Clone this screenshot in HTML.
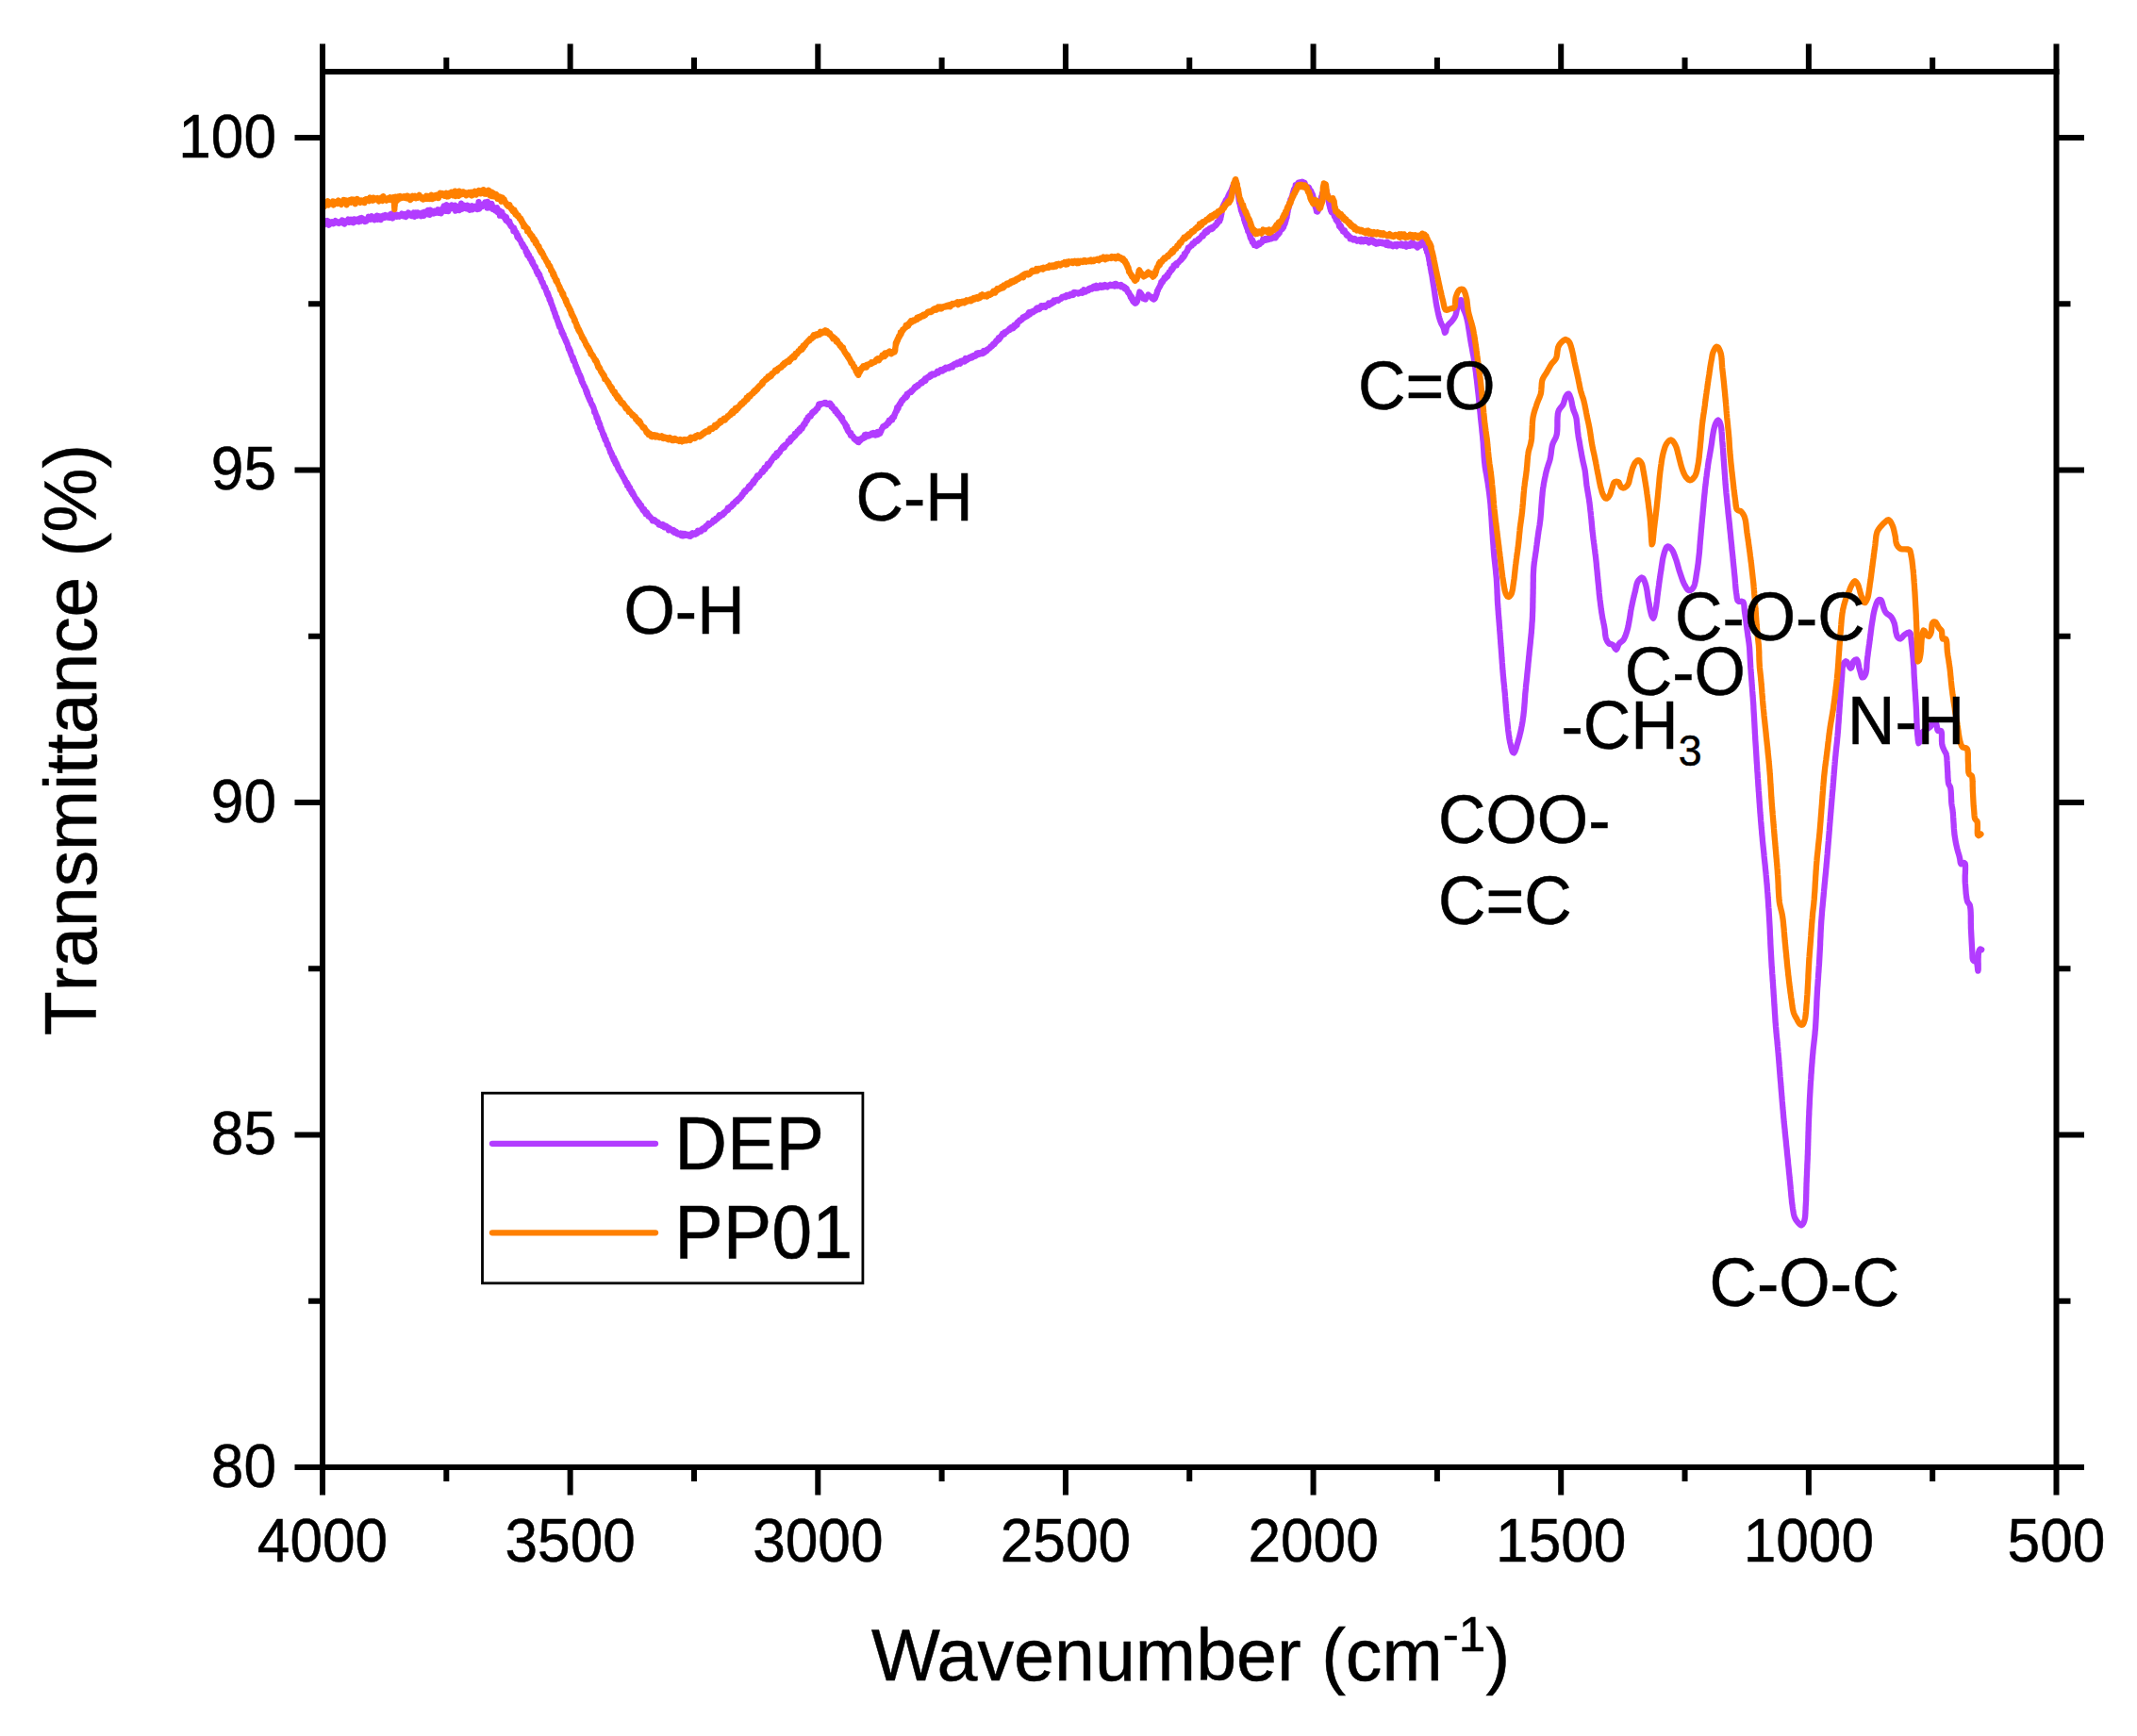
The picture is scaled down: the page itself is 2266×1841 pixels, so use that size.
<!DOCTYPE html>
<html lang="en"><head><meta charset="utf-8"><title>FTIR spectra</title>
<style>html,body{margin:0;padding:0;background:#fff}svg{display:block}text{font-kerning:none;stroke:#000;stroke-width:0.5px;font-family:"Liberation Sans",Arial,Helvetica,sans-serif;fill:#000}</style></head><body>
<svg width="2266" height="1841" viewBox="0 0 2266 1841">
<rect x="0" y="0" width="2266" height="1841" fill="#fff"/>
<g fill="none" stroke-linejoin="round" stroke-linecap="round" stroke-width="6.3">
<path stroke="#B23CFF" d="M343.8,238.0 L343.8,238.2 L343.8,236.3 L343.9,235.2 L344.1,234.8 L344.2,236.3 L344.4,234.8 L344.7,234.3 L344.9,236.5 L345.3,236.3 L345.6,236.9 L346.0,234.9 L346.4,236.1 L346.8,236.0 L347.2,234.0 L347.7,236.8 L348.2,236.4 L348.7,238.7 L349.3,236.2 L349.9,235.7 L350.4,237.5 L351.1,236.1 L351.7,237.0 L352.3,235.3 L353.0,236.0 L353.7,237.1 L354.4,236.6 L355.1,235.8 L355.8,234.1 L356.6,236.1 L357.3,235.6 L358.1,236.4 L358.8,235.7 L359.6,236.8 L360.4,235.2 L361.2,235.5 L362.0,236.1 L362.8,233.6 L363.6,234.5 L364.4,234.3 L365.2,237.6 L366.0,234.8 L366.8,235.7 L367.6,235.6 L368.4,234.3 L369.2,232.6 L370.0,235.9 L370.8,234.0 L371.6,235.5 L372.3,232.7 L373.1,233.8 L373.8,236.0 L374.6,236.2 L375.3,232.4 L376.0,232.3 L376.7,234.0 L377.4,235.0 L378.1,234.2 L378.7,234.3 L379.4,232.5 L380.0,234.5 L380.6,235.2 L381.2,233.0 L381.8,231.6 L382.4,232.5 L383.0,234.5 L383.6,231.0 L384.1,233.2 L384.7,231.9 L385.3,233.0 L385.9,232.7 L386.5,233.0 L387.1,235.0 L387.7,233.4 L388.3,234.6 L388.9,232.5 L389.5,232.0 L390.1,233.0 L390.7,229.8 L391.3,232.3 L391.9,232.5 L392.5,230.5 L393.1,232.7 L393.6,231.3 L394.2,229.2 L394.8,231.6 L395.4,230.5 L396.0,231.0 L396.6,231.4 L397.2,233.2 L397.8,231.6 L398.4,231.3 L399.0,231.8 L399.6,228.7 L400.2,232.8 L400.8,229.5 L401.4,231.5 L402.0,229.3 L402.6,229.4 L403.2,230.1 L403.8,233.1 L404.4,231.4 L405.0,229.6 L405.6,229.9 L406.2,228.7 L406.8,230.1 L407.4,229.3 L408.0,230.9 L408.6,228.0 L409.2,229.3 L409.7,228.6 L410.3,228.7 L410.9,230.5 L411.5,229.6 L412.1,230.2 L412.7,230.9 L413.3,230.8 L413.9,227.3 L414.5,229.8 L415.1,226.6 L415.7,228.9 L416.3,231.5 L416.9,228.6 L417.5,228.3 L418.1,228.9 L418.7,228.6 L419.3,228.6 L419.9,227.5 L420.5,229.9 L421.2,229.6 L421.8,228.0 L422.4,228.7 L423.0,229.1 L423.6,229.6 L424.2,228.6 L424.9,229.0 L425.5,227.7 L426.1,226.5 L426.7,227.3 L427.4,229.3 L428.0,229.2 L428.6,228.0 L429.2,227.0 L429.9,228.1 L430.5,229.9 L431.1,229.4 L431.7,226.7 L432.4,227.5 L433.0,225.5 L433.6,225.9 L434.2,227.7 L434.9,227.4 L435.5,228.6 L436.1,229.0 L436.7,228.4 L437.4,229.0 L438.0,226.4 L438.6,225.6 L439.2,227.8 L439.8,229.7 L440.4,227.5 L441.1,225.4 L441.7,227.2 L442.3,228.8 L442.9,225.4 L443.5,227.8 L444.1,225.9 L444.7,228.4 L445.3,227.7 L445.9,227.0 L446.5,229.2 L447.1,225.9 L447.7,225.5 L448.2,228.8 L448.8,225.1 L449.4,228.9 L450.0,226.1 L450.5,224.7 L451.1,226.0 L451.7,226.1 L452.2,226.2 L452.8,225.6 L453.4,227.2 L453.9,223.0 L454.5,224.8 L455.0,225.1 L455.7,227.9 L456.3,222.6 L456.9,224.7 L457.6,223.5 L458.2,224.0 L458.8,225.7 L459.5,225.2 L460.1,226.5 L460.7,223.6 L461.3,224.6 L461.9,225.7 L462.5,225.2 L463.1,223.4 L463.7,225.2 L464.3,222.3 L464.9,225.8 L465.5,223.6 L466.1,222.9 L466.7,223.5 L467.2,224.5 L467.8,226.2 L468.4,222.2 L469.0,221.6 L469.5,223.4 L470.1,220.3 L470.7,218.5 L471.3,223.4 L471.8,220.8 L472.4,223.8 L473.0,219.3 L473.6,217.2 L474.1,221.6 L474.7,221.3 L475.3,224.1 L475.9,221.8 L476.5,221.2 L477.0,221.7 L477.6,219.6 L478.2,220.4 L478.8,217.4 L479.4,221.1 L480.0,218.4 L480.6,219.0 L481.2,221.3 L481.8,221.6 L482.5,217.7 L483.1,223.7 L483.7,218.4 L484.4,221.3 L485.0,221.5 L485.7,220.0 L486.3,219.8 L487.0,223.1 L487.6,221.2 L488.3,220.3 L489.0,215.7 L489.6,217.9 L490.3,221.7 L490.9,219.7 L491.6,217.4 L492.2,218.0 L492.9,218.7 L493.5,220.7 L494.2,220.1 L494.8,221.3 L495.4,217.6 L496.1,221.3 L496.7,218.3 L497.3,218.7 L497.9,222.8 L498.5,219.4 L499.1,218.9 L499.7,218.8 L500.3,218.4 L500.8,222.3 L501.4,221.9 L502.0,220.5 L502.5,219.4 L503.0,221.1 L503.5,218.8 L504.0,219.8 L504.5,219.6 L505.0,218.9 L505.7,222.0 L506.4,222.0 L507.0,221.0 L507.6,214.2 L508.2,221.6 L508.8,219.1 L509.4,216.5 L509.9,217.1 L510.5,219.3 L511.0,219.2 L511.6,218.3 L512.1,216.7 L512.7,216.4 L513.2,217.9 L513.8,216.0 L514.4,214.4 L515.0,215.0 L515.5,216.1 L516.0,217.1 L516.5,220.6 L517.1,214.0 L517.6,217.9 L518.1,216.9 L518.7,218.0 L519.2,220.4 L519.8,220.4 L520.3,217.8 L520.9,217.3 L521.4,216.0 L522.0,219.0 L522.6,222.0 L523.1,219.3 L523.7,221.6 L524.2,222.0 L524.8,221.7 L525.3,223.5 L525.9,221.5 L526.4,220.4 L527.0,220.2 L527.5,224.8 L528.0,222.6 L528.5,223.1 L529.0,225.9 L529.5,223.0 L530.0,228.6 L530.4,226.7 L530.9,224.7 L531.3,224.9 L531.7,228.8 L532.2,224.6 L532.6,226.1 L533.0,227.8 L533.4,228.7 L533.8,228.7 L534.2,229.9 L534.6,228.8 L535.0,229.9 L535.4,231.9 L535.8,231.7 L536.2,230.9 L536.6,233.8 L536.9,230.2 L537.3,233.0 L537.7,234.1 L538.1,234.9 L538.4,234.5 L538.8,234.4 L539.2,236.0 L539.5,235.6 L539.9,236.9 L540.3,234.7 L540.7,237.8 L541.0,237.0 L541.4,239.5 L541.8,239.8 L542.1,240.3 L542.5,239.6 L542.8,240.9 L543.1,240.6 L543.5,241.6 L543.8,241.7 L544.1,241.4 L544.4,245.0 L544.7,244.1 L545.0,241.6 L545.4,245.3 L545.7,243.3 L546.0,245.1 L546.3,245.2 L546.6,245.8 L546.9,247.1 L547.2,247.0 L547.5,246.3 L547.8,248.4 L548.1,249.4 L548.4,251.4 L548.7,249.6 L549.0,249.2 L549.3,250.7 L549.6,252.3 L549.9,251.2 L550.2,251.9 L550.5,253.8 L550.8,253.7 L551.1,254.5 L551.4,254.1 L551.7,254.5 L552.0,255.6 L552.3,256.3 L552.6,256.6 L552.9,258.0 L553.2,258.7 L553.5,259.2 L553.8,259.7 L554.1,258.7 L554.4,259.0 L554.7,261.6 L555.0,261.3 L555.3,261.9 L555.6,261.0 L555.9,262.6 L556.2,262.7 L556.5,262.9 L556.8,263.7 L557.1,263.3 L557.4,265.5 L557.7,267.3 L558.0,265.7 L558.3,267.1 L558.6,266.4 L558.9,268.8 L559.2,270.7 L559.5,267.8 L559.8,269.4 L560.1,271.3 L560.4,271.0 L560.7,271.3 L561.0,270.2 L561.3,272.2 L561.6,273.6 L561.9,274.5 L562.2,274.4 L562.5,274.0 L562.8,274.4 L563.1,274.1 L563.4,275.2 L563.7,277.5 L564.0,277.1 L564.3,276.6 L564.6,279.3 L564.9,277.4 L565.2,280.3 L565.5,279.6 L565.8,280.7 L566.0,281.5 L566.3,281.7 L566.6,283.1 L566.9,282.6 L567.2,282.9 L567.5,283.2 L567.8,283.1 L568.0,284.2 L568.3,286.1 L568.6,286.5 L568.8,287.5 L569.1,288.5 L569.4,288.0 L569.6,288.3 L569.9,287.4 L570.2,288.8 L570.4,291.1 L570.7,290.5 L571.0,290.5 L571.2,291.4 L571.5,290.1 L571.8,291.5 L572.0,291.7 L572.3,291.6 L572.6,294.4 L572.8,295.1 L573.1,294.7 L573.4,295.7 L573.6,295.1 L573.9,296.8 L574.1,297.6 L574.4,298.8 L574.7,299.4 L574.9,299.1 L575.2,299.1 L575.4,299.1 L575.7,299.8 L576.0,301.4 L576.2,301.9 L576.5,302.0 L576.7,303.9 L577.0,303.6 L577.2,303.7 L577.5,304.1 L577.7,304.9 L578.0,304.6 L578.2,305.2 L578.5,306.8 L578.8,306.6 L579.0,307.5 L579.3,309.2 L579.5,308.7 L579.8,310.5 L580.0,310.0 L580.2,311.7 L580.4,311.4 L580.7,310.2 L580.9,313.1 L581.1,312.5 L581.3,311.7 L581.5,313.9 L581.8,314.5 L582.0,313.9 L582.2,315.0 L582.4,316.5 L582.6,317.7 L582.8,318.1 L583.1,318.7 L583.3,319.2 L583.5,317.3 L583.7,318.9 L583.9,320.2 L584.1,319.0 L584.3,321.8 L584.5,322.5 L584.7,321.7 L584.9,322.6 L585.2,322.7 L585.4,324.1 L585.6,324.6 L585.8,325.2 L586.0,325.0 L586.2,326.7 L586.4,326.7 L586.6,328.4 L586.8,328.4 L587.0,327.6 L587.2,328.2 L587.4,330.0 L587.6,330.1 L587.9,331.5 L588.1,332.4 L588.3,332.3 L588.5,331.5 L588.7,332.5 L588.9,334.5 L589.1,333.8 L589.3,336.1 L589.5,335.7 L589.7,336.8 L589.9,336.2 L590.1,337.4 L590.4,336.5 L590.6,338.5 L590.8,339.7 L591.0,339.1 L591.2,339.7 L591.4,340.9 L591.6,341.6 L591.9,341.4 L592.1,343.2 L592.3,341.9 L592.5,344.6 L592.7,343.2 L593.0,344.2 L593.2,346.5 L593.4,345.2 L593.6,345.3 L593.9,347.2 L594.1,347.0 L594.3,347.4 L594.6,348.3 L594.8,348.8 L595.0,349.2 L595.2,349.7 L595.5,352.4 L595.7,351.1 L595.9,353.0 L596.2,351.6 L596.4,353.8 L596.6,352.9 L596.9,354.1 L597.1,355.5 L597.3,355.1 L597.6,354.5 L597.8,356.2 L598.0,357.1 L598.3,358.2 L598.5,357.5 L598.7,358.6 L599.0,359.4 L599.2,358.6 L599.4,360.4 L599.7,360.4 L599.9,361.9 L600.1,362.0 L600.4,362.5 L600.6,361.6 L600.8,363.7 L601.1,364.0 L601.3,364.1 L601.5,365.0 L601.8,365.0 L602.0,366.7 L602.2,367.6 L602.5,368.1 L602.7,367.8 L602.9,370.1 L603.2,370.0 L603.4,369.1 L603.6,370.3 L603.8,369.6 L604.1,371.4 L604.3,372.6 L604.5,373.6 L604.8,372.9 L605.0,372.3 L605.2,374.2 L605.4,375.9 L605.7,375.5 L605.9,377.0 L606.1,377.2 L606.3,378.3 L606.6,378.1 L606.8,377.7 L607.0,379.1 L607.2,380.9 L607.5,379.4 L607.7,378.9 L607.9,382.6 L608.1,381.9 L608.4,381.6 L608.6,382.2 L608.8,382.0 L609.0,384.3 L609.2,384.4 L609.5,384.4 L609.7,385.1 L609.9,385.7 L610.1,387.4 L610.4,387.0 L610.6,388.8 L610.8,387.6 L611.0,388.3 L611.2,389.0 L611.5,389.5 L611.7,390.4 L611.9,391.9 L612.1,392.6 L612.4,391.3 L612.6,393.8 L612.8,393.4 L613.0,395.1 L613.3,394.3 L613.5,394.3 L613.7,396.2 L613.9,396.6 L614.1,396.3 L614.4,397.2 L614.6,397.9 L614.8,398.6 L615.0,397.5 L615.3,398.5 L615.5,400.1 L615.7,400.8 L615.9,400.7 L616.2,400.3 L616.4,403.3 L616.6,402.5 L616.8,402.5 L617.1,405.2 L617.3,405.4 L617.5,405.8 L617.7,406.2 L618.0,406.6 L618.2,405.9 L618.4,407.3 L618.7,408.1 L618.9,408.9 L619.1,409.3 L619.3,408.7 L619.6,409.5 L619.8,410.3 L620.0,411.0 L620.3,411.0 L620.5,410.8 L620.7,411.8 L621.0,413.6 L621.2,413.9 L621.4,414.9 L621.7,413.5 L621.9,415.2 L622.1,416.8 L622.4,415.1 L622.6,416.3 L622.8,416.4 L623.1,419.3 L623.3,418.9 L623.5,418.9 L623.8,420.1 L624.0,420.4 L624.2,421.8 L624.5,422.5 L624.7,422.9 L624.9,423.0 L625.2,423.9 L625.4,424.5 L625.6,425.3 L625.9,423.5 L626.1,425.8 L626.3,426.1 L626.6,426.7 L626.8,426.9 L627.0,427.6 L627.2,428.6 L627.5,429.0 L627.7,429.5 L627.9,429.1 L628.2,429.5 L628.4,430.5 L628.6,430.2 L628.9,431.8 L629.1,432.1 L629.3,431.9 L629.5,432.3 L629.8,434.1 L630.0,434.5 L630.2,437.1 L630.4,436.8 L630.7,436.0 L630.9,436.8 L631.1,437.0 L631.3,437.7 L631.5,438.6 L631.7,439.4 L632.0,439.5 L632.2,441.2 L632.4,441.6 L632.6,443.2 L632.8,441.2 L633.0,443.4 L633.2,443.1 L633.5,442.7 L633.7,444.3 L633.9,443.8 L634.1,445.6 L634.3,447.8 L634.5,447.8 L634.7,448.8 L634.9,448.9 L635.2,447.3 L635.4,449.4 L635.6,449.8 L635.8,450.6 L636.0,449.9 L636.2,449.8 L636.4,453.5 L636.6,453.4 L636.9,453.3 L637.1,453.2 L637.3,454.3 L637.5,453.8 L637.7,456.1 L637.9,456.0 L638.1,456.3 L638.4,456.7 L638.6,457.5 L638.8,458.3 L639.0,458.4 L639.2,460.0 L639.4,460.0 L639.6,460.3 L639.9,460.3 L640.1,462.5 L640.3,463.1 L640.5,463.2 L640.7,461.7 L640.9,463.4 L641.2,465.1 L641.4,464.8 L641.6,466.4 L641.8,465.5 L642.1,467.1 L642.3,467.4 L642.5,465.9 L642.7,467.8 L643.0,468.5 L643.2,468.7 L643.5,469.1 L643.7,471.6 L644.0,470.8 L644.2,472.1 L644.4,471.0 L644.7,471.1 L644.9,472.8 L645.2,474.1 L645.4,473.8 L645.7,475.3 L645.9,476.1 L646.2,475.7 L646.4,476.6 L646.6,476.6 L646.9,478.6 L647.1,479.7 L647.4,479.2 L647.6,479.0 L647.9,479.4 L648.1,480.3 L648.4,481.8 L648.6,481.0 L648.9,483.4 L649.1,481.7 L649.4,483.3 L649.6,484.9 L649.9,485.8 L650.1,484.6 L650.4,486.1 L650.6,487.6 L650.9,487.5 L651.1,485.5 L651.4,487.8 L651.7,489.7 L651.9,487.8 L652.2,489.9 L652.4,488.2 L652.7,491.6 L652.9,490.1 L653.2,492.0 L653.4,492.6 L653.7,490.8 L654.0,491.8 L654.2,493.7 L654.5,492.7 L654.7,494.5 L655.0,494.2 L655.3,496.6 L655.6,495.7 L655.9,496.0 L656.2,497.8 L656.4,498.8 L656.7,498.2 L657.0,499.2 L657.3,499.9 L657.6,499.6 L657.9,499.6 L658.2,501.6 L658.5,501.4 L658.8,501.1 L659.1,503.4 L659.4,503.7 L659.7,504.0 L660.0,503.8 L660.3,504.7 L660.6,505.9 L660.9,506.4 L661.2,505.9 L661.5,506.3 L661.8,507.9 L662.1,508.3 L662.4,509.3 L662.7,508.2 L663.0,510.4 L663.3,511.6 L663.6,511.5 L663.9,511.4 L664.2,512.5 L664.5,511.3 L664.8,512.5 L665.1,515.0 L665.4,512.6 L665.7,513.5 L666.0,515.6 L666.3,514.9 L666.6,515.5 L666.9,515.6 L667.2,518.3 L667.5,517.0 L667.8,517.8 L668.1,517.1 L668.4,519.7 L668.8,519.6 L669.1,520.6 L669.4,522.0 L669.7,521.4 L670.0,520.8 L670.3,521.5 L670.6,522.9 L670.9,524.4 L671.3,523.0 L671.6,524.3 L671.9,524.9 L672.2,526.0 L672.5,525.3 L672.8,526.8 L673.1,527.7 L673.5,527.6 L673.8,528.1 L674.1,529.2 L674.4,529.7 L674.7,530.7 L675.0,529.4 L675.4,531.7 L675.7,531.1 L676.0,530.8 L676.3,531.8 L676.7,531.8 L677.0,533.1 L677.3,534.6 L677.6,532.6 L678.0,533.8 L678.3,535.8 L678.6,535.4 L679.0,536.8 L679.3,535.5 L679.7,537.0 L680.0,535.9 L680.4,537.3 L680.8,539.1 L681.2,540.0 L681.6,540.9 L682.0,540.0 L682.3,539.9 L682.7,540.7 L683.1,540.0 L683.5,543.1 L683.9,543.5 L684.3,542.3 L684.7,544.9 L685.1,542.9 L685.5,544.9 L685.9,544.2 L686.3,543.9 L686.7,546.1 L687.1,545.3 L687.6,547.6 L688.0,546.4 L688.4,547.6 L688.8,547.6 L689.3,548.5 L689.7,548.3 L690.2,549.9 L690.6,550.1 L691.1,550.1 L691.5,550.4 L692.0,552.4 L692.5,550.7 L693.0,551.3 L693.4,552.6 L693.9,552.3 L694.4,551.4 L694.9,552.9 L695.4,553.1 L695.9,552.9 L696.4,554.2 L697.0,553.5 L697.5,554.5 L698.0,554.1 L698.6,556.6 L699.1,555.4 L699.6,556.3 L700.2,556.5 L700.7,557.1 L701.3,556.8 L701.8,557.8 L702.4,557.6 L703.0,556.1 L703.5,558.3 L704.1,557.3 L704.6,559.4 L705.2,559.0 L705.7,558.8 L706.3,557.8 L706.8,558.1 L707.3,559.0 L707.9,559.9 L708.4,559.4 L709.0,562.3 L709.5,561.4 L710.0,561.2 L710.6,560.7 L711.1,561.5 L711.7,561.9 L712.3,562.0 L712.8,562.6 L713.4,563.6 L714.0,561.9 L714.5,563.8 L715.1,564.7 L715.6,563.0 L716.2,564.3 L716.8,564.4 L717.3,564.1 L717.9,566.0 L718.4,565.2 L719.0,566.6 L719.5,566.3 L720.1,566.0 L720.6,566.6 L721.2,566.3 L721.7,565.5 L722.3,568.1 L722.8,567.4 L723.4,568.1 L723.9,565.9 L724.5,568.3 L725.0,568.2 L725.6,567.5 L726.2,566.0 L726.8,567.7 L727.4,567.1 L728.0,567.5 L728.6,567.7 L729.2,566.9 L729.8,567.4 L730.4,567.5 L730.9,568.5 L731.5,567.2 L732.1,568.8 L732.7,566.1 L733.3,566.8 L733.9,567.7 L734.5,565.3 L735.1,566.9 L735.7,566.5 L736.3,565.5 L736.9,565.5 L737.5,566.7 L738.0,564.9 L738.5,565.3 L738.9,565.2 L739.4,565.6 L739.9,562.8 L740.4,563.0 L740.9,562.8 L741.3,563.4 L741.8,563.8 L742.3,563.7 L742.8,562.5 L743.3,563.6 L743.8,562.0 L744.3,562.3 L744.8,560.8 L745.3,561.8 L745.8,560.2 L746.3,561.3 L746.8,560.7 L747.3,561.2 L747.8,558.9 L748.3,558.0 L748.8,559.2 L749.3,558.4 L749.8,557.3 L750.3,556.3 L750.8,557.6 L751.3,555.0 L751.8,555.8 L752.4,556.6 L752.9,555.2 L753.4,555.3 L753.9,554.9 L754.5,554.6 L755.0,554.6 L755.4,553.9 L755.9,552.8 L756.3,551.8 L756.7,552.2 L757.2,551.6 L757.6,552.1 L758.1,552.4 L758.5,551.7 L759.0,550.1 L759.4,550.5 L759.9,550.0 L760.4,549.2 L760.8,550.3 L761.3,549.4 L761.7,548.8 L762.2,547.2 L762.7,546.2 L763.1,546.8 L763.6,547.9 L764.1,546.5 L764.5,546.2 L765.0,545.7 L765.5,545.9 L766.0,545.1 L766.4,546.1 L766.9,544.2 L767.4,543.7 L767.9,544.6 L768.3,543.7 L768.8,543.3 L769.3,542.7 L769.8,541.9 L770.2,541.7 L770.7,541.5 L771.2,540.7 L771.7,538.7 L772.1,540.9 L772.6,539.0 L773.1,538.5 L773.6,538.3 L774.0,537.6 L774.5,537.0 L775.0,537.2 L775.4,537.6 L775.9,536.2 L776.4,536.4 L776.8,534.5 L777.3,535.7 L777.7,533.8 L778.2,534.8 L778.6,533.2 L779.1,532.9 L779.6,531.9 L780.0,531.5 L780.4,531.9 L780.8,530.9 L781.2,531.1 L781.6,531.8 L782.1,529.7 L782.5,529.7 L782.9,529.5 L783.3,528.6 L783.7,528.7 L784.1,528.5 L784.5,528.7 L784.9,526.8 L785.3,526.8 L785.7,526.4 L786.1,527.0 L786.5,524.8 L786.9,525.3 L787.3,525.3 L787.7,524.7 L788.1,523.3 L788.5,522.5 L788.9,521.4 L789.3,522.0 L789.7,521.8 L790.1,520.3 L790.5,521.7 L790.9,520.7 L791.2,519.9 L791.6,519.2 L792.0,519.6 L792.4,518.5 L792.8,518.7 L793.2,517.4 L793.6,518.2 L794.0,515.6 L794.4,515.5 L794.8,517.4 L795.2,516.3 L795.6,516.3 L796.0,513.9 L796.3,514.6 L796.7,514.4 L797.1,513.8 L797.5,512.5 L797.9,513.3 L798.3,512.0 L798.7,510.2 L799.1,512.3 L799.5,510.4 L799.9,510.8 L800.3,508.8 L800.7,508.1 L801.1,509.1 L801.4,508.6 L801.8,506.8 L802.2,507.2 L802.6,505.5 L803.0,504.4 L803.4,506.5 L803.8,504.2 L804.2,505.3 L804.6,505.1 L805.0,504.0 L805.4,504.5 L805.8,503.1 L806.2,502.6 L806.6,501.9 L807.0,501.8 L807.4,501.3 L807.8,499.8 L808.2,500.0 L808.6,499.3 L809.0,500.7 L809.4,499.7 L809.8,497.6 L810.2,498.2 L810.6,495.9 L811.0,496.8 L811.4,497.8 L811.8,495.9 L812.2,496.4 L812.6,494.6 L813.0,494.8 L813.4,494.3 L813.8,491.9 L814.2,492.4 L814.6,494.1 L815.0,491.4 L815.4,492.6 L815.8,492.6 L816.2,490.7 L816.6,491.0 L817.0,490.1 L817.4,488.8 L817.8,489.3 L818.2,488.7 L818.6,487.1 L819.0,487.1 L819.4,485.9 L819.8,486.3 L820.2,486.0 L820.6,484.8 L821.0,483.7 L821.4,485.2 L821.8,485.2 L822.2,483.0 L822.6,483.4 L823.0,482.3 L823.4,480.8 L823.8,483.6 L824.2,481.7 L824.6,479.9 L825.0,481.6 L825.4,480.8 L825.8,480.9 L826.2,479.9 L826.5,479.3 L826.9,479.6 L827.3,477.8 L827.7,477.7 L828.1,476.3 L828.5,475.8 L828.9,476.4 L829.2,476.0 L829.6,474.2 L830.0,475.3 L830.4,475.3 L830.9,473.0 L831.3,473.3 L831.8,474.5 L832.2,471.9 L832.7,472.6 L833.1,472.3 L833.6,471.3 L834.0,470.8 L834.5,470.7 L834.9,470.0 L835.4,469.4 L835.8,467.7 L836.3,468.6 L836.7,467.3 L837.2,468.6 L837.6,468.6 L838.1,467.4 L838.5,464.5 L839.0,466.4 L839.4,465.2 L839.9,463.8 L840.3,463.3 L840.8,464.6 L841.2,462.8 L841.7,462.8 L842.1,462.5 L842.5,462.8 L842.9,460.0 L843.4,462.1 L843.8,460.1 L844.2,460.0 L844.6,460.3 L845.0,459.7 L845.4,457.4 L845.8,459.1 L846.2,458.0 L846.6,456.9 L846.9,456.8 L847.3,455.6 L847.7,457.1 L848.0,457.3 L848.4,455.2 L848.7,454.9 L849.0,453.8 L849.4,454.0 L849.7,453.3 L850.0,453.8 L850.4,454.6 L850.9,453.5 L851.3,452.8 L851.7,450.7 L852.0,451.6 L852.4,449.8 L852.7,449.2 L853.0,449.9 L853.4,448.7 L853.7,449.9 L854.0,447.9 L854.3,447.0 L854.6,447.4 L854.9,445.3 L855.2,446.3 L855.5,446.5 L855.8,444.7 L856.1,443.9 L856.5,444.8 L856.8,442.5 L857.1,443.2 L857.5,442.1 L857.9,442.2 L858.4,440.9 L858.8,441.5 L859.2,441.0 L859.7,441.5 L860.2,439.4 L860.6,439.6 L861.1,437.4 L861.5,437.7 L862.0,438.2 L862.5,436.4 L862.9,437.0 L863.3,436.0 L863.8,436.7 L864.2,436.3 L864.6,435.1 L865.0,435.5 L865.4,434.0 L865.8,434.1 L866.2,433.8 L866.5,433.3 L866.9,432.8 L867.2,433.1 L867.5,430.7 L867.9,430.6 L868.2,428.8 L868.6,430.5 L869.1,428.5 L869.5,428.6 L870.0,428.3 L870.5,428.9 L871.1,428.1 L871.7,428.0 L872.3,428.1 L872.9,427.7 L873.6,427.9 L874.3,427.1 L874.9,427.5 L875.6,427.0 L876.3,428.7 L877.0,428.8 L877.6,428.7 L878.2,428.6 L878.8,428.1 L879.4,429.2 L879.9,427.7 L880.4,427.7 L880.9,428.6 L881.3,431.1 L881.8,430.5 L882.2,432.0 L882.6,430.6 L883.0,432.5 L883.5,433.4 L883.9,433.4 L884.3,433.4 L884.7,434.5 L885.1,433.8 L885.4,436.1 L885.8,434.2 L886.2,435.0 L886.6,436.1 L887.0,435.9 L887.4,438.4 L887.8,437.9 L888.2,437.3 L888.5,439.7 L888.9,439.9 L889.3,439.0 L889.6,441.0 L890.0,441.2 L890.4,440.3 L890.7,440.7 L891.1,441.9 L891.4,443.1 L891.8,444.0 L892.2,444.4 L892.5,443.4 L892.8,442.8 L893.1,443.4 L893.4,446.5 L893.7,446.6 L894.0,447.3 L894.4,446.9 L894.7,447.5 L895.0,448.4 L895.2,448.9 L895.5,449.2 L895.8,448.9 L896.1,449.1 L896.4,450.9 L896.7,451.2 L897.0,453.0 L897.3,451.6 L897.6,451.4 L897.9,451.9 L898.2,454.0 L898.5,455.9 L898.8,454.7 L899.1,455.0 L899.4,456.4 L899.7,457.9 L900.0,458.1 L900.4,458.4 L900.7,459.0 L901.0,458.5 L901.3,459.3 L901.6,460.1 L901.9,461.7 L902.3,459.1 L902.6,460.7 L903.0,461.9 L903.4,461.9 L903.8,462.4 L904.2,462.7 L904.6,462.7 L905.1,464.3 L905.6,465.4 L906.1,464.6 L906.6,465.7 L907.1,466.7 L907.6,465.7 L908.1,466.5 L908.6,465.8 L909.1,468.4 L909.6,468.7 L910.1,467.3 L910.6,469.1 L911.1,468.1 L911.6,465.7 L912.1,467.3 L912.6,466.6 L913.1,466.4 L913.6,466.0 L914.1,464.5 L914.6,465.3 L915.1,464.1 L915.7,465.0 L916.2,463.0 L916.8,461.3 L917.3,464.2 L917.8,462.9 L918.4,460.8 L919.0,461.6 L919.6,461.3 L920.2,462.5 L920.8,461.1 L921.4,462.4 L922.0,460.9 L922.6,461.9 L923.3,460.5 L923.8,459.9 L924.4,461.2 L925.0,460.4 L925.7,460.9 L926.3,459.0 L927.0,459.4 L927.6,459.8 L928.3,461.6 L929.0,460.3 L929.6,458.5 L930.2,458.1 L930.8,461.0 L931.4,459.6 L932.0,458.0 L932.5,459.5 L932.9,459.1 L933.3,459.6 L933.7,457.8 L934.1,456.8 L934.4,457.3 L934.7,455.1 L935.0,455.3 L935.4,454.3 L935.7,454.1 L936.0,453.0 L936.3,452.3 L936.7,452.0 L937.1,452.7 L937.5,451.9 L937.9,451.4 L938.3,451.4 L938.7,451.2 L939.2,450.6 L939.7,451.4 L940.2,449.6 L940.7,449.3 L941.2,448.2 L941.7,449.0 L942.2,448.9 L942.7,445.7 L943.2,447.6 L943.7,445.6 L944.1,446.3 L944.6,445.7 L945.0,444.2 L945.5,443.6 L945.9,444.0 L946.2,445.4 L946.6,442.3 L946.9,442.4 L947.3,442.0 L947.6,441.4 L947.9,442.0 L948.1,442.2 L948.4,440.0 L948.6,439.8 L948.9,438.6 L949.1,439.6 L949.4,437.7 L949.6,437.7 L949.9,436.4 L950.1,436.9 L950.4,435.4 L950.7,434.2 L951.0,435.8 L951.2,432.2 L951.6,433.4 L951.9,432.4 L952.2,431.4 L952.5,433.2 L952.8,431.3 L953.1,430.2 L953.4,429.3 L953.7,429.7 L954.0,428.9 L954.4,428.2 L954.7,427.3 L955.0,428.5 L955.4,427.0 L955.7,426.1 L956.1,424.7 L956.4,424.6 L956.8,425.3 L957.1,423.6 L957.5,424.3 L957.9,423.2 L958.3,423.1 L958.6,422.6 L959.0,421.5 L959.4,421.1 L959.8,420.8 L960.2,421.0 L960.6,421.6 L961.1,420.2 L961.5,418.0 L961.9,420.3 L962.3,418.1 L962.8,417.2 L963.2,417.4 L963.6,416.9 L964.1,416.7 L964.5,416.0 L965.0,415.6 L965.4,416.2 L965.9,416.2 L966.3,414.5 L966.8,415.3 L967.2,414.4 L967.7,414.2 L968.2,413.0 L968.7,412.6 L969.1,412.7 L969.6,410.9 L970.1,411.3 L970.6,410.0 L971.1,411.2 L971.6,410.3 L972.1,410.2 L972.6,409.1 L973.1,408.4 L973.5,409.4 L974.0,407.9 L974.5,407.7 L975.0,407.5 L975.5,407.5 L976.0,406.8 L976.5,405.5 L977.0,405.1 L977.5,406.4 L978.0,404.9 L978.5,404.6 L979.0,403.7 L979.5,404.7 L980.0,404.0 L980.5,402.8 L981.0,401.5 L981.5,403.9 L982.0,401.7 L982.5,400.8 L983.0,401.0 L983.5,400.1 L984.0,400.7 L984.5,399.9 L985.0,399.1 L985.5,400.2 L986.0,398.7 L986.5,397.5 L987.1,399.0 L987.6,398.0 L988.1,397.2 L988.6,396.5 L989.1,396.9 L989.7,396.7 L990.2,396.5 L990.7,396.2 L991.2,397.4 L991.8,396.9 L992.3,396.0 L992.8,396.0 L993.4,394.9 L993.9,393.8 L994.5,395.1 L995.0,395.5 L995.5,393.6 L996.1,393.3 L996.6,393.0 L997.2,392.3 L997.7,393.5 L998.3,392.0 L998.8,393.7 L999.4,393.7 L1000.0,392.2 L1000.5,391.8 L1001.1,390.9 L1001.7,392.1 L1002.2,391.2 L1002.8,389.7 L1003.4,389.9 L1003.9,390.8 L1004.5,389.8 L1005.1,390.3 L1005.7,389.9 L1006.2,390.5 L1006.8,389.1 L1007.4,389.7 L1007.9,389.5 L1008.5,389.5 L1009.0,387.9 L1009.6,388.1 L1010.2,389.2 L1010.7,387.2 L1011.3,386.6 L1011.9,387.0 L1012.5,385.7 L1013.0,385.7 L1013.6,385.7 L1014.2,385.6 L1014.8,386.4 L1015.3,384.4 L1015.9,384.9 L1016.5,385.0 L1017.0,384.3 L1017.6,384.9 L1018.2,385.6 L1018.8,382.9 L1019.3,382.8 L1019.9,382.8 L1020.4,382.5 L1021.0,382.3 L1021.6,382.8 L1022.1,383.6 L1022.7,383.6 L1023.3,381.6 L1023.8,379.9 L1024.4,382.4 L1025.0,381.0 L1025.5,380.4 L1026.1,381.3 L1026.7,380.1 L1027.2,379.7 L1027.8,379.0 L1028.4,380.1 L1028.9,379.8 L1029.5,378.2 L1030.1,378.2 L1030.7,379.4 L1031.2,377.5 L1031.8,377.5 L1032.3,377.0 L1032.9,377.2 L1033.4,377.8 L1034.0,377.0 L1034.6,377.5 L1035.1,376.9 L1035.7,374.6 L1036.3,376.0 L1036.8,375.8 L1037.4,374.2 L1038.0,375.9 L1038.6,375.0 L1039.1,374.4 L1039.7,375.0 L1040.2,375.1 L1040.8,374.7 L1041.4,373.4 L1041.9,373.6 L1042.4,374.9 L1043.0,372.0 L1043.5,372.8 L1044.0,372.5 L1044.5,373.4 L1045.0,372.4 L1045.5,371.7 L1046.1,371.0 L1046.6,371.9 L1047.1,370.6 L1047.6,370.1 L1048.1,369.9 L1048.5,370.0 L1049.0,369.1 L1049.5,368.9 L1050.0,368.9 L1050.4,367.3 L1050.9,367.3 L1051.4,367.1 L1051.8,367.2 L1052.3,366.7 L1052.7,365.5 L1053.2,364.6 L1053.6,364.7 L1054.1,364.2 L1054.5,364.9 L1055.0,364.3 L1055.4,363.4 L1055.9,362.1 L1056.3,361.4 L1056.7,362.2 L1057.1,362.1 L1057.5,361.5 L1057.9,360.5 L1058.3,360.7 L1058.8,358.2 L1059.2,360.2 L1059.6,360.0 L1060.0,358.5 L1060.4,358.1 L1060.8,357.2 L1061.2,357.7 L1061.6,355.8 L1062.0,355.6 L1062.4,355.9 L1062.9,354.0 L1063.3,355.1 L1063.7,354.7 L1064.1,353.9 L1064.6,353.1 L1065.0,354.5 L1065.5,352.3 L1066.0,352.4 L1066.5,352.6 L1067.0,351.6 L1067.5,352.1 L1068.0,350.9 L1068.5,350.8 L1069.0,350.2 L1069.5,350.5 L1070.0,349.1 L1070.5,350.0 L1071.0,349.8 L1071.5,347.8 L1072.0,347.2 L1072.5,347.0 L1073.0,347.1 L1073.5,347.9 L1074.0,347.1 L1074.5,348.1 L1075.0,347.5 L1075.5,344.6 L1075.9,345.2 L1076.4,344.8 L1076.8,346.0 L1077.3,344.9 L1077.7,344.6 L1078.1,342.7 L1078.6,344.6 L1079.0,341.6 L1079.4,342.1 L1079.9,340.9 L1080.3,340.5 L1080.7,341.0 L1081.2,339.6 L1081.6,340.4 L1082.1,339.8 L1082.5,339.0 L1083.0,339.1 L1083.5,339.0 L1084.0,338.6 L1084.5,336.4 L1085.0,337.4 L1085.5,337.3 L1085.9,335.9 L1086.4,335.5 L1086.9,336.5 L1087.4,335.7 L1087.9,334.9 L1088.4,335.6 L1088.9,334.8 L1089.4,335.1 L1089.9,333.1 L1090.4,333.9 L1091.0,331.1 L1091.5,331.9 L1092.0,333.4 L1092.6,330.9 L1093.1,331.3 L1093.6,330.8 L1094.2,331.1 L1094.7,331.3 L1095.3,331.4 L1095.8,329.7 L1096.3,329.7 L1096.9,329.9 L1097.4,329.8 L1097.9,328.4 L1098.5,329.4 L1099.0,326.9 L1099.5,328.0 L1100.0,326.4 L1100.6,326.8 L1101.2,326.3 L1101.7,328.1 L1102.3,327.8 L1102.9,326.8 L1103.5,326.1 L1104.0,324.2 L1104.6,324.2 L1105.2,325.4 L1105.7,325.7 L1106.3,325.3 L1106.9,324.1 L1107.4,323.9 L1108.0,324.7 L1108.6,325.7 L1109.1,324.4 L1109.7,323.6 L1110.2,323.3 L1110.8,323.6 L1111.4,323.2 L1111.9,321.6 L1112.5,323.7 L1113.0,322.6 L1113.6,322.4 L1114.1,321.4 L1114.7,322.3 L1115.2,322.0 L1115.8,320.3 L1116.3,321.4 L1116.9,319.8 L1117.4,318.6 L1117.9,320.4 L1118.5,318.7 L1119.0,318.7 L1119.6,318.2 L1120.1,318.6 L1120.6,318.0 L1121.2,318.2 L1121.7,318.2 L1122.3,318.8 L1122.8,317.6 L1123.4,317.4 L1123.9,317.1 L1124.4,317.1 L1125.0,317.0 L1125.6,316.2 L1126.1,314.9 L1126.7,314.8 L1127.3,315.6 L1127.8,314.9 L1128.4,314.6 L1128.9,314.3 L1129.5,313.9 L1130.1,315.2 L1130.7,314.7 L1131.2,312.9 L1131.8,313.9 L1132.4,313.5 L1132.9,313.0 L1133.5,314.0 L1134.1,313.2 L1134.6,312.8 L1135.2,311.9 L1135.8,313.2 L1136.4,312.4 L1136.9,312.3 L1137.5,311.3 L1138.1,312.9 L1138.7,310.0 L1139.3,310.3 L1139.9,309.9 L1140.5,310.1 L1141.1,310.1 L1141.7,310.4 L1142.3,310.4 L1142.9,310.7 L1143.5,311.5 L1144.0,310.7 L1144.6,310.2 L1145.2,309.9 L1145.8,310.1 L1146.4,310.3 L1147.0,309.0 L1147.6,310.8 L1148.2,309.2 L1148.8,309.8 L1149.4,307.3 L1150.0,308.9 L1150.6,308.3 L1151.1,309.5 L1151.7,309.0 L1152.3,308.2 L1152.8,308.3 L1153.4,307.3 L1154.0,306.6 L1154.5,308.0 L1155.1,305.9 L1155.7,306.3 L1156.2,305.5 L1156.8,305.5 L1157.4,305.7 L1157.9,306.5 L1158.5,304.8 L1159.1,306.0 L1159.6,303.7 L1160.2,304.4 L1160.8,304.2 L1161.4,305.2 L1161.9,305.6 L1162.5,302.8 L1163.1,304.3 L1163.7,305.4 L1164.3,304.1 L1165.0,305.2 L1165.6,304.8 L1166.2,304.0 L1166.8,302.6 L1167.4,303.1 L1168.0,304.8 L1168.7,302.8 L1169.3,302.6 L1169.9,303.0 L1170.5,304.4 L1171.2,303.4 L1171.8,302.1 L1172.4,302.7 L1173.1,303.7 L1173.7,304.1 L1174.3,304.4 L1175.0,303.5 L1175.6,303.4 L1176.2,302.3 L1176.8,302.5 L1177.4,301.8 L1178.1,302.8 L1178.7,303.1 L1179.4,302.8 L1180.0,302.0 L1180.7,303.1 L1181.3,303.3 L1182.0,303.6 L1182.6,300.9 L1183.3,300.9 L1183.9,301.6 L1184.6,302.9 L1185.2,303.3 L1185.8,303.0 L1186.4,302.5 L1187.0,302.7 L1187.6,302.4 L1188.1,302.1 L1188.6,301.9 L1189.1,304.4 L1189.6,302.8 L1190.0,303.5 L1190.6,303.8 L1191.2,304.4 L1191.7,303.9 L1192.1,305.1 L1192.6,306.3 L1193.0,304.6 L1193.4,305.1 L1193.8,305.2 L1194.2,306.2 L1194.6,306.0 L1195.0,307.8 L1195.3,308.5 L1195.7,309.4 L1196.0,310.0 L1196.3,309.2 L1196.7,310.2 L1197.0,310.0 L1197.3,311.3 L1197.6,311.9 L1197.9,312.8 L1198.2,313.0 L1198.5,312.7 L1198.8,315.0 L1199.1,314.6 L1199.4,314.2 L1199.7,314.4 L1200.0,316.8 L1200.4,315.4 L1200.8,318.1 L1201.2,319.4 L1201.5,319.3 L1201.9,320.1 L1202.3,320.5 L1202.7,320.1 L1203.0,321.1 L1203.4,319.7 L1203.8,321.7 L1204.1,321.6 L1204.5,320.9 L1204.9,321.2 L1205.3,319.6 L1205.6,317.7 L1206.0,319.5 L1206.3,317.7 L1206.6,316.4 L1206.9,315.8 L1207.1,315.3 L1207.3,315.0 L1207.5,313.1 L1207.6,313.4 L1207.8,312.2 L1207.9,312.2 L1208.1,310.8 L1208.3,311.0 L1208.5,309.5 L1208.8,310.3 L1209.0,309.8 L1209.3,311.2 L1209.6,311.1 L1209.9,312.2 L1210.3,311.7 L1210.6,312.4 L1211.0,313.6 L1211.4,313.6 L1211.8,314.8 L1212.2,316.6 L1212.7,315.2 L1213.1,315.8 L1213.6,316.3 L1214.1,317.4 L1214.7,317.5 L1215.3,315.1 L1215.9,314.7 L1216.5,314.9 L1217.1,313.8 L1217.6,312.4 L1218.2,314.3 L1218.8,314.0 L1219.3,314.1 L1219.8,314.7 L1220.4,314.9 L1220.9,314.8 L1221.4,316.3 L1221.9,316.4 L1222.4,317.0 L1222.9,316.4 L1223.3,317.6 L1223.8,317.5 L1224.1,316.7 L1224.4,316.5 L1224.7,316.4 L1224.9,316.2 L1225.2,315.2 L1225.4,314.2 L1225.6,314.5 L1225.9,312.8 L1226.1,313.2 L1226.3,311.6 L1226.5,311.3 L1226.7,311.6 L1227.0,308.5 L1227.2,308.3 L1227.5,308.3 L1227.8,308.1 L1228.0,307.0 L1228.3,306.3 L1228.5,306.0 L1228.8,305.2 L1229.0,305.5 L1229.3,304.3 L1229.6,304.1 L1229.8,303.7 L1230.1,303.6 L1230.4,302.0 L1230.7,301.6 L1231.0,301.7 L1231.3,299.2 L1231.6,300.3 L1231.9,299.1 L1232.2,299.9 L1232.5,298.5 L1232.8,297.5 L1233.2,298.6 L1233.6,296.8 L1234.0,296.1 L1234.4,296.7 L1234.7,294.3 L1235.1,295.3 L1235.5,295.5 L1236.0,293.5 L1236.4,294.8 L1236.8,293.4 L1237.2,292.7 L1237.6,291.4 L1238.0,293.3 L1238.4,292.8 L1238.8,291.0 L1239.1,291.0 L1239.5,288.8 L1239.8,289.8 L1240.2,289.5 L1240.6,288.1 L1240.9,287.7 L1241.3,287.5 L1241.6,286.5 L1242.0,285.3 L1242.3,286.7 L1242.7,286.3 L1243.0,285.5 L1243.4,285.1 L1243.8,284.8 L1244.2,283.3 L1244.6,281.4 L1245.0,282.5 L1245.4,281.6 L1245.8,280.7 L1246.2,281.6 L1246.6,279.9 L1247.1,279.4 L1247.5,281.5 L1248.0,279.1 L1248.4,279.2 L1248.9,279.1 L1249.3,278.7 L1249.8,277.7 L1250.3,277.8 L1250.7,276.9 L1251.2,276.1 L1251.6,275.8 L1252.1,276.1 L1252.5,275.7 L1252.9,275.0 L1253.3,273.0 L1253.8,273.6 L1254.1,273.7 L1254.5,272.5 L1254.8,272.7 L1255.2,271.9 L1255.5,272.2 L1255.9,269.1 L1256.2,270.3 L1256.5,270.5 L1256.8,269.7 L1257.2,268.2 L1257.5,267.9 L1257.8,267.2 L1258.1,267.3 L1258.4,267.0 L1258.8,265.5 L1259.1,266.2 L1259.4,265.2 L1259.8,262.8 L1260.1,263.6 L1260.5,263.3 L1260.9,262.4 L1261.2,262.6 L1261.7,262.0 L1262.1,261.5 L1262.5,260.9 L1263.0,261.0 L1263.4,259.9 L1263.9,260.4 L1264.4,258.2 L1264.8,259.2 L1265.3,258.4 L1265.8,258.1 L1266.2,258.3 L1266.7,257.2 L1267.2,255.7 L1267.7,255.8 L1268.1,256.4 L1268.6,256.0 L1269.1,255.4 L1269.5,254.9 L1270.0,255.5 L1270.4,254.6 L1270.9,253.3 L1271.3,253.0 L1271.8,254.0 L1272.2,252.9 L1272.6,252.7 L1273.1,251.9 L1273.5,251.6 L1273.9,250.6 L1274.4,249.8 L1274.8,249.3 L1275.2,249.0 L1275.7,250.6 L1276.1,249.2 L1276.5,248.4 L1277.0,247.8 L1277.4,246.2 L1277.8,247.6 L1278.3,245.3 L1278.8,247.1 L1279.3,245.4 L1279.8,244.3 L1280.3,246.2 L1280.8,243.9 L1281.4,244.1 L1281.9,243.8 L1282.4,242.5 L1283.0,243.6 L1283.5,241.9 L1284.0,242.4 L1284.6,241.4 L1285.1,243.1 L1285.6,241.6 L1286.1,242.3 L1286.6,240.4 L1287.0,240.6 L1287.5,240.4 L1288.0,239.6 L1288.4,238.9 L1288.8,239.6 L1289.3,238.6 L1289.7,237.9 L1290.2,238.1 L1290.6,235.4 L1291.0,235.7 L1291.4,236.5 L1291.8,235.3 L1292.1,234.9 L1292.5,233.5 L1292.8,233.8 L1293.2,234.7 L1293.5,232.7 L1293.8,231.7 L1294.0,231.8 L1294.2,232.3 L1294.4,230.4 L1294.5,229.1 L1294.7,230.0 L1294.8,228.9 L1294.9,228.7 L1295.0,226.6 L1295.1,226.5 L1295.2,226.5 L1295.3,226.4 L1295.3,226.9 L1295.4,225.9 L1295.5,225.1 L1295.6,224.4 L1295.7,223.8 L1295.8,222.9 L1296.0,222.3 L1296.1,220.9 L1296.3,220.2 L1296.5,221.0 L1296.7,218.5 L1296.9,218.4 L1297.2,218.1 L1297.5,217.9 L1297.7,216.7 L1298.0,216.3 L1298.3,215.5 L1298.6,215.0 L1298.9,214.7 L1299.2,216.1 L1299.5,213.1 L1299.8,215.1 L1300.2,211.8 L1300.5,212.6 L1300.8,211.8 L1301.1,211.9 L1301.4,210.6 L1301.7,209.4 L1302.0,209.3 L1302.2,209.0 L1302.5,207.4 L1302.8,208.1 L1303.1,207.6 L1303.4,205.6 L1303.6,205.2 L1303.9,206.4 L1304.2,204.3 L1304.4,203.9 L1304.7,203.4 L1305.0,202.7 L1305.2,203.2 L1305.5,202.3 L1305.7,203.4 L1306.0,200.7 L1306.2,200.8 L1306.5,199.3 L1306.7,200.3 L1307.0,197.7 L1307.3,197.6 L1307.7,197.5 L1308.0,198.8 L1308.4,198.1 L1308.7,197.5 L1309.1,195.2 L1309.4,193.4 L1309.7,195.0 L1310.0,195.5 L1310.2,194.0 L1310.4,196.6 L1310.6,196.9 L1310.7,194.1 L1310.9,195.8 L1311.0,196.5 L1311.2,197.1 L1311.3,197.9 L1311.5,198.9 L1311.6,199.4 L1311.7,202.2 L1311.8,200.8 L1312.0,201.0 L1312.1,203.9 L1312.2,204.5 L1312.4,203.3 L1312.5,204.2 L1312.6,204.8 L1312.7,204.3 L1312.9,205.6 L1313.0,207.7 L1313.1,206.7 L1313.2,208.3 L1313.3,208.8 L1313.4,209.2 L1313.5,210.7 L1313.6,211.0 L1313.7,212.6 L1313.9,212.4 L1314.0,212.2 L1314.1,214.8 L1314.2,214.2 L1314.3,214.9 L1314.5,215.4 L1314.6,215.4 L1314.7,215.5 L1314.9,218.0 L1315.0,216.8 L1315.2,217.8 L1315.3,219.5 L1315.5,220.2 L1315.6,219.9 L1315.8,222.2 L1316.0,220.9 L1316.1,223.4 L1316.3,223.4 L1316.5,223.0 L1316.7,223.2 L1316.8,225.0 L1317.0,223.1 L1317.2,225.8 L1317.4,226.4 L1317.6,227.8 L1317.8,228.2 L1318.0,227.8 L1318.2,228.6 L1318.4,227.9 L1318.6,229.9 L1318.8,229.3 L1318.9,229.3 L1319.1,232.7 L1319.3,233.3 L1319.5,232.2 L1319.7,233.1 L1319.9,235.2 L1320.0,232.8 L1320.2,236.0 L1320.4,234.9 L1320.6,236.4 L1320.8,236.3 L1321.0,238.4 L1321.2,238.7 L1321.4,238.1 L1321.6,239.9 L1321.8,240.3 L1322.0,241.2 L1322.2,239.6 L1322.4,241.9 L1322.6,241.7 L1322.8,242.5 L1323.0,241.5 L1323.2,245.2 L1323.4,243.9 L1323.6,244.9 L1323.8,243.7 L1324.0,245.5 L1324.2,246.5 L1324.4,247.1 L1324.6,246.6 L1324.8,248.5 L1325.0,248.5 L1325.3,250.3 L1325.5,249.1 L1325.7,251.7 L1325.9,250.3 L1326.1,250.8 L1326.3,252.8 L1326.5,253.5 L1326.8,253.9 L1327.0,253.5 L1327.2,254.3 L1327.5,254.2 L1327.8,256.6 L1328.2,254.7 L1328.5,255.9 L1328.9,256.5 L1329.2,258.6 L1329.6,257.4 L1330.0,259.9 L1330.4,258.0 L1330.8,258.3 L1331.2,260.3 L1331.7,260.4 L1332.1,259.6 L1332.6,260.9 L1333.1,259.0 L1333.6,258.6 L1334.2,258.5 L1334.7,259.4 L1335.3,257.6 L1335.8,259.0 L1336.4,258.1 L1336.9,257.5 L1337.5,257.1 L1338.0,257.2 L1338.6,256.2 L1339.2,253.8 L1339.7,255.5 L1340.3,255.1 L1340.9,254.0 L1341.5,253.1 L1342.1,254.8 L1342.7,253.5 L1343.2,254.3 L1343.8,253.4 L1344.4,254.2 L1345.0,252.9 L1345.6,253.8 L1346.2,253.4 L1346.8,252.8 L1347.4,252.9 L1348.0,253.2 L1348.6,251.0 L1349.2,250.9 L1349.8,252.6 L1350.4,252.3 L1350.9,252.3 L1351.5,252.1 L1352.0,250.7 L1352.5,252.4 L1353.0,251.6 L1353.4,250.8 L1353.8,249.9 L1354.2,249.0 L1354.6,248.7 L1355.0,249.0 L1355.4,248.3 L1355.7,248.4 L1356.1,247.4 L1356.4,246.2 L1356.8,247.1 L1357.1,244.3 L1357.5,243.8 L1357.8,244.9 L1358.2,243.6 L1358.5,242.2 L1358.8,241.7 L1359.2,242.5 L1359.5,243.2 L1359.8,242.8 L1360.1,240.9 L1360.4,240.2 L1360.8,239.2 L1361.1,241.0 L1361.4,238.7 L1361.7,237.8 L1361.9,238.2 L1362.2,237.9 L1362.5,236.3 L1362.7,236.9 L1362.9,234.2 L1363.0,235.2 L1363.2,234.8 L1363.4,234.1 L1363.5,233.8 L1363.7,232.8 L1363.8,232.6 L1363.9,229.7 L1364.1,230.3 L1364.2,231.1 L1364.4,228.7 L1364.5,228.3 L1364.6,230.3 L1364.7,228.0 L1364.9,227.6 L1365.0,227.0 L1365.1,227.6 L1365.2,225.2 L1365.4,224.1 L1365.5,224.4 L1365.6,224.8 L1365.8,221.3 L1365.9,222.2 L1366.1,221.3 L1366.2,221.2 L1366.3,221.0 L1366.5,220.1 L1366.7,217.8 L1366.8,218.4 L1367.0,217.9 L1367.2,217.4 L1367.3,217.8 L1367.5,216.0 L1367.7,215.1 L1367.9,214.9 L1368.0,214.4 L1368.2,214.4 L1368.4,211.6 L1368.6,211.3 L1368.8,211.8 L1369.0,212.1 L1369.1,210.5 L1369.3,210.2 L1369.5,210.9 L1369.7,208.8 L1369.9,208.3 L1370.1,207.4 L1370.3,207.6 L1370.5,206.6 L1370.7,205.3 L1370.9,205.6 L1371.1,204.7 L1371.3,203.3 L1371.5,203.8 L1371.7,204.4 L1371.9,201.1 L1372.1,200.6 L1372.3,200.9 L1372.5,200.3 L1372.7,200.3 L1372.9,199.6 L1373.1,199.3 L1373.3,199.8 L1373.5,199.5 L1373.8,196.2 L1374.2,197.8 L1374.6,196.7 L1375.0,196.6 L1375.4,195.6 L1375.8,195.4 L1376.2,194.4 L1376.6,193.7 L1377.0,193.8 L1377.5,194.4 L1378.2,193.5 L1378.9,193.2 L1379.6,194.4 L1380.3,194.1 L1381.0,192.7 L1381.5,193.0 L1382.0,193.9 L1382.5,194.9 L1383.0,195.8 L1383.5,193.8 L1384.0,197.1 L1384.5,196.5 L1385.0,197.2 L1385.4,198.1 L1385.8,198.0 L1386.1,198.4 L1386.5,199.5 L1387.0,200.1 L1387.4,198.5 L1387.8,198.6 L1388.2,199.5 L1388.6,201.2 L1389.0,201.3 L1389.4,201.9 L1389.8,202.1 L1390.2,202.4 L1390.6,204.2 L1390.9,204.3 L1391.2,205.3 L1391.5,206.0 L1391.7,207.3 L1391.9,208.4 L1392.1,206.7 L1392.3,209.0 L1392.5,208.7 L1392.7,209.6 L1392.9,211.0 L1393.1,210.2 L1393.3,211.3 L1393.4,213.1 L1393.6,213.6 L1393.8,215.4 L1393.9,215.2 L1394.1,215.5 L1394.3,216.1 L1394.4,217.5 L1394.6,216.0 L1394.7,219.5 L1394.9,219.4 L1395.1,219.2 L1395.2,220.4 L1395.4,221.4 L1395.5,220.4 L1395.7,222.8 L1395.9,220.6 L1396.0,224.1 L1396.2,222.9 L1396.4,223.6 L1396.5,223.4 L1396.7,223.2 L1396.9,224.6 L1397.1,222.8 L1397.3,223.5 L1397.5,223.8 L1397.6,222.0 L1397.8,223.3 L1398.0,221.5 L1398.2,222.6 L1398.4,220.9 L1398.5,221.8 L1398.7,220.0 L1398.9,218.4 L1399.1,219.5 L1399.3,218.9 L1399.5,217.9 L1399.7,215.0 L1399.8,214.5 L1400.0,215.5 L1400.2,214.3 L1400.4,212.8 L1400.6,212.1 L1400.8,211.6 L1401.0,208.9 L1401.2,208.8 L1401.4,208.1 L1401.6,209.4 L1401.8,207.5 L1402.0,205.4 L1402.2,206.5 L1402.4,205.8 L1402.6,205.1 L1402.8,204.0 L1403.0,204.2 L1403.5,204.7 L1404.0,203.4 L1404.5,204.1 L1405.0,204.3 L1405.5,202.6 L1406.0,201.6 L1406.2,202.2 L1406.4,203.4 L1406.6,204.3 L1406.8,203.8 L1406.9,204.3 L1407.1,205.0 L1407.2,206.4 L1407.4,206.5 L1407.5,206.1 L1407.7,206.6 L1407.8,207.7 L1407.9,207.9 L1408.0,208.3 L1408.2,210.9 L1408.3,210.9 L1408.4,210.5 L1408.6,212.6 L1408.7,212.0 L1408.8,212.8 L1408.9,213.0 L1409.1,214.1 L1409.2,215.4 L1409.4,216.7 L1409.5,217.0 L1409.7,218.0 L1409.8,218.3 L1410.0,218.3 L1410.3,220.5 L1410.5,219.0 L1410.8,219.7 L1411.0,223.0 L1411.3,221.9 L1411.6,222.4 L1411.8,224.6 L1412.1,222.3 L1412.4,225.3 L1412.7,224.3 L1413.0,224.8 L1413.4,224.7 L1413.8,226.2 L1414.0,227.3 L1414.2,227.1 L1414.5,227.2 L1414.7,228.4 L1415.0,229.7 L1415.2,229.1 L1415.5,229.2 L1415.7,229.8 L1416.0,231.0 L1416.3,230.7 L1416.6,233.0 L1416.9,231.8 L1417.2,233.9 L1417.5,233.3 L1417.8,234.7 L1418.1,233.6 L1418.4,235.0 L1418.7,234.9 L1419.0,235.7 L1419.3,236.9 L1419.7,236.5 L1420.0,239.9 L1420.3,240.2 L1420.7,240.0 L1421.0,239.8 L1421.3,239.8 L1421.7,239.3 L1422.0,242.1 L1422.4,240.8 L1422.7,242.3 L1423.0,242.3 L1423.4,243.3 L1423.8,245.2 L1424.2,244.2 L1424.6,244.6 L1425.0,246.0 L1425.4,245.2 L1425.8,244.4 L1426.2,246.0 L1426.7,246.9 L1427.1,246.9 L1427.5,248.9 L1428.0,249.6 L1428.4,248.0 L1428.8,249.4 L1429.3,250.0 L1429.7,249.8 L1430.2,250.0 L1430.7,251.4 L1431.1,251.0 L1431.6,253.4 L1432.1,252.0 L1432.5,252.4 L1433.0,252.9 L1433.5,253.2 L1434.0,252.9 L1434.5,254.0 L1435.0,254.5 L1435.6,254.2 L1436.2,254.5 L1436.8,253.1 L1437.4,254.1 L1438.0,254.6 L1438.6,254.4 L1439.2,255.7 L1439.8,255.1 L1440.5,254.8 L1441.1,254.2 L1441.8,254.5 L1442.4,254.6 L1443.0,256.3 L1443.7,253.7 L1444.3,255.6 L1445.0,254.5 L1445.6,256.3 L1446.2,255.7 L1446.9,254.2 L1447.5,255.3 L1448.1,253.8 L1448.7,255.8 L1449.3,255.1 L1449.9,254.4 L1450.5,255.4 L1451.1,256.0 L1451.7,257.4 L1452.3,256.4 L1452.9,256.1 L1453.5,255.8 L1454.0,254.2 L1454.6,254.7 L1455.2,254.4 L1455.8,255.1 L1456.4,257.2 L1457.0,257.6 L1457.6,256.8 L1458.2,256.3 L1458.8,257.3 L1459.4,258.6 L1460.0,257.0 L1460.6,258.2 L1461.2,258.3 L1461.9,256.4 L1462.5,257.3 L1463.2,256.5 L1463.9,257.6 L1464.5,257.0 L1465.2,256.7 L1465.9,258.2 L1466.5,257.6 L1467.2,257.5 L1467.8,258.6 L1468.5,258.3 L1469.1,259.1 L1469.7,259.7 L1470.2,257.0 L1470.7,258.7 L1471.2,256.8 L1471.7,259.3 L1472.1,260.3 L1472.5,257.9 L1473.1,260.2 L1473.6,260.1 L1474.0,260.3 L1474.4,258.6 L1475.0,259.6 L1475.4,260.3 L1475.9,260.7 L1476.5,260.7 L1477.0,261.2 L1477.7,260.5 L1478.3,260.0 L1479.0,259.1 L1479.7,259.1 L1480.3,259.4 L1481.0,261.2 L1481.7,258.9 L1482.4,259.0 L1483.1,259.8 L1483.8,259.5 L1484.4,259.3 L1485.0,258.8 L1485.7,260.3 L1486.3,258.4 L1487.0,260.4 L1487.6,260.7 L1488.3,259.8 L1488.9,259.3 L1489.5,259.4 L1490.2,260.4 L1490.8,258.6 L1491.4,261.7 L1491.9,259.8 L1492.5,259.5 L1493.2,260.9 L1493.8,260.3 L1494.5,259.2 L1495.1,260.8 L1495.7,258.2 L1496.3,258.5 L1496.9,257.4 L1497.5,260.3 L1498.1,259.4 L1498.6,257.8 L1499.2,259.9 L1499.7,259.3 L1500.3,259.5 L1500.8,260.5 L1501.4,259.2 L1501.9,261.4 L1502.5,261.2 L1503.0,262.5 L1503.5,260.1 L1504.1,259.3 L1504.6,259.3 L1505.2,259.1 L1505.7,259.9 L1506.3,260.5 L1506.8,258.8 L1507.3,258.3 L1507.8,256.6 L1508.3,256.2 L1508.8,256.4 L1509.2,258.2 L1509.5,258.9 L1509.9,258.1 L1510.2,257.5 L1510.5,259.9 L1510.8,259.7 L1511.1,259.7 L1511.4,259.6 L1511.7,260.0 L1512.0,263.7 L1512.2,262.6 L1512.5,264.0 L1512.7,264.6 L1512.9,265.5 L1513.0,267.0 L1513.2,265.5 L1513.3,267.3 L1513.5,266.0 L1513.6,266.0 L1513.8,267.9 L1513.9,266.7 L1514.1,267.7 L1514.2,268.9 L1514.4,270.8 L1514.5,270.7 L1514.6,269.9 L1514.7,272.1 L1514.9,272.3 L1515.0,273.0 L1515.1,273.5 L1515.2,274.6 L1515.4,276.1 L1515.5,276.5 L1515.6,276.7 L1515.7,276.6 L1515.9,276.6 L1516.0,280.4 L1516.1,280.7 L1516.2,278.5 L1516.4,280.9 L1516.5,281.4 L1516.6,281.7 L1516.7,282.4 L1516.8,282.4 L1516.9,284.6 L1517.0,284.2 L1517.1,285.4 L1517.2,285.3 L1517.3,285.8 L1517.4,285.8 L1517.5,287.9 L1517.6,285.7 L1517.7,289.2 L1517.8,288.4 L1517.9,289.4 L1518.0,289.3 L1518.2,291.0 L1518.5,292.8 L1518.8,294.6 L1519.0,296.4 L1519.3,298.3 L1519.6,300.1 L1519.9,301.9 L1520.2,303.7 L1520.5,305.5 L1520.7,307.3 L1521.0,309.1 L1521.3,311.0 L1521.5,312.8 L1521.8,314.7 L1522.1,316.5 L1522.4,318.3 L1522.6,320.1 L1522.9,321.8 L1523.2,323.5 L1523.5,325.2 L1523.9,326.9 L1524.2,328.3 L1524.4,329.6 L1524.7,330.9 L1525.0,332.2 L1525.3,333.5 L1525.7,335.3 L1526.2,337.1 L1526.7,338.7 L1527.2,340.3 L1527.8,341.9 L1528.3,343.2 L1529.2,344.8 L1530.1,346.4 L1530.8,348.2 L1531.3,349.8 L1531.6,351.4 L1532.0,352.8 L1533.1,351.6 L1533.4,350.0 L1533.7,348.4 L1534.1,346.9 L1535.1,345.2 L1535.9,344.2 L1536.9,343.2 L1537.8,342.3 L1538.8,341.4 L1540.0,340.0 L1540.8,338.9 L1541.9,337.4 L1542.8,335.7 L1543.5,334.0 L1544.0,332.3 L1544.4,330.4 L1544.7,329.1 L1544.9,327.8 L1545.2,326.5 L1545.6,324.6 L1546.1,323.0 L1546.8,321.0 L1547.4,319.5 L1547.9,318.3 L1549.3,318.2 L1549.8,319.8 L1550.1,321.2 L1550.4,322.7 L1550.7,324.2 L1551.1,325.6 L1551.6,327.4 L1552.3,329.0 L1553.0,330.6 L1553.7,332.3 L1554.4,334.2 L1554.8,335.5 L1555.2,337.2 L1555.6,338.7 L1555.9,340.3 L1556.3,342.0 L1556.6,343.7 L1556.9,345.5 L1557.2,347.4 L1557.5,349.3 L1557.8,351.2 L1558.1,353.1 L1558.4,355.0 L1558.7,356.9 L1559.0,358.8 L1559.3,360.7 L1559.6,362.4 L1559.9,364.2 L1560.2,366.0 L1560.6,367.7 L1560.9,369.5 L1561.2,371.2 L1561.5,373.0 L1561.8,374.7 L1562.2,376.5 L1562.5,378.3 L1562.8,380.1 L1563.1,381.9 L1563.4,383.8 L1563.7,385.6 L1563.9,387.4 L1564.2,389.1 L1564.4,390.9 L1564.6,392.7 L1564.9,394.5 L1565.1,396.3 L1565.3,398.2 L1565.5,400.0 L1565.8,401.9 L1566.0,403.7 L1566.2,405.6 L1566.4,407.4 L1566.6,409.2 L1566.8,411.1 L1567.0,412.8 L1567.2,414.6 L1567.4,416.4 L1567.6,418.1 L1567.8,420.0 L1568.0,421.9 L1568.2,423.8 L1568.4,425.6 L1568.5,427.5 L1568.7,429.3 L1568.9,431.1 L1569.1,432.9 L1569.2,434.7 L1569.4,436.5 L1569.6,438.3 L1569.8,440.1 L1569.9,441.9 L1570.1,443.7 L1570.3,445.5 L1570.5,447.4 L1570.7,449.2 L1570.9,451.0 L1571.1,452.9 L1571.3,454.7 L1571.4,456.5 L1571.6,458.4 L1571.8,460.2 L1572.0,462.0 L1572.2,463.8 L1572.3,465.7 L1572.5,467.5 L1572.7,469.3 L1572.8,471.2 L1572.9,473.1 L1573.0,474.9 L1573.2,476.8 L1573.3,478.7 L1573.4,480.5 L1573.5,482.4 L1573.6,484.2 L1573.8,486.1 L1573.9,487.9 L1574.1,489.6 L1574.3,491.4 L1574.5,493.1 L1574.7,495.1 L1575.0,496.9 L1575.3,498.8 L1575.6,500.6 L1576.0,502.3 L1576.3,504.1 L1576.6,505.9 L1576.9,507.7 L1577.2,509.4 L1577.5,511.2 L1577.8,513.1 L1578.0,514.9 L1578.3,516.8 L1578.6,518.6 L1578.8,520.4 L1579.1,522.3 L1579.3,524.1 L1579.5,525.9 L1579.7,527.7 L1579.9,529.4 L1580.1,531.2 L1580.3,533.1 L1580.5,534.8 L1580.6,536.6 L1580.7,538.3 L1580.9,540.1 L1581.0,541.9 L1581.1,543.7 L1581.2,545.6 L1581.4,547.3 L1581.5,549.0 L1581.6,550.8 L1581.7,552.6 L1581.8,554.4 L1581.9,556.2 L1582.0,558.1 L1582.2,559.9 L1582.3,561.8 L1582.4,563.7 L1582.5,565.6 L1582.7,567.3 L1582.8,569.1 L1582.9,570.9 L1583.0,572.7 L1583.2,574.6 L1583.3,576.4 L1583.5,578.3 L1583.6,580.1 L1583.7,582.0 L1583.9,583.8 L1584.0,585.7 L1584.2,587.6 L1584.3,589.4 L1584.5,591.2 L1584.7,593.0 L1584.9,594.9 L1585.1,596.7 L1585.3,598.5 L1585.5,600.4 L1585.7,602.2 L1585.9,604.0 L1586.1,605.9 L1586.2,607.7 L1586.4,609.5 L1586.6,611.3 L1586.8,613.2 L1586.9,615.0 L1587.0,616.8 L1587.1,618.7 L1587.2,620.5 L1587.3,622.3 L1587.4,624.1 L1587.5,626.0 L1587.5,627.8 L1587.6,629.6 L1587.7,631.5 L1587.8,633.3 L1587.8,635.1 L1587.9,637.0 L1588.0,638.8 L1588.1,640.6 L1588.3,642.4 L1588.4,644.3 L1588.5,646.1 L1588.7,647.9 L1588.8,649.8 L1588.9,651.6 L1589.1,653.4 L1589.2,655.2 L1589.4,657.1 L1589.5,658.9 L1589.7,660.7 L1589.8,662.6 L1590.0,664.4 L1590.1,666.2 L1590.2,668.0 L1590.4,669.9 L1590.5,671.7 L1590.7,673.5 L1590.8,675.4 L1590.9,677.2 L1591.1,679.0 L1591.2,680.9 L1591.3,682.7 L1591.5,684.5 L1591.6,686.3 L1591.8,688.2 L1591.9,690.0 L1592.0,691.8 L1592.2,693.7 L1592.3,695.6 L1592.4,697.4 L1592.6,699.3 L1592.7,701.2 L1592.8,703.0 L1593.0,704.9 L1593.1,706.7 L1593.2,708.6 L1593.4,710.4 L1593.5,712.1 L1593.7,713.9 L1593.8,715.6 L1594.0,717.5 L1594.2,719.4 L1594.3,721.2 L1594.5,723.0 L1594.7,724.7 L1594.9,726.5 L1595.1,728.2 L1595.2,730.0 L1595.4,731.9 L1595.6,733.8 L1595.8,735.5 L1595.9,737.2 L1596.0,739.0 L1596.2,740.8 L1596.3,742.6 L1596.4,744.4 L1596.6,746.2 L1596.7,748.1 L1596.9,750.0 L1597.0,751.9 L1597.2,753.8 L1597.4,755.7 L1597.5,757.0 L1597.7,758.7 L1597.8,760.5 L1598.0,762.3 L1598.2,764.2 L1598.4,766.1 L1598.6,768.1 L1598.7,769.4 L1598.9,770.7 L1599.0,772.0 L1599.1,773.3 L1599.3,775.2 L1599.6,777.1 L1599.8,778.9 L1600.1,780.7 L1600.3,782.4 L1600.6,784.1 L1600.9,785.6 L1601.1,787.0 L1601.6,789.0 L1602.0,790.6 L1602.3,792.3 L1602.7,793.8 L1603.1,795.2 L1603.5,796.5 L1604.2,797.9 L1605.4,798.5 L1606.3,797.0 L1607.0,795.2 L1607.5,793.7 L1608.0,792.2 L1608.4,790.6 L1608.9,789.1 L1609.3,787.7 L1609.8,785.9 L1610.3,784.1 L1610.8,782.4 L1611.3,780.6 L1611.7,778.7 L1612.2,776.9 L1612.6,775.0 L1613.0,773.2 L1613.3,771.4 L1613.7,769.6 L1614.0,767.9 L1614.3,766.2 L1614.6,764.4 L1614.8,762.7 L1615.1,760.8 L1615.4,759.0 L1615.5,757.7 L1615.7,755.9 L1615.9,754.2 L1616.1,752.4 L1616.2,750.6 L1616.4,748.7 L1616.5,746.8 L1616.7,744.9 L1616.8,743.0 L1616.9,741.1 L1617.1,739.2 L1617.2,737.3 L1617.3,735.5 L1617.5,733.8 L1617.7,731.9 L1617.9,730.0 L1618.0,728.2 L1618.2,726.3 L1618.4,724.5 L1618.6,722.8 L1618.8,721.0 L1619.0,719.2 L1619.2,717.4 L1619.3,715.6 L1619.5,713.8 L1619.7,711.9 L1619.9,710.1 L1620.1,708.2 L1620.3,706.3 L1620.4,704.5 L1620.6,702.6 L1620.8,700.8 L1621.0,699.1 L1621.1,697.4 L1621.3,695.6 L1621.5,694.2 L1621.6,692.3 L1621.8,690.5 L1622.0,688.6 L1622.2,686.8 L1622.4,685.0 L1622.6,683.1 L1622.8,681.3 L1622.9,679.5 L1623.1,677.7 L1623.3,675.8 L1623.5,673.9 L1623.6,672.6 L1623.8,671.2 L1623.9,669.6 L1624.0,667.9 L1624.2,666.2 L1624.3,664.4 L1624.4,662.6 L1624.5,660.7 L1624.7,658.9 L1624.8,657.0 L1624.9,655.1 L1625.0,653.1 L1625.0,651.4 L1625.1,649.6 L1625.2,647.9 L1625.2,646.1 L1625.3,644.2 L1625.3,642.4 L1625.3,640.5 L1625.4,638.7 L1625.4,636.8 L1625.4,634.9 L1625.5,633.1 L1625.5,631.2 L1625.6,629.3 L1625.6,627.5 L1625.6,625.7 L1625.7,623.8 L1625.7,621.9 L1625.7,620.1 L1625.7,618.2 L1625.8,616.3 L1625.8,614.5 L1625.8,612.6 L1625.8,610.8 L1625.9,608.9 L1626.0,607.1 L1626.1,605.4 L1626.2,603.6 L1626.3,601.9 L1626.5,599.9 L1626.7,598.1 L1626.9,596.2 L1627.2,594.4 L1627.4,592.7 L1627.7,590.9 L1628.0,589.1 L1628.2,587.3 L1628.5,585.6 L1628.8,583.8 L1629.0,581.9 L1629.2,580.1 L1629.5,578.2 L1629.7,576.3 L1630.0,574.5 L1630.2,572.6 L1630.5,570.8 L1630.7,569.0 L1630.9,567.3 L1631.2,565.6 L1631.4,563.7 L1631.7,561.9 L1632.0,560.2 L1632.3,558.5 L1632.6,556.7 L1632.8,554.8 L1633.0,553.5 L1633.2,552.0 L1633.4,550.6 L1633.5,549.0 L1633.7,547.4 L1633.8,545.6 L1634.0,543.8 L1634.1,542.0 L1634.2,540.1 L1634.3,538.8 L1634.4,537.4 L1634.5,536.1 L1634.6,534.8 L1634.7,533.5 L1634.8,532.1 L1634.9,530.8 L1635.0,529.5 L1635.1,528.2 L1635.3,526.2 L1635.5,524.4 L1635.6,522.5 L1635.8,520.8 L1636.0,519.1 L1636.2,517.5 L1636.5,516.1 L1636.7,514.8 L1636.9,513.4 L1637.1,512.1 L1637.5,510.3 L1637.8,508.4 L1638.2,506.6 L1638.6,504.9 L1638.9,503.2 L1639.3,501.5 L1639.7,499.8 L1640.2,498.1 L1640.5,496.8 L1641.1,495.0 L1641.6,493.3 L1642.2,491.6 L1642.8,489.8 L1643.3,488.1 L1643.8,486.2 L1644.1,484.5 L1644.4,482.7 L1644.7,480.8 L1644.9,478.9 L1645.1,477.1 L1645.4,475.2 L1645.7,473.5 L1646.1,471.8 L1646.7,470.1 L1647.4,468.4 L1648.2,466.9 L1649.0,465.4 L1649.8,463.8 L1650.4,461.9 L1650.8,460.3 L1651.0,458.7 L1651.2,456.9 L1651.3,455.0 L1651.3,453.7 L1651.4,452.3 L1651.4,450.9 L1651.4,449.6 L1651.4,448.2 L1651.4,446.8 L1651.4,445.4 L1651.5,444.1 L1651.5,442.8 L1651.7,440.9 L1651.8,439.2 L1652.1,437.6 L1652.5,436.2 L1653.0,435.0 L1654.0,433.4 L1655.1,432.0 L1656.2,430.7 L1657.2,429.3 L1658.0,427.6 L1658.4,426.3 L1658.8,425.1 L1659.2,423.8 L1659.7,421.9 L1660.4,420.4 L1661.1,419.3 L1662.1,418.0 L1663.4,417.6 L1664.3,419.0 L1664.8,420.3 L1665.4,421.8 L1665.9,423.5 L1666.3,425.2 L1666.7,427.0 L1667.0,428.9 L1667.4,430.8 L1667.8,432.6 L1668.3,434.4 L1668.9,436.1 L1669.6,437.7 L1670.3,439.4 L1670.9,441.2 L1671.2,442.5 L1671.6,444.1 L1671.8,445.8 L1672.0,447.6 L1672.2,449.4 L1672.4,451.3 L1672.5,453.2 L1672.7,455.1 L1672.9,456.9 L1673.1,458.8 L1673.4,460.6 L1673.6,462.4 L1673.9,464.2 L1674.2,466.0 L1674.6,467.8 L1674.9,469.6 L1675.2,471.4 L1675.5,473.2 L1675.8,475.0 L1676.1,476.8 L1676.5,478.6 L1676.8,480.5 L1677.1,482.3 L1677.4,484.0 L1677.8,485.8 L1678.1,487.5 L1678.5,489.3 L1678.9,491.1 L1679.3,492.8 L1679.7,494.5 L1680.1,496.3 L1680.5,498.1 L1680.8,499.9 L1681.0,501.6 L1681.2,503.4 L1681.4,505.2 L1681.6,507.0 L1681.8,508.9 L1682.0,510.8 L1682.2,512.6 L1682.4,514.4 L1682.7,516.2 L1683.0,518.1 L1683.3,519.9 L1683.6,521.7 L1683.9,523.5 L1684.2,525.3 L1684.5,527.1 L1684.8,528.8 L1685.1,530.6 L1685.3,532.5 L1685.6,534.3 L1685.8,536.0 L1686.0,537.8 L1686.2,539.7 L1686.4,541.6 L1686.6,543.0 L1686.8,544.6 L1686.9,546.3 L1687.1,548.1 L1687.3,549.9 L1687.5,551.7 L1687.6,553.6 L1687.8,555.4 L1688.0,557.4 L1688.2,559.3 L1688.3,561.2 L1688.5,563.1 L1688.8,565.0 L1689.0,566.8 L1689.2,568.6 L1689.4,570.4 L1689.6,572.2 L1689.9,574.0 L1690.1,575.9 L1690.4,577.7 L1690.6,579.6 L1690.8,581.4 L1691.1,583.2 L1691.3,585.1 L1691.5,586.9 L1691.8,588.8 L1692.0,590.6 L1692.2,592.5 L1692.4,594.3 L1692.6,596.2 L1692.8,598.0 L1692.9,599.9 L1693.1,601.8 L1693.3,603.7 L1693.5,605.5 L1693.7,607.3 L1693.8,609.2 L1694.0,610.9 L1694.2,612.7 L1694.3,614.4 L1694.5,616.3 L1694.7,618.2 L1694.9,620.0 L1695.1,621.9 L1695.2,623.7 L1695.4,625.4 L1695.6,627.2 L1695.7,629.0 L1695.9,630.8 L1696.1,632.5 L1696.3,634.4 L1696.5,636.2 L1696.8,638.1 L1697.0,639.9 L1697.2,641.8 L1697.5,643.7 L1697.7,645.5 L1698.0,647.3 L1698.2,649.1 L1698.5,650.8 L1698.8,652.5 L1699.0,653.8 L1699.3,655.7 L1699.7,657.4 L1700.1,659.2 L1700.4,660.9 L1700.8,662.7 L1701.1,664.4 L1701.4,666.2 L1701.7,668.1 L1701.9,670.0 L1702.0,671.9 L1702.3,673.8 L1702.6,675.5 L1702.9,677.0 L1703.7,678.9 L1704.3,680.1 L1705.0,681.2 L1706.2,682.5 L1707.4,683.0 L1708.8,683.2 L1710.0,683.8 L1711.2,685.3 L1712.0,686.7 L1712.7,687.9 L1713.8,688.8 L1714.9,687.3 L1715.4,685.9 L1715.9,684.4 L1716.6,683.0 L1717.8,681.6 L1719.3,680.5 L1720.8,679.3 L1721.9,677.8 L1722.7,676.2 L1723.5,674.4 L1723.9,673.2 L1724.4,671.9 L1724.8,670.6 L1725.3,668.9 L1725.8,667.2 L1726.2,665.5 L1726.6,663.7 L1726.9,661.9 L1727.3,660.0 L1727.6,658.2 L1727.9,656.5 L1728.2,654.7 L1728.5,652.9 L1728.8,651.1 L1729.0,649.3 L1729.3,647.4 L1729.7,645.6 L1730.0,643.8 L1730.4,642.0 L1730.8,640.1 L1731.2,638.3 L1731.6,636.4 L1732.0,634.5 L1732.5,632.7 L1732.9,630.9 L1733.3,629.2 L1733.8,627.5 L1734.1,626.2 L1734.3,624.9 L1734.6,623.6 L1734.9,622.3 L1735.3,620.4 L1735.8,618.7 L1736.4,617.1 L1737.3,615.6 L1738.3,614.4 L1739.3,613.4 L1740.8,612.5 L1742.3,613.3 L1743.2,614.9 L1743.7,616.2 L1744.3,617.7 L1744.8,619.3 L1745.3,621.0 L1745.7,622.6 L1746.0,624.3 L1746.4,626.1 L1746.7,628.0 L1746.8,629.3 L1747.0,630.6 L1747.2,631.9 L1747.4,633.2 L1747.7,635.1 L1748.0,636.9 L1748.3,638.8 L1748.6,640.1 L1748.8,641.4 L1749.1,642.8 L1749.3,644.1 L1749.5,645.5 L1749.8,646.8 L1750.2,648.6 L1750.6,650.3 L1751.0,651.7 L1751.5,653.3 L1752.2,654.6 L1753.1,655.6 L1753.9,654.1 L1754.4,652.3 L1754.7,650.8 L1755.0,649.2 L1755.3,647.7 L1755.6,646.2 L1755.9,644.7 L1756.2,643.1 L1756.4,641.3 L1756.6,639.6 L1756.9,637.7 L1757.1,635.8 L1757.3,633.9 L1757.5,632.0 L1757.8,630.1 L1758.0,628.1 L1758.3,626.3 L1758.5,624.5 L1758.7,622.7 L1759.0,620.9 L1759.2,619.0 L1759.5,617.1 L1759.7,615.3 L1760.0,613.4 L1760.3,611.5 L1760.5,609.7 L1760.8,607.9 L1761.1,606.1 L1761.4,604.4 L1761.6,603.1 L1761.7,601.8 L1761.9,600.5 L1762.1,599.2 L1762.3,597.9 L1762.6,596.0 L1762.9,594.1 L1763.2,592.3 L1763.6,590.6 L1764.0,589.0 L1764.4,587.5 L1764.8,586.0 L1765.3,584.5 L1765.8,583.1 L1766.3,581.7 L1767.1,580.2 L1768.6,579.4 L1770.3,580.2 L1771.4,581.3 L1772.5,582.5 L1773.4,583.8 L1774.2,585.3 L1774.9,587.0 L1775.6,588.8 L1776.0,590.0 L1776.5,591.3 L1776.9,592.5 L1777.5,594.1 L1778.0,595.8 L1778.5,597.5 L1779.0,599.3 L1779.5,601.1 L1780.0,602.9 L1780.5,604.7 L1781.1,606.4 L1781.7,608.2 L1782.3,610.0 L1782.9,611.8 L1783.5,613.6 L1784.1,615.3 L1784.8,617.0 L1785.5,618.6 L1786.2,620.0 L1786.9,621.2 L1787.6,622.5 L1788.3,623.7 L1789.5,625.2 L1790.6,626.1 L1792.0,626.1 L1793.7,625.2 L1794.7,624.2 L1795.6,623.0 L1796.2,621.8 L1796.8,620.3 L1797.2,618.7 L1797.6,616.8 L1797.9,615.5 L1798.1,614.2 L1798.3,612.9 L1798.5,611.5 L1798.7,610.2 L1798.9,608.9 L1799.2,607.0 L1799.5,605.2 L1799.8,603.4 L1800.1,601.6 L1800.3,599.8 L1800.6,598.0 L1800.8,596.2 L1801.0,594.3 L1801.2,592.5 L1801.4,590.6 L1801.6,588.8 L1801.8,587.1 L1802.0,585.3 L1802.1,583.5 L1802.3,581.7 L1802.4,579.9 L1802.5,578.1 L1802.7,576.3 L1802.8,574.4 L1803.0,572.5 L1803.2,570.7 L1803.3,569.0 L1803.5,567.2 L1803.6,565.5 L1803.8,563.7 L1803.9,561.9 L1804.1,560.1 L1804.3,558.2 L1804.4,556.4 L1804.6,554.5 L1804.8,552.7 L1804.9,550.8 L1805.1,548.9 L1805.3,547.0 L1805.5,545.3 L1805.6,543.5 L1805.8,541.7 L1805.9,539.9 L1806.1,538.1 L1806.3,536.3 L1806.4,534.4 L1806.6,532.6 L1806.8,530.7 L1806.9,528.9 L1807.1,527.1 L1807.3,525.2 L1807.5,523.4 L1807.7,521.6 L1807.8,519.8 L1808.0,518.1 L1808.2,516.2 L1808.5,514.3 L1808.7,512.4 L1808.9,510.5 L1809.1,508.7 L1809.3,506.8 L1809.6,504.9 L1809.8,503.1 L1810.0,501.3 L1810.3,499.5 L1810.5,497.7 L1810.8,495.9 L1811.0,494.2 L1811.2,492.5 L1811.4,491.2 L1811.7,489.3 L1812.0,487.4 L1812.4,485.6 L1812.7,483.8 L1813.0,482.0 L1813.3,480.2 L1813.6,478.4 L1813.9,476.7 L1814.2,474.9 L1814.5,473.1 L1814.8,471.2 L1815.1,469.3 L1815.3,467.4 L1815.6,465.5 L1815.8,463.7 L1816.1,461.9 L1816.4,460.2 L1816.7,458.5 L1817.0,456.8 L1817.3,455.5 L1817.6,454.2 L1818.1,452.3 L1818.6,450.7 L1819.2,449.2 L1819.8,448.0 L1820.6,446.6 L1821.9,445.6 L1822.9,446.5 L1823.6,447.7 L1824.1,449.2 L1824.6,450.8 L1824.9,452.3 L1825.2,453.9 L1825.4,455.6 L1825.5,457.5 L1825.7,459.4 L1825.8,460.8 L1825.9,462.1 L1825.9,463.5 L1826.0,464.8 L1826.1,466.2 L1826.2,467.5 L1826.4,469.2 L1826.5,470.9 L1826.7,472.7 L1826.8,474.5 L1827.0,476.3 L1827.1,478.2 L1827.2,480.0 L1827.3,481.9 L1827.5,483.8 L1827.6,485.7 L1827.7,487.6 L1827.9,489.4 L1828.0,491.3 L1828.1,493.1 L1828.3,494.9 L1828.4,496.8 L1828.6,498.6 L1828.7,500.5 L1828.8,502.3 L1829.0,504.2 L1829.1,506.0 L1829.2,507.8 L1829.4,509.7 L1829.5,511.5 L1829.6,513.3 L1829.8,515.1 L1829.9,516.9 L1830.1,518.7 L1830.3,520.6 L1830.4,522.5 L1830.6,524.3 L1830.8,526.1 L1831.0,528.0 L1831.2,529.8 L1831.3,531.6 L1831.5,533.4 L1831.7,535.2 L1831.9,537.0 L1832.1,538.8 L1832.3,540.6 L1832.4,542.4 L1832.6,544.3 L1832.8,546.1 L1833.0,547.9 L1833.2,549.7 L1833.4,551.5 L1833.6,553.3 L1833.8,555.1 L1834.0,556.9 L1834.1,558.7 L1834.3,560.6 L1834.5,562.4 L1834.7,564.2 L1834.9,566.0 L1835.1,567.8 L1835.2,569.6 L1835.4,571.5 L1835.6,573.3 L1835.8,575.2 L1836.0,577.0 L1836.2,578.9 L1836.3,580.7 L1836.5,582.6 L1836.7,584.4 L1836.9,586.2 L1837.1,588.1 L1837.3,589.9 L1837.5,591.8 L1837.6,593.7 L1837.8,595.5 L1838.0,597.4 L1838.2,599.3 L1838.4,601.1 L1838.6,603.0 L1838.8,604.8 L1838.9,606.6 L1839.1,608.4 L1839.3,610.1 L1839.5,611.9 L1839.6,613.2 L1839.7,614.5 L1839.8,615.8 L1839.9,617.1 L1840.0,618.5 L1840.2,620.4 L1840.3,622.3 L1840.5,624.1 L1840.7,625.8 L1840.9,627.5 L1841.1,629.0 L1841.4,630.8 L1841.6,632.3 L1841.7,633.8 L1842.0,635.1 L1842.5,636.7 L1843.6,637.8 L1845.6,637.8 L1847.0,637.7 L1848.4,638.4 L1849.0,639.6 L1849.3,641.3 L1849.5,643.2 L1849.6,644.5 L1849.7,646.0 L1849.8,647.4 L1850.0,648.8 L1850.2,650.4 L1850.5,652.0 L1850.7,653.8 L1851.0,655.6 L1851.2,657.5 L1851.5,659.4 L1851.7,661.3 L1851.9,663.2 L1852.2,665.0 L1852.4,666.9 L1852.7,668.7 L1852.9,670.5 L1853.2,672.3 L1853.4,674.2 L1853.7,676.0 L1854.0,677.8 L1854.2,679.6 L1854.5,681.4 L1854.7,683.2 L1854.9,685.0 L1855.1,686.9 L1855.2,688.6 L1855.3,690.4 L1855.4,692.2 L1855.5,694.0 L1855.6,695.8 L1855.7,697.5 L1855.8,699.4 L1855.9,701.2 L1856.0,703.1 L1856.1,705.0 L1856.2,706.7 L1856.3,708.5 L1856.5,710.3 L1856.6,712.2 L1856.7,714.1 L1856.9,716.0 L1857.0,717.9 L1857.2,719.8 L1857.3,721.7 L1857.5,723.5 L1857.6,725.4 L1857.7,727.2 L1857.9,728.9 L1858.0,730.7 L1858.1,732.5 L1858.3,734.3 L1858.4,736.0 L1858.5,737.7 L1858.7,739.4 L1858.8,741.1 L1858.9,742.9 L1859.1,744.9 L1859.2,746.3 L1859.3,748.0 L1859.4,749.4 L1859.4,750.9 L1859.5,752.5 L1859.6,754.1 L1859.7,755.7 L1859.8,757.3 L1859.9,759.0 L1860.0,760.7 L1860.1,762.5 L1860.2,764.3 L1860.3,766.1 L1860.4,768.0 L1860.5,769.9 L1860.6,771.8 L1860.7,773.7 L1860.8,775.1 L1860.8,776.4 L1860.9,777.7 L1861.0,779.1 L1861.1,780.5 L1861.2,781.8 L1861.2,783.2 L1861.3,784.6 L1861.4,786.1 L1861.5,787.5 L1861.6,789.0 L1861.7,790.5 L1861.8,792.0 L1861.9,793.6 L1862.0,795.2 L1862.1,796.8 L1862.2,798.4 L1862.3,800.1 L1862.4,801.8 L1862.5,803.5 L1862.6,805.3 L1862.7,807.0 L1862.8,808.8 L1863.0,810.6 L1863.1,812.4 L1863.2,814.3 L1863.3,816.1 L1863.4,818.0 L1863.6,819.9 L1863.7,821.7 L1863.8,823.6 L1863.9,825.5 L1864.1,827.4 L1864.2,829.3 L1864.3,831.3 L1864.4,833.2 L1864.6,835.1 L1864.7,837.0 L1864.8,839.0 L1865.0,840.9 L1865.1,842.8 L1865.2,844.7 L1865.4,846.6 L1865.5,848.5 L1865.6,850.4 L1865.8,852.3 L1865.9,854.2 L1866.0,856.1 L1866.2,857.9 L1866.3,859.8 L1866.4,861.6 L1866.6,863.4 L1866.7,865.2 L1866.9,867.0 L1867.0,868.7 L1867.1,870.5 L1867.3,872.2 L1867.4,873.9 L1867.6,875.6 L1867.7,877.6 L1867.9,879.5 L1868.1,881.5 L1868.2,883.4 L1868.4,885.3 L1868.6,887.2 L1868.8,889.2 L1868.9,891.1 L1869.1,893.0 L1869.3,894.9 L1869.5,896.8 L1869.7,898.7 L1869.9,900.6 L1870.1,902.4 L1870.3,904.3 L1870.5,906.1 L1870.6,908.0 L1870.8,909.8 L1871.0,911.6 L1871.2,913.5 L1871.4,915.3 L1871.6,917.1 L1871.8,918.8 L1871.9,920.6 L1872.1,922.3 L1872.3,924.1 L1872.5,925.8 L1872.6,927.5 L1872.8,929.2 L1872.9,930.9 L1873.1,932.5 L1873.2,934.2 L1873.4,935.8 L1873.5,937.4 L1873.7,939.0 L1873.8,940.7 L1873.9,942.0 L1874.0,943.4 L1874.1,944.7 L1874.2,946.0 L1874.4,947.9 L1874.5,949.8 L1874.6,951.6 L1874.8,953.5 L1874.9,955.3 L1875.0,957.0 L1875.1,958.8 L1875.2,960.6 L1875.3,962.3 L1875.5,964.0 L1875.6,965.8 L1875.7,967.5 L1875.8,969.2 L1875.9,971.0 L1876.0,972.7 L1876.1,974.5 L1876.2,976.3 L1876.3,978.1 L1876.4,979.9 L1876.5,981.7 L1876.6,983.5 L1876.7,985.4 L1876.8,987.2 L1876.8,989.0 L1876.9,990.8 L1877.0,992.6 L1877.1,994.4 L1877.2,996.2 L1877.3,998.1 L1877.3,999.9 L1877.4,1001.7 L1877.5,1003.5 L1877.6,1005.3 L1877.7,1007.1 L1877.8,1009.0 L1877.9,1010.8 L1878.0,1012.6 L1878.1,1014.4 L1878.2,1016.2 L1878.3,1018.0 L1878.4,1019.8 L1878.5,1021.7 L1878.6,1023.5 L1878.7,1025.3 L1878.9,1027.1 L1879.0,1028.9 L1879.1,1030.7 L1879.2,1032.5 L1879.4,1034.4 L1879.5,1036.2 L1879.6,1038.0 L1879.7,1039.8 L1879.9,1041.6 L1880.0,1043.4 L1880.1,1045.2 L1880.2,1047.1 L1880.4,1048.9 L1880.5,1050.7 L1880.6,1052.5 L1880.7,1054.3 L1880.8,1056.2 L1881.0,1058.0 L1881.1,1059.9 L1881.2,1061.8 L1881.3,1063.7 L1881.4,1065.6 L1881.6,1067.6 L1881.7,1069.5 L1881.8,1071.4 L1881.9,1073.2 L1882.0,1075.1 L1882.2,1076.9 L1882.3,1078.8 L1882.4,1080.6 L1882.5,1082.3 L1882.6,1084.1 L1882.8,1085.7 L1882.9,1087.4 L1883.0,1089.0 L1883.2,1090.7 L1883.3,1092.0 L1883.4,1093.9 L1883.6,1095.7 L1883.8,1097.5 L1883.9,1099.2 L1884.1,1100.8 L1884.3,1102.5 L1884.5,1104.3 L1884.6,1106.1 L1884.8,1108.0 L1884.9,1109.3 L1885.1,1111.0 L1885.2,1112.6 L1885.4,1114.3 L1885.5,1116.0 L1885.7,1117.7 L1885.8,1119.4 L1886.0,1121.2 L1886.1,1123.1 L1886.3,1124.9 L1886.4,1126.8 L1886.6,1128.6 L1886.7,1130.5 L1886.9,1132.4 L1887.0,1134.4 L1887.2,1136.3 L1887.3,1138.2 L1887.5,1140.1 L1887.6,1142.0 L1887.8,1143.8 L1887.9,1145.7 L1888.1,1147.5 L1888.3,1149.3 L1888.4,1151.1 L1888.5,1152.9 L1888.7,1154.8 L1888.8,1156.6 L1889.0,1158.4 L1889.1,1160.2 L1889.3,1162.0 L1889.4,1163.8 L1889.6,1165.6 L1889.7,1167.5 L1889.9,1169.3 L1890.0,1171.1 L1890.2,1172.9 L1890.3,1174.7 L1890.5,1176.5 L1890.7,1178.3 L1890.8,1180.2 L1891.0,1182.0 L1891.1,1183.8 L1891.3,1185.6 L1891.5,1187.4 L1891.6,1189.3 L1891.8,1191.1 L1892.0,1192.9 L1892.2,1194.8 L1892.4,1196.6 L1892.6,1198.4 L1892.7,1200.3 L1892.9,1202.1 L1893.1,1204.0 L1893.3,1205.8 L1893.5,1207.6 L1893.7,1209.4 L1893.9,1211.3 L1894.0,1213.1 L1894.2,1214.9 L1894.4,1216.6 L1894.6,1218.4 L1894.8,1220.2 L1894.9,1221.9 L1895.1,1223.8 L1895.3,1225.6 L1895.5,1227.5 L1895.7,1229.4 L1895.9,1231.2 L1896.0,1233.1 L1896.2,1234.9 L1896.4,1236.7 L1896.6,1238.5 L1896.8,1240.3 L1896.9,1242.1 L1897.1,1243.9 L1897.3,1245.7 L1897.5,1247.4 L1897.6,1249.2 L1897.8,1250.9 L1898.0,1252.6 L1898.2,1254.4 L1898.3,1256.3 L1898.5,1257.6 L1898.6,1258.9 L1898.7,1260.2 L1898.8,1261.5 L1899.0,1263.5 L1899.2,1265.4 L1899.3,1267.3 L1899.5,1269.1 L1899.7,1271.0 L1899.9,1272.7 L1900.0,1274.5 L1900.2,1276.1 L1900.5,1277.7 L1900.7,1279.4 L1900.9,1280.8 L1901.1,1282.2 L1901.3,1283.4 L1901.6,1285.3 L1901.9,1287.1 L1902.3,1288.8 L1902.7,1290.3 L1903.4,1291.9 L1904.0,1293.1 L1905.1,1294.7 L1906.2,1296.1 L1907.4,1297.5 L1908.5,1298.6 L1910.0,1299.4 L1911.3,1298.5 L1912.1,1297.3 L1912.8,1295.8 L1913.4,1294.2 L1913.7,1292.7 L1914.0,1291.1 L1914.2,1289.3 L1914.3,1287.5 L1914.4,1286.2 L1914.4,1284.8 L1914.5,1283.5 L1914.6,1282.1 L1914.6,1280.8 L1914.7,1279.4 L1914.8,1277.7 L1914.9,1276.0 L1915.0,1274.3 L1915.1,1272.5 L1915.1,1270.7 L1915.2,1268.9 L1915.2,1267.1 L1915.3,1265.2 L1915.3,1263.3 L1915.4,1261.4 L1915.4,1259.5 L1915.5,1257.6 L1915.5,1255.7 L1915.6,1253.8 L1915.7,1252.0 L1915.7,1250.3 L1915.8,1248.6 L1915.9,1246.8 L1916.0,1245.1 L1916.0,1243.3 L1916.1,1241.5 L1916.2,1239.7 L1916.3,1237.9 L1916.3,1236.1 L1916.4,1234.3 L1916.5,1232.4 L1916.6,1230.6 L1916.7,1228.7 L1916.7,1226.9 L1916.8,1225.0 L1916.9,1223.1 L1916.9,1221.3 L1917.0,1219.6 L1917.1,1217.8 L1917.1,1216.1 L1917.2,1214.3 L1917.2,1212.5 L1917.3,1210.7 L1917.3,1208.8 L1917.4,1207.0 L1917.4,1205.2 L1917.5,1203.4 L1917.5,1201.5 L1917.6,1199.7 L1917.7,1197.8 L1917.7,1196.0 L1917.8,1194.1 L1917.8,1192.3 L1917.9,1190.5 L1918.0,1188.6 L1918.0,1186.8 L1918.1,1185.0 L1918.2,1183.2 L1918.3,1181.4 L1918.3,1179.5 L1918.4,1177.7 L1918.5,1175.8 L1918.6,1174.0 L1918.7,1172.1 L1918.8,1170.3 L1918.8,1168.4 L1918.9,1166.6 L1919.0,1164.7 L1919.1,1162.9 L1919.2,1161.1 L1919.3,1159.3 L1919.4,1157.5 L1919.5,1155.7 L1919.6,1153.9 L1919.7,1152.1 L1919.8,1150.4 L1919.9,1148.6 L1920.0,1146.9 L1920.2,1145.0 L1920.3,1143.1 L1920.4,1141.2 L1920.5,1139.4 L1920.7,1137.6 L1920.8,1135.8 L1920.9,1134.0 L1921.0,1132.2 L1921.2,1130.4 L1921.3,1128.6 L1921.5,1126.9 L1921.6,1125.1 L1921.7,1123.3 L1921.9,1121.6 L1922.0,1119.8 L1922.2,1118.0 L1922.4,1116.2 L1922.5,1114.3 L1922.7,1112.5 L1922.9,1110.7 L1923.1,1109.0 L1923.3,1107.2 L1923.5,1105.4 L1923.7,1103.6 L1923.9,1101.8 L1924.1,1100.0 L1924.3,1098.2 L1924.5,1096.3 L1924.6,1094.5 L1924.8,1092.6 L1925.0,1090.7 L1925.1,1088.9 L1925.2,1087.2 L1925.3,1085.4 L1925.4,1083.7 L1925.5,1081.9 L1925.6,1080.1 L1925.7,1078.3 L1925.8,1076.5 L1925.9,1074.7 L1925.9,1072.8 L1926.0,1071.0 L1926.1,1069.1 L1926.2,1067.3 L1926.3,1065.4 L1926.3,1063.6 L1926.4,1061.7 L1926.5,1059.8 L1926.6,1058.0 L1926.7,1056.2 L1926.8,1054.3 L1926.9,1052.5 L1927.0,1050.7 L1927.1,1048.9 L1927.2,1047.1 L1927.4,1045.2 L1927.5,1043.4 L1927.6,1041.6 L1927.7,1039.8 L1927.9,1038.0 L1928.0,1036.2 L1928.1,1034.4 L1928.2,1032.5 L1928.4,1030.7 L1928.5,1028.9 L1928.6,1027.1 L1928.7,1025.3 L1928.9,1023.5 L1929.0,1021.7 L1929.1,1019.8 L1929.2,1018.0 L1929.3,1016.2 L1929.4,1014.4 L1929.5,1012.6 L1929.6,1010.7 L1929.7,1008.9 L1929.8,1007.0 L1929.9,1005.2 L1930.0,1003.3 L1930.1,1001.5 L1930.1,999.6 L1930.2,997.7 L1930.3,995.9 L1930.4,994.0 L1930.5,992.2 L1930.5,990.4 L1930.6,988.6 L1930.7,986.8 L1930.8,985.0 L1930.9,983.2 L1931.0,981.5 L1931.1,979.8 L1931.2,978.1 L1931.3,976.2 L1931.5,974.3 L1931.6,972.5 L1931.8,970.7 L1931.9,968.9 L1932.0,967.2 L1932.2,965.4 L1932.3,963.7 L1932.5,962.0 L1932.7,960.2 L1932.8,958.5 L1933.0,956.7 L1933.2,954.9 L1933.3,953.1 L1933.5,951.3 L1933.7,949.4 L1933.8,947.7 L1934.0,946.0 L1934.1,944.2 L1934.3,942.5 L1934.5,940.7 L1934.6,938.9 L1934.8,937.1 L1935.0,935.3 L1935.2,933.4 L1935.3,931.6 L1935.5,929.8 L1935.7,927.9 L1935.9,926.1 L1936.1,924.2 L1936.2,922.4 L1936.4,920.5 L1936.6,918.7 L1936.7,916.8 L1936.9,915.0 L1937.1,913.2 L1937.2,911.4 L1937.4,909.6 L1937.5,907.8 L1937.7,906.0 L1937.8,904.2 L1938.0,902.4 L1938.1,900.6 L1938.3,898.8 L1938.4,896.9 L1938.6,895.1 L1938.7,893.3 L1938.9,891.5 L1939.0,889.6 L1939.2,887.8 L1939.3,886.0 L1939.5,884.2 L1939.6,882.3 L1939.8,880.5 L1939.9,878.7 L1940.0,876.9 L1940.2,875.1 L1940.3,873.3 L1940.5,871.5 L1940.6,869.6 L1940.8,867.8 L1940.9,866.0 L1941.1,864.2 L1941.2,862.4 L1941.4,860.6 L1941.5,858.7 L1941.7,856.9 L1941.8,855.1 L1942.0,853.3 L1942.1,851.5 L1942.3,849.7 L1942.4,847.9 L1942.6,846.0 L1942.7,844.2 L1942.9,842.4 L1943.0,840.6 L1943.2,838.8 L1943.4,837.0 L1943.5,835.1 L1943.7,833.2 L1943.8,831.4 L1944.0,829.5 L1944.1,827.6 L1944.3,825.8 L1944.4,823.9 L1944.6,822.0 L1944.7,820.2 L1944.9,818.3 L1945.0,816.5 L1945.2,814.6 L1945.3,812.8 L1945.5,811.0 L1945.6,809.3 L1945.8,807.5 L1945.9,805.8 L1946.1,804.1 L1946.2,802.5 L1946.4,801.2 L1946.5,799.9 L1946.6,798.6 L1946.8,796.6 L1947.0,794.8 L1947.2,792.9 L1947.4,791.1 L1947.6,789.3 L1947.8,787.5 L1948.0,785.7 L1948.1,784.0 L1948.3,782.2 L1948.5,780.5 L1948.6,778.7 L1948.8,776.9 L1948.9,775.0 L1949.1,773.3 L1949.2,771.5 L1949.3,769.7 L1949.4,768.0 L1949.6,766.2 L1949.7,764.5 L1949.8,762.7 L1949.9,760.8 L1950.0,759.0 L1950.2,757.0 L1950.3,755.7 L1950.4,753.9 L1950.5,752.2 L1950.6,750.5 L1950.8,748.7 L1950.9,746.8 L1951.0,744.9 L1951.1,743.6 L1951.2,742.2 L1951.3,740.9 L1951.4,739.6 L1951.5,738.3 L1951.6,736.9 L1951.7,735.6 L1951.8,734.3 L1951.9,732.9 L1952.0,731.6 L1952.1,729.7 L1952.3,727.8 L1952.4,726.0 L1952.5,724.2 L1952.7,722.5 L1952.8,720.9 L1952.9,719.4 L1953.1,717.9 L1953.2,715.9 L1953.3,714.4 L1953.4,713.0 L1953.4,711.6 L1953.5,710.3 L1953.6,708.5 L1953.9,706.9 L1954.2,705.4 L1955.0,703.7 L1955.8,702.4 L1957.1,701.3 L1958.5,702.1 L1959.2,703.3 L1959.9,704.7 L1960.6,706.2 L1961.3,707.5 L1962.2,708.7 L1963.3,707.9 L1963.7,706.6 L1964.1,705.1 L1964.6,703.6 L1965.0,702.2 L1966.1,700.7 L1967.2,699.8 L1968.8,699.4 L1969.6,700.6 L1970.2,702.3 L1970.5,703.7 L1970.8,705.1 L1971.1,706.6 L1971.4,708.1 L1971.7,709.4 L1972.3,711.3 L1972.7,712.8 L1973.1,714.3 L1973.5,715.8 L1973.9,717.1 L1974.5,718.4 L1976.2,718.1 L1977.0,717.0 L1977.8,715.7 L1978.4,714.2 L1978.7,712.8 L1979.0,711.1 L1979.2,709.3 L1979.4,707.4 L1979.4,706.0 L1979.5,704.7 L1979.6,703.3 L1979.7,702.0 L1979.8,700.7 L1980.0,698.8 L1980.2,697.0 L1980.5,695.2 L1980.7,693.4 L1980.9,691.6 L1981.2,689.8 L1981.4,687.9 L1981.7,686.1 L1981.9,684.3 L1982.2,682.4 L1982.4,680.6 L1982.7,678.8 L1982.9,677.0 L1983.1,675.1 L1983.4,673.3 L1983.6,671.5 L1983.8,669.6 L1984.1,667.8 L1984.3,666.0 L1984.5,664.2 L1984.8,662.4 L1985.1,660.6 L1985.4,658.7 L1985.7,656.8 L1986.0,654.9 L1986.3,653.0 L1986.6,651.2 L1987.0,649.4 L1987.4,647.7 L1987.8,646.0 L1988.3,644.3 L1988.8,642.9 L1989.2,641.4 L1989.7,640.0 L1990.2,638.8 L1991.0,637.2 L1992.5,636.0 L1994.4,636.2 L1995.2,637.3 L1995.8,639.0 L1996.2,640.4 L1996.5,641.8 L1996.9,643.2 L1997.5,645.0 L1998.0,646.2 L1998.7,648.0 L1999.6,649.5 L2000.9,650.8 L2002.5,651.8 L2004.1,652.9 L2005.4,654.2 L2006.4,655.8 L2007.3,657.5 L2007.8,658.7 L2008.3,660.0 L2008.8,661.2 L2009.2,663.1 L2009.5,664.4 L2009.7,665.7 L2009.9,667.0 L2010.0,668.3 L2010.3,670.2 L2010.8,672.0 L2011.2,673.4 L2011.6,674.7 L2012.5,676.2 L2013.7,677.2 L2015.0,677.5 L2016.4,676.5 L2017.3,675.4 L2018.3,674.2 L2019.3,673.3 L2020.4,672.5 L2021.5,671.8 L2023.2,670.9 L2024.5,670.5 L2025.6,671.4 L2026.0,672.8 L2026.2,674.7 L2026.4,676.1 L2026.5,677.6 L2026.7,679.1 L2026.8,680.6 L2027.0,682.3 L2027.2,684.0 L2027.4,685.7 L2027.6,687.5 L2027.8,689.3 L2028.0,691.2 L2028.2,693.0 L2028.3,694.9 L2028.5,696.8 L2028.7,698.7 L2028.8,700.6 L2028.9,702.3 L2029.0,704.1 L2029.2,705.9 L2029.3,707.6 L2029.4,709.4 L2029.5,711.2 L2029.5,713.0 L2029.6,714.8 L2029.7,716.7 L2029.8,718.6 L2029.9,719.9 L2030.0,721.2 L2030.1,722.9 L2030.2,724.6 L2030.3,726.3 L2030.4,728.1 L2030.5,729.9 L2030.6,731.8 L2030.8,733.6 L2030.9,735.5 L2031.0,737.3 L2031.1,739.2 L2031.2,741.1 L2031.3,742.9 L2031.5,744.8 L2031.6,746.6 L2031.7,748.4 L2031.8,750.2 L2031.9,751.9 L2032.0,753.8 L2032.0,755.1 L2032.1,756.4 L2032.1,757.7 L2032.2,759.0 L2032.2,760.3 L2032.3,761.6 L2032.4,763.6 L2032.4,765.5 L2032.5,767.4 L2032.6,769.2 L2032.7,771.0 L2032.7,772.7 L2032.8,774.4 L2033.0,776.0 L2033.1,777.5 L2033.2,779.1 L2033.4,780.7 L2033.6,782.4 L2033.7,784.0 L2033.9,785.5 L2034.1,786.8 L2034.4,788.2 L2035.3,787.2 L2035.6,785.2 L2035.9,783.7 L2036.1,782.1 L2036.4,780.5 L2036.8,779.1 L2037.5,777.5 L2038.3,776.5 L2039.8,775.4 L2041.5,774.4 L2043.0,773.3 L2044.6,772.3 L2046.2,771.3 L2047.5,770.0 L2048.1,768.8 L2048.6,767.4 L2048.9,765.9 L2049.3,764.7 L2050.4,763.8 L2051.6,765.0 L2052.4,766.2 L2053.1,767.5 L2053.6,769.4 L2053.9,770.9 L2054.1,772.4 L2054.3,773.7 L2055.0,775.0 L2056.9,774.9 L2058.3,775.2 L2058.8,776.8 L2059.0,778.5 L2059.0,779.8 L2059.0,781.3 L2059.0,782.7 L2059.0,784.2 L2059.0,785.7 L2059.1,787.1 L2059.2,789.0 L2059.6,790.7 L2060.0,792.0 L2060.7,793.7 L2061.4,795.3 L2062.2,796.9 L2063.2,798.6 L2063.8,800.0 L2064.0,801.3 L2064.3,802.9 L2064.4,804.6 L2064.5,806.5 L2064.6,807.8 L2064.7,809.1 L2064.7,810.5 L2064.8,811.8 L2064.9,813.1 L2065.0,815.0 L2065.1,816.8 L2065.2,818.8 L2065.3,820.1 L2065.3,821.5 L2065.4,822.8 L2065.4,824.1 L2065.6,826.1 L2065.7,827.9 L2065.9,829.5 L2066.1,830.8 L2066.8,832.6 L2067.8,834.2 L2068.3,835.8 L2068.5,837.3 L2068.7,839.1 L2068.8,841.0 L2068.9,842.4 L2068.9,843.7 L2069.0,845.1 L2069.0,846.5 L2069.1,847.8 L2069.2,849.8 L2069.3,851.5 L2069.5,853.2 L2069.8,855.1 L2070.1,856.7 L2070.4,858.5 L2070.6,860.0 L2070.7,861.4 L2070.9,862.9 L2071.0,864.6 L2071.1,866.5 L2071.3,868.4 L2071.3,869.7 L2071.4,871.0 L2071.5,872.4 L2071.6,873.8 L2071.7,875.1 L2071.7,876.5 L2071.8,877.8 L2071.9,879.1 L2072.1,881.0 L2072.3,882.8 L2072.4,884.5 L2072.7,886.4 L2072.9,887.7 L2073.2,889.5 L2073.5,891.4 L2073.8,893.1 L2074.1,894.8 L2074.5,896.5 L2074.9,898.2 L2075.3,900.0 L2075.8,901.9 L2076.3,903.7 L2076.9,905.6 L2077.4,907.3 L2077.8,909.0 L2078.2,910.7 L2078.4,912.3 L2078.6,913.8 L2078.8,915.1 L2079.4,916.2 L2081.2,915.6 L2082.6,914.9 L2083.7,915.9 L2084.0,917.6 L2084.0,919.3 L2084.0,921.2 L2084.0,922.6 L2083.9,924.1 L2083.9,925.6 L2083.8,927.1 L2083.7,928.6 L2083.7,930.2 L2083.7,931.6 L2083.7,933.0 L2083.7,934.4 L2083.8,936.2 L2084.0,938.2 L2084.1,939.5 L2084.2,940.9 L2084.3,942.2 L2084.4,943.6 L2084.5,945.0 L2084.6,946.4 L2084.7,947.7 L2084.9,949.0 L2085.1,950.9 L2085.4,952.6 L2085.7,954.2 L2086.0,955.5 L2086.6,956.9 L2087.7,958.3 L2088.8,960.0 L2089.1,961.5 L2089.3,963.0 L2089.5,964.5 L2089.6,966.3 L2089.7,968.2 L2089.7,969.5 L2089.8,970.8 L2089.8,972.2 L2089.8,973.6 L2089.8,975.0 L2089.8,976.4 L2089.8,977.8 L2089.8,979.2 L2089.9,980.5 L2089.9,981.9 L2089.9,983.8 L2090.0,985.6 L2090.1,987.5 L2090.2,989.4 L2090.3,991.4 L2090.4,993.3 L2090.5,995.2 L2090.6,997.1 L2090.7,999.0 L2090.8,1000.8 L2090.9,1002.6 L2091.0,1004.3 L2091.1,1005.9 L2091.2,1007.5 L2091.3,1009.0 L2091.4,1010.5 L2091.4,1012.0 L2091.5,1013.4 L2091.5,1014.8 L2091.7,1016.6 L2092.1,1018.0 L2093.0,1019.2 L2094.4,1019.4 L2095.6,1020.0 L2096.2,1021.5 L2096.6,1023.1 L2096.8,1024.8 L2097.0,1026.5 L2097.1,1028.0 L2097.4,1029.6 L2097.7,1028.1 L2097.7,1026.3 L2097.7,1025.0 L2097.7,1023.5 L2097.7,1021.9 L2097.6,1020.2 L2097.6,1018.6 L2097.6,1016.9 L2097.7,1015.4 L2097.7,1013.9 L2097.8,1012.5 L2097.9,1010.8 L2098.3,1009.2 L2098.8,1007.8 L2099.7,1006.4 L2101.2,1007.1"/>
<path stroke="#FF8000" d="M343.8,218.9 L343.8,215.4 L343.8,216.8 L343.9,216.4 L344.1,217.4 L344.2,214.3 L344.4,215.6 L344.7,215.2 L344.9,214.7 L345.3,215.0 L345.6,215.4 L346.0,215.7 L346.4,214.8 L346.8,216.6 L347.2,215.3 L347.7,213.3 L348.2,217.5 L348.7,215.4 L349.3,214.9 L349.8,216.2 L350.4,216.1 L351.1,215.8 L351.7,214.5 L352.3,215.9 L353.0,213.5 L353.7,217.5 L354.4,213.8 L355.1,215.2 L355.8,215.4 L356.6,215.7 L357.3,215.0 L358.1,215.9 L358.8,212.5 L359.6,214.8 L360.4,214.7 L361.2,214.3 L362.0,216.9 L362.8,213.4 L363.6,214.6 L364.4,212.1 L365.2,215.0 L366.0,212.3 L366.8,212.3 L367.6,217.3 L368.4,215.3 L369.2,214.3 L370.0,214.5 L370.8,212.2 L371.6,212.7 L372.3,214.7 L373.1,211.5 L373.8,214.4 L374.6,211.6 L375.3,214.1 L376.0,212.3 L376.7,216.2 L377.4,215.1 L378.1,213.0 L378.7,211.1 L379.4,212.5 L380.0,213.5 L380.6,212.2 L381.2,213.9 L381.9,214.8 L382.5,213.3 L383.1,212.7 L383.8,214.3 L384.5,212.7 L385.1,214.2 L385.8,212.5 L386.5,215.1 L387.2,212.4 L387.9,211.2 L388.6,212.7 L389.4,211.6 L390.1,211.0 L390.8,212.0 L391.5,213.1 L392.3,209.5 L393.0,211.8 L393.7,211.5 L394.4,211.4 L395.2,212.6 L395.9,209.6 L396.6,212.2 L397.4,210.8 L398.1,211.2 L398.8,210.6 L399.5,210.4 L400.2,210.0 L401.0,211.2 L401.7,213.4 L402.4,211.9 L403.1,211.5 L403.7,211.0 L404.4,209.5 L405.1,210.9 L405.7,212.9 L406.4,208.2 L407.0,211.0 L407.7,211.2 L408.3,210.2 L408.9,210.9 L409.5,211.7 L410.0,212.6 L410.6,211.5 L411.2,212.0 L411.7,210.2 L412.2,210.9 L412.7,210.0 L413.2,210.2 L413.7,209.2 L414.1,210.8 L414.6,212.0 L415.0,209.9 L415.4,210.5 L415.7,211.1 L416.1,210.4 L416.4,211.8 L416.7,211.0 L417.0,209.2 L417.3,209.6 L417.5,212.2 L417.9,212.5 L418.2,213.7 L418.4,213.1 L418.6,213.8 L418.7,212.1 L418.7,217.0 L418.7,214.6 L418.7,218.1 L418.7,216.0 L418.6,217.4 L418.5,219.2 L418.4,219.1 L418.4,219.3 L418.3,222.0 L418.3,222.1 L418.3,221.9 L418.3,221.0 L418.3,220.3 L418.3,220.5 L418.3,220.0 L418.2,220.2 L418.2,220.7 L418.1,218.7 L418.1,217.1 L418.0,216.5 L418.0,218.2 L418.0,215.9 L418.1,215.1 L418.2,214.4 L418.3,214.1 L418.6,212.8 L418.9,213.6 L419.3,212.6 L419.5,208.6 L419.8,210.9 L420.1,213.6 L420.4,209.0 L420.8,210.7 L421.1,211.8 L421.5,210.2 L422.0,211.9 L422.4,208.3 L422.8,208.2 L423.3,209.5 L423.8,208.7 L424.3,208.1 L424.9,210.3 L425.4,209.8 L426.0,209.4 L426.6,208.8 L427.1,209.6 L427.8,209.1 L428.4,208.2 L429.0,209.9 L429.7,209.7 L430.3,209.3 L431.0,210.1 L431.7,207.6 L432.3,208.9 L433.0,208.4 L433.7,211.0 L434.4,209.8 L435.1,211.9 L435.9,211.3 L436.6,208.7 L437.3,207.7 L438.0,209.9 L438.8,208.9 L439.5,209.1 L440.2,207.9 L441.0,210.2 L441.7,209.6 L442.4,209.9 L443.2,209.8 L443.9,208.2 L444.6,206.8 L445.3,209.1 L446.0,208.6 L446.7,208.8 L447.4,210.8 L448.1,209.4 L448.8,211.6 L449.5,209.8 L450.1,210.4 L450.8,210.2 L451.4,210.6 L452.1,207.8 L452.7,210.9 L453.3,209.5 L453.9,208.0 L454.4,210.1 L455.0,209.7 L455.6,210.9 L456.3,210.1 L456.9,209.5 L457.6,206.7 L458.2,211.1 L458.8,210.8 L459.4,209.7 L460.0,209.2 L460.7,210.1 L461.3,207.2 L461.9,209.3 L462.5,208.2 L463.1,206.8 L463.7,208.5 L464.3,208.4 L464.9,210.1 L465.4,209.0 L466.0,205.4 L466.6,204.8 L467.2,207.3 L467.8,207.0 L468.4,205.9 L468.9,205.1 L469.5,206.7 L470.1,205.3 L470.7,205.8 L471.2,207.8 L471.8,206.9 L472.4,205.5 L473.0,204.9 L473.6,206.0 L474.1,208.5 L474.7,205.4 L475.3,208.4 L475.9,204.9 L476.5,205.6 L477.0,206.7 L477.6,204.7 L478.2,205.7 L478.8,203.8 L479.4,206.4 L480.0,207.1 L480.6,204.6 L481.2,205.7 L481.9,204.8 L482.5,202.6 L483.1,208.0 L483.8,206.1 L484.4,206.4 L485.0,205.7 L485.7,205.4 L486.3,207.9 L487.0,202.7 L487.6,204.7 L488.3,204.6 L489.0,204.9 L489.6,206.1 L490.3,204.2 L490.9,203.4 L491.6,203.6 L492.2,205.8 L492.9,206.4 L493.5,206.3 L494.2,207.3 L494.8,204.5 L495.4,206.5 L496.1,206.1 L496.7,205.0 L497.3,204.2 L497.9,206.4 L498.5,204.3 L499.1,204.8 L499.7,203.9 L500.3,207.5 L500.8,205.1 L501.4,204.5 L501.9,204.8 L502.5,204.8 L503.0,205.2 L503.5,202.8 L504.0,203.5 L504.5,205.7 L505.0,206.5 L505.7,203.6 L506.5,205.0 L507.1,204.0 L507.8,201.9 L508.4,204.1 L509.0,202.9 L509.6,205.4 L510.2,203.8 L510.8,203.9 L511.3,201.9 L511.9,204.0 L512.5,201.1 L513.1,204.0 L513.7,205.5 L514.3,202.0 L515.0,204.9 L515.5,205.7 L516.0,203.6 L516.6,205.5 L517.1,204.3 L517.7,203.6 L518.2,201.8 L518.8,203.2 L519.3,202.8 L519.9,207.7 L520.5,205.6 L521.1,205.2 L521.6,203.8 L522.2,208.2 L522.8,204.6 L523.4,208.4 L524.0,208.1 L524.5,207.1 L525.1,206.3 L525.7,207.5 L526.2,206.0 L526.8,209.0 L527.4,210.7 L527.9,209.9 L528.4,210.5 L529.0,208.4 L529.5,210.1 L530.0,208.6 L530.5,209.7 L531.0,211.6 L531.5,213.7 L531.9,211.4 L532.4,211.7 L532.9,209.5 L533.3,212.6 L533.8,211.5 L534.3,211.2 L534.7,211.5 L535.2,214.1 L535.6,213.9 L536.1,215.5 L536.5,214.9 L536.9,215.5 L537.4,217.6 L537.8,217.2 L538.2,217.6 L538.7,218.8 L539.1,217.9 L539.5,217.0 L539.9,217.7 L540.4,217.3 L540.8,219.8 L541.2,219.4 L541.6,220.9 L542.1,221.7 L542.5,220.4 L542.9,221.9 L543.3,223.5 L543.7,222.6 L544.0,224.0 L544.4,223.2 L544.8,222.8 L545.2,224.1 L545.5,222.7 L545.9,226.0 L546.3,225.1 L546.7,227.6 L547.0,225.3 L547.4,227.2 L547.8,228.0 L548.1,227.8 L548.5,229.0 L548.9,228.2 L549.2,228.3 L549.6,228.4 L550.0,229.9 L550.3,230.1 L550.7,231.7 L551.0,231.6 L551.4,231.7 L551.8,232.2 L552.1,231.4 L552.5,233.6 L552.8,234.9 L553.2,233.5 L553.6,235.2 L553.9,236.7 L554.3,235.7 L554.6,237.2 L555.0,237.0 L555.3,240.2 L555.7,240.0 L556.0,240.3 L556.4,238.7 L556.7,240.7 L557.1,240.2 L557.4,241.3 L557.8,240.8 L558.1,242.1 L558.4,241.5 L558.8,243.2 L559.1,245.4 L559.5,242.4 L559.8,242.9 L560.1,245.3 L560.5,246.0 L560.8,245.6 L561.2,246.9 L561.5,247.3 L561.8,247.9 L562.2,249.1 L562.5,247.9 L562.8,249.5 L563.2,249.6 L563.5,249.4 L563.8,250.9 L564.2,250.0 L564.5,250.3 L564.8,252.9 L565.2,251.7 L565.5,254.5 L565.8,254.5 L566.2,253.7 L566.5,254.0 L566.8,253.6 L567.2,255.7 L567.5,254.9 L567.8,258.0 L568.1,255.9 L568.4,257.8 L568.7,256.6 L569.1,258.5 L569.4,260.3 L569.7,259.4 L570.0,259.6 L570.3,260.4 L570.6,261.6 L570.9,262.5 L571.2,262.1 L571.5,261.2 L571.8,263.5 L572.1,264.6 L572.5,265.9 L572.8,265.0 L573.1,265.5 L573.4,265.4 L573.7,267.0 L574.0,268.3 L574.3,266.6 L574.6,268.0 L574.9,267.6 L575.2,268.4 L575.5,269.3 L575.8,270.4 L576.1,269.9 L576.4,270.8 L576.7,272.7 L577.0,272.5 L577.3,273.2 L577.6,273.5 L577.9,273.6 L578.2,274.6 L578.5,275.2 L578.8,275.3 L579.1,276.7 L579.4,276.4 L579.7,277.7 L580.0,277.5 L580.3,278.6 L580.6,278.0 L580.8,278.6 L581.1,278.6 L581.4,281.1 L581.7,281.0 L582.0,281.3 L582.2,282.2 L582.5,281.5 L582.8,282.8 L583.1,282.9 L583.3,282.3 L583.6,284.1 L583.9,284.2 L584.2,286.6 L584.4,285.3 L584.7,286.0 L585.0,287.8 L585.2,287.6 L585.5,287.0 L585.8,288.8 L586.1,288.6 L586.3,291.2 L586.6,289.4 L586.9,290.2 L587.1,289.8 L587.4,291.4 L587.7,294.0 L588.0,292.9 L588.2,292.8 L588.5,294.4 L588.8,294.5 L589.0,295.2 L589.3,297.4 L589.6,298.0 L589.8,298.2 L590.1,298.8 L590.4,297.3 L590.6,297.0 L590.9,299.8 L591.2,300.0 L591.4,300.3 L591.7,300.7 L592.0,302.0 L592.2,302.4 L592.5,302.7 L592.8,303.4 L593.0,303.4 L593.3,303.8 L593.5,305.8 L593.8,305.0 L594.0,307.3 L594.3,306.8 L594.5,306.9 L594.8,308.3 L595.0,307.5 L595.3,308.3 L595.5,308.7 L595.8,309.5 L596.0,310.6 L596.3,312.2 L596.5,311.6 L596.8,310.9 L597.0,311.6 L597.3,311.4 L597.5,314.0 L597.8,314.7 L598.0,314.8 L598.3,315.3 L598.5,316.0 L598.8,316.5 L599.0,317.2 L599.3,317.4 L599.5,317.0 L599.8,319.1 L600.0,320.0 L600.3,318.1 L600.5,319.8 L600.8,319.7 L601.0,321.6 L601.3,321.5 L601.5,323.4 L601.8,323.7 L602.0,323.0 L602.3,323.5 L602.5,324.0 L602.8,325.5 L603.0,324.8 L603.3,326.5 L603.5,325.5 L603.8,328.1 L604.0,328.2 L604.3,327.4 L604.5,328.3 L604.8,329.6 L605.0,330.2 L605.2,329.0 L605.5,331.3 L605.7,332.9 L606.0,331.8 L606.2,331.7 L606.5,334.3 L606.7,334.1 L607.0,334.6 L607.2,335.5 L607.5,334.5 L607.7,335.6 L608.0,335.7 L608.2,336.3 L608.5,337.5 L608.7,337.5 L609.0,340.2 L609.2,339.9 L609.5,340.7 L609.7,339.2 L609.9,341.0 L610.2,341.6 L610.4,342.4 L610.7,343.2 L610.9,342.7 L611.2,343.2 L611.4,345.3 L611.7,346.7 L611.9,347.2 L612.2,345.9 L612.4,346.1 L612.7,347.4 L612.9,348.2 L613.2,349.8 L613.4,348.7 L613.7,348.9 L613.9,350.9 L614.2,350.0 L614.4,350.4 L614.7,352.1 L614.9,352.0 L615.2,351.9 L615.4,353.1 L615.7,353.5 L615.9,354.2 L616.2,354.3 L616.5,355.9 L616.7,355.6 L617.0,356.0 L617.2,357.8 L617.5,356.7 L617.8,358.7 L618.1,359.1 L618.4,358.9 L618.7,359.9 L618.9,359.1 L619.2,361.1 L619.5,360.6 L619.8,361.3 L620.1,362.7 L620.4,362.4 L620.7,363.7 L621.0,364.5 L621.3,365.5 L621.6,365.5 L621.9,366.6 L622.2,365.7 L622.5,366.5 L622.8,367.9 L623.1,368.8 L623.4,368.8 L623.7,368.5 L624.0,368.6 L624.3,369.2 L624.6,371.4 L624.9,370.2 L625.2,371.4 L625.5,372.6 L625.8,373.0 L626.1,372.6 L626.4,375.3 L626.7,374.3 L627.0,374.9 L627.3,375.9 L627.6,375.5 L627.9,376.8 L628.2,376.7 L628.5,376.6 L628.8,377.1 L629.1,378.7 L629.4,379.0 L629.7,379.3 L630.0,379.6 L630.3,380.3 L630.6,381.7 L630.9,382.5 L631.2,381.9 L631.5,382.9 L631.8,381.7 L632.1,382.8 L632.4,383.7 L632.7,384.1 L633.0,386.0 L633.3,384.4 L633.5,386.9 L633.8,387.6 L634.1,389.2 L634.4,387.7 L634.7,389.0 L635.0,390.4 L635.3,390.5 L635.6,389.6 L635.9,390.6 L636.2,390.5 L636.5,392.0 L636.8,393.0 L637.1,394.1 L637.4,394.0 L637.7,394.8 L638.0,395.5 L638.3,394.5 L638.6,396.3 L638.9,397.0 L639.2,396.6 L639.5,396.5 L639.8,398.0 L640.1,398.5 L640.4,399.5 L640.7,398.0 L641.0,399.6 L641.3,402.1 L641.6,402.0 L641.9,401.4 L642.2,401.8 L642.5,402.3 L642.8,402.3 L643.2,403.2 L643.5,404.1 L643.8,403.7 L644.1,405.1 L644.5,405.9 L644.8,405.2 L645.1,406.4 L645.5,406.0 L645.8,407.8 L646.1,408.5 L646.5,408.4 L646.8,409.4 L647.1,410.3 L647.5,410.9 L647.8,409.8 L648.1,411.2 L648.5,410.8 L648.8,410.9 L649.1,413.8 L649.5,414.1 L649.8,415.0 L650.2,415.1 L650.5,414.5 L650.8,415.6 L651.2,415.5 L651.5,417.5 L651.9,415.3 L652.2,417.7 L652.6,417.5 L652.9,419.0 L653.3,419.8 L653.6,418.8 L654.0,420.9 L654.3,421.2 L654.6,419.5 L655.0,422.7 L655.4,420.8 L655.8,421.2 L656.1,423.5 L656.5,422.7 L656.9,423.9 L657.3,424.2 L657.7,423.9 L658.1,426.5 L658.4,426.9 L658.8,426.2 L659.2,427.9 L659.6,427.1 L660.0,427.8 L660.4,427.8 L660.8,427.4 L661.2,428.7 L661.6,428.7 L662.0,430.2 L662.4,430.5 L662.8,430.3 L663.1,432.3 L663.5,432.0 L663.9,433.6 L664.3,432.3 L664.7,432.8 L665.1,432.9 L665.5,434.2 L665.9,434.3 L666.3,434.9 L666.7,436.8 L667.1,436.4 L667.5,435.8 L667.9,437.0 L668.3,437.0 L668.7,437.4 L669.2,438.0 L669.6,438.7 L670.0,439.6 L670.4,440.4 L670.8,440.0 L671.3,439.8 L671.7,440.9 L672.1,441.3 L672.5,441.7 L673.0,441.4 L673.4,442.7 L673.8,441.8 L674.2,444.7 L674.7,444.8 L675.1,445.2 L675.5,444.3 L675.9,445.7 L676.3,447.0 L676.8,446.3 L677.2,446.0 L677.6,447.3 L678.0,446.2 L678.4,449.0 L678.8,449.0 L679.2,448.0 L679.6,450.1 L680.0,450.9 L680.4,451.0 L680.8,451.5 L681.2,452.7 L681.6,452.1 L682.0,453.6 L682.4,452.8 L682.7,452.9 L683.1,453.7 L683.5,453.6 L683.9,455.3 L684.2,454.9 L684.6,456.2 L685.0,456.7 L685.3,458.2 L685.7,458.8 L686.1,457.4 L686.5,458.1 L686.9,458.6 L687.3,458.6 L687.7,461.0 L688.1,460.9 L688.6,460.1 L689.0,459.5 L689.5,460.4 L690.0,461.3 L690.5,462.8 L691.0,460.8 L691.6,463.2 L692.1,461.1 L692.7,462.7 L693.2,461.7 L693.8,462.4 L694.4,461.3 L695.0,463.5 L695.6,463.2 L696.2,462.5 L696.8,461.8 L697.4,463.4 L698.0,463.6 L698.7,462.5 L699.3,464.1 L699.9,463.7 L700.6,463.0 L701.2,463.3 L701.8,462.4 L702.5,464.7 L703.1,465.0 L703.7,464.1 L704.4,463.4 L705.0,463.6 L705.6,464.4 L706.2,464.0 L706.7,465.1 L707.3,464.3 L707.9,465.8 L708.5,466.2 L709.1,464.9 L709.7,464.8 L710.3,464.0 L710.9,465.7 L711.5,466.1 L712.1,465.2 L712.7,467.0 L713.3,465.7 L713.9,465.4 L714.5,467.1 L715.1,466.9 L715.7,465.0 L716.3,466.2 L717.0,465.8 L717.6,466.7 L718.2,467.1 L718.8,466.6 L719.4,467.1 L720.0,467.8 L720.6,466.8 L721.3,466.0 L721.9,466.2 L722.5,467.7 L723.1,468.3 L723.6,466.8 L724.2,467.1 L724.8,466.1 L725.4,466.2 L726.0,467.4 L726.5,466.1 L727.1,466.5 L727.7,466.4 L728.3,467.1 L728.9,466.2 L729.4,465.9 L730.0,465.5 L730.6,465.2 L731.2,466.3 L731.8,466.9 L732.4,463.8 L733.0,465.7 L733.6,463.9 L734.2,464.1 L734.7,464.1 L735.3,463.8 L735.9,463.6 L736.5,463.2 L737.1,464.9 L737.7,462.1 L738.3,462.5 L738.9,462.2 L739.5,462.7 L740.1,461.3 L740.7,462.0 L741.3,461.9 L741.9,463.1 L742.5,461.8 L743.0,461.0 L743.5,460.9 L744.0,462.0 L744.5,460.2 L745.0,459.5 L745.5,459.3 L746.0,459.2 L746.5,459.9 L747.0,458.1 L747.6,458.2 L748.1,458.4 L748.6,457.3 L749.1,458.3 L749.6,457.2 L750.1,457.6 L750.6,457.3 L751.1,457.7 L751.7,457.6 L752.2,455.2 L752.7,454.5 L753.2,454.3 L753.7,455.3 L754.2,455.0 L754.8,454.2 L755.3,453.8 L755.8,454.7 L756.3,453.9 L756.8,453.0 L757.3,453.0 L757.9,450.9 L758.4,452.7 L758.9,453.0 L759.4,451.1 L759.9,450.3 L760.4,451.3 L760.9,449.5 L761.5,449.6 L762.0,449.7 L762.5,448.7 L763.0,449.0 L763.5,446.5 L764.0,446.1 L764.5,447.9 L765.0,447.3 L765.5,446.7 L766.0,445.8 L766.5,445.8 L767.0,445.7 L767.5,444.1 L768.0,444.8 L768.4,443.7 L768.9,445.5 L769.3,443.8 L769.8,443.4 L770.2,443.6 L770.7,443.2 L771.2,442.8 L771.6,441.2 L772.1,441.5 L772.5,441.7 L773.0,440.7 L773.4,440.3 L773.9,439.3 L774.3,439.6 L774.8,440.1 L775.2,437.7 L775.7,437.1 L776.1,436.9 L776.6,436.2 L777.0,438.1 L777.5,438.1 L777.9,436.6 L778.4,435.9 L778.8,436.5 L779.2,435.9 L779.7,433.0 L780.1,434.2 L780.6,435.4 L781.0,433.1 L781.5,432.4 L781.9,432.1 L782.4,433.4 L782.8,431.4 L783.2,431.6 L783.7,431.9 L784.1,430.6 L784.6,430.1 L785.0,428.8 L785.4,428.2 L785.9,429.7 L786.3,427.4 L786.8,428.8 L787.2,428.5 L787.7,428.3 L788.1,426.6 L788.5,425.6 L789.0,425.9 L789.4,426.5 L789.9,425.5 L790.3,425.0 L790.7,424.1 L791.2,424.5 L791.6,421.8 L792.1,422.0 L792.5,423.7 L792.9,422.5 L793.4,422.2 L793.8,419.7 L794.2,420.2 L794.7,420.1 L795.1,419.9 L795.5,420.5 L796.0,418.7 L796.4,418.8 L796.8,417.7 L797.3,417.6 L797.7,417.7 L798.1,417.3 L798.6,417.3 L799.0,415.1 L799.4,416.3 L799.8,415.6 L800.3,414.1 L800.7,415.3 L801.1,413.3 L801.5,413.1 L802.0,413.4 L802.4,413.7 L802.8,411.8 L803.3,412.8 L803.7,411.5 L804.1,410.2 L804.5,410.9 L805.0,409.9 L805.4,408.9 L805.8,408.9 L806.2,409.5 L806.7,408.4 L807.1,407.5 L807.5,407.9 L808.0,405.7 L808.4,406.9 L808.8,407.0 L809.2,404.5 L809.7,404.2 L810.1,403.9 L810.5,404.0 L811.0,403.1 L811.4,403.3 L811.8,402.1 L812.3,402.7 L812.7,402.5 L813.1,402.0 L813.6,400.7 L814.0,401.4 L814.4,399.1 L814.9,399.4 L815.3,399.5 L815.7,400.1 L816.2,398.4 L816.6,398.8 L817.1,399.2 L817.5,399.1 L818.0,398.5 L818.4,396.1 L818.9,396.5 L819.4,396.3 L819.9,396.0 L820.4,395.4 L820.9,394.5 L821.4,394.2 L821.9,392.7 L822.4,393.9 L822.9,393.2 L823.4,392.1 L823.9,393.6 L824.4,391.7 L824.9,390.8 L825.4,391.4 L826.0,390.9 L826.5,390.6 L827.0,389.6 L827.5,389.9 L828.0,389.0 L828.6,389.5 L829.1,388.4 L829.6,387.1 L830.1,386.5 L830.6,387.4 L831.1,387.3 L831.6,385.0 L832.1,386.2 L832.6,385.3 L833.1,385.2 L833.6,384.0 L834.1,383.4 L834.6,383.4 L835.1,382.9 L835.6,382.8 L836.0,382.9 L836.5,382.5 L837.0,383.6 L837.4,381.0 L837.8,381.0 L838.3,381.1 L838.7,381.2 L839.1,379.5 L839.5,378.9 L839.9,379.9 L840.3,379.7 L840.7,379.5 L841.1,379.2 L841.5,377.2 L841.8,378.9 L842.2,377.7 L842.5,379.1 L843.1,376.7 L843.6,374.9 L844.1,375.9 L844.6,375.7 L845.0,375.4 L845.5,374.9 L845.9,373.9 L846.3,372.6 L846.7,373.3 L847.1,372.8 L847.5,372.2 L847.9,372.3 L848.3,371.6 L848.7,369.8 L849.1,370.3 L849.5,369.8 L850.0,369.8 L850.4,370.9 L850.8,369.1 L851.1,369.2 L851.5,366.7 L851.9,368.8 L852.3,366.9 L852.7,367.3 L853.1,365.5 L853.5,365.9 L853.9,366.1 L854.3,364.9 L854.7,364.6 L855.1,363.3 L855.5,362.9 L855.9,363.2 L856.3,362.3 L856.7,362.1 L857.1,361.0 L857.5,360.8 L857.9,361.3 L858.3,361.4 L858.8,359.5 L859.2,359.0 L859.6,359.2 L860.0,359.5 L860.5,358.6 L861.1,358.8 L861.6,357.4 L862.2,356.4 L862.7,355.4 L863.3,357.2 L863.8,356.4 L864.4,355.4 L864.9,355.9 L865.5,354.4 L866.1,355.8 L866.6,355.6 L867.1,355.4 L867.7,353.9 L868.2,355.1 L868.8,354.4 L869.3,354.7 L869.9,351.8 L870.5,353.6 L871.1,353.6 L871.7,352.0 L872.2,352.7 L872.8,351.8 L873.4,352.6 L873.9,351.2 L874.5,351.3 L875.1,350.3 L875.6,352.9 L876.1,350.7 L876.6,350.8 L877.1,351.1 L877.6,352.2 L878.1,352.6 L878.6,353.3 L879.1,354.6 L879.6,354.7 L880.0,353.3 L880.5,355.0 L881.0,355.3 L881.5,356.5 L882.0,356.5 L882.5,358.0 L882.9,357.4 L883.3,359.2 L883.7,357.3 L884.1,359.4 L884.6,359.6 L885.0,358.7 L885.4,358.7 L885.8,359.6 L886.3,360.9 L886.7,362.3 L887.1,360.3 L887.5,361.7 L888.0,361.4 L888.4,363.5 L888.8,363.4 L889.2,363.8 L889.6,364.9 L890.0,365.0 L890.5,366.4 L890.9,365.5 L891.2,365.8 L891.6,366.7 L891.9,367.2 L892.3,368.7 L892.6,367.8 L893.0,368.2 L893.3,368.6 L893.6,369.0 L894.0,368.6 L894.3,370.8 L894.6,371.6 L895.0,371.9 L895.3,371.7 L895.6,373.5 L896.0,373.9 L896.3,374.1 L896.6,374.9 L896.9,374.8 L897.2,375.8 L897.6,376.4 L897.9,375.6 L898.2,376.6 L898.5,377.0 L898.8,378.4 L899.1,376.9 L899.4,379.3 L899.7,379.5 L900.0,379.9 L900.4,380.9 L900.7,380.0 L901.1,381.9 L901.4,381.7 L901.8,382.3 L902.1,384.4 L902.5,383.6 L902.8,385.3 L903.1,385.0 L903.5,385.3 L903.8,385.7 L904.1,385.4 L904.4,386.8 L904.8,387.7 L905.1,389.2 L905.4,389.2 L905.7,389.7 L906.0,388.8 L906.2,389.4 L906.6,390.9 L906.9,391.7 L907.3,391.1 L907.6,393.5 L907.9,392.8 L908.2,394.2 L908.5,394.2 L908.8,395.7 L909.1,396.3 L909.4,396.8 L909.7,395.5 L910.0,396.4 L910.3,397.8 L910.6,395.9 L910.9,395.9 L911.1,395.1 L911.4,394.0 L911.7,395.0 L912.0,394.2 L912.3,391.7 L912.6,392.0 L913.0,392.4 L913.3,390.8 L913.8,390.1 L914.2,390.4 L914.7,390.0 L915.3,388.2 L915.8,388.2 L916.4,389.9 L917.0,388.1 L917.6,388.3 L918.2,387.7 L918.8,389.5 L919.4,386.8 L920.0,387.7 L920.6,387.0 L921.1,386.8 L921.7,385.8 L922.3,385.8 L922.9,386.0 L923.4,386.1 L924.0,384.2 L924.6,385.4 L925.2,384.3 L925.8,384.7 L926.4,384.1 L926.9,384.0 L927.5,383.6 L928.0,383.8 L928.5,383.2 L929.0,381.5 L929.5,380.9 L930.0,381.0 L930.5,382.1 L931.0,380.2 L931.5,380.4 L932.0,382.3 L932.5,380.2 L933.0,380.0 L933.5,380.0 L934.0,379.9 L934.5,378.7 L935.0,378.8 L935.5,376.8 L936.0,378.3 L936.5,378.1 L937.0,375.9 L937.5,377.6 L938.0,378.0 L938.5,374.5 L939.0,375.6 L939.5,376.5 L940.0,375.5 L940.5,374.1 L941.0,373.9 L941.5,373.8 L942.0,374.5 L942.5,373.1 L943.2,372.5 L943.8,373.7 L944.5,373.1 L945.2,375.2 L945.9,373.2 L946.5,374.3 L947.1,373.9 L947.6,372.8 L948.1,373.3 L948.4,371.8 L948.7,373.3 L948.9,371.8 L949.0,371.0 L949.1,370.1 L949.2,371.8 L949.3,370.4 L949.4,368.4 L949.4,368.4 L949.5,368.2 L949.6,367.5 L949.7,366.3 L949.8,364.0 L950.0,366.3 L950.2,364.3 L950.4,364.9 L950.6,362.2 L950.9,363.2 L951.1,363.1 L951.3,362.3 L951.6,359.8 L951.9,360.0 L952.1,360.8 L952.4,358.4 L952.7,359.0 L952.9,357.7 L953.2,356.1 L953.5,357.5 L953.8,357.1 L954.0,356.2 L954.3,355.3 L954.6,355.4 L954.9,352.5 L955.2,353.5 L955.5,354.4 L955.8,352.9 L956.1,352.9 L956.4,351.3 L956.7,351.3 L957.1,349.6 L957.5,350.4 L957.9,349.8 L958.2,348.8 L958.6,348.6 L959.0,348.3 L959.4,347.9 L959.8,347.9 L960.3,347.6 L960.7,344.8 L961.2,346.1 L961.6,346.4 L962.1,344.1 L962.6,344.5 L963.0,345.8 L963.5,343.2 L964.0,344.1 L964.5,343.1 L965.0,341.4 L965.5,341.9 L966.0,340.3 L966.4,341.1 L966.9,341.8 L967.4,341.2 L968.0,340.6 L968.5,339.6 L969.0,340.2 L969.5,340.4 L970.0,339.7 L970.6,339.6 L971.1,338.8 L971.7,338.5 L972.2,337.1 L972.8,338.7 L973.3,336.4 L973.9,336.2 L974.4,336.0 L975.0,335.7 L975.5,337.0 L976.0,335.5 L976.5,335.2 L977.1,334.9 L977.6,334.8 L978.1,335.6 L978.7,335.4 L979.2,333.6 L979.8,335.0 L980.3,333.9 L980.8,333.4 L981.4,333.9 L982.0,332.7 L982.5,332.6 L983.1,332.2 L983.6,330.8 L984.2,330.5 L984.7,330.5 L985.3,330.3 L985.8,330.3 L986.4,330.0 L986.9,331.1 L987.5,330.0 L988.1,330.4 L988.6,329.8 L989.2,328.6 L989.8,328.9 L990.3,327.7 L990.9,327.3 L991.4,328.7 L992.0,328.2 L992.6,328.1 L993.1,328.6 L993.7,326.5 L994.3,327.3 L994.9,325.6 L995.4,326.3 L996.0,327.3 L996.6,325.4 L997.1,325.4 L997.7,326.0 L998.3,327.4 L998.9,326.5 L999.4,325.6 L1000.0,326.1 L1000.6,325.5 L1001.2,324.9 L1001.8,324.7 L1002.4,325.3 L1003.0,324.7 L1003.6,325.2 L1004.2,324.0 L1004.7,325.0 L1005.3,323.8 L1005.9,325.0 L1006.5,324.7 L1007.1,323.2 L1007.7,325.2 L1008.3,323.8 L1008.9,322.8 L1009.5,322.2 L1010.1,323.1 L1010.7,323.0 L1011.3,322.2 L1011.9,321.8 L1012.5,322.1 L1013.1,321.5 L1013.7,321.7 L1014.3,321.3 L1014.9,322.3 L1015.5,320.2 L1016.1,323.2 L1016.7,321.1 L1017.3,321.3 L1017.9,320.2 L1018.5,321.9 L1019.1,320.8 L1019.7,320.5 L1020.3,319.9 L1020.8,321.0 L1021.4,320.7 L1022.0,319.7 L1022.6,321.3 L1023.2,319.2 L1023.8,320.7 L1024.4,319.7 L1025.0,318.3 L1025.6,319.0 L1026.1,319.5 L1026.7,318.5 L1027.3,318.7 L1027.8,318.4 L1028.4,318.6 L1029.0,317.5 L1029.6,319.3 L1030.1,317.9 L1030.7,318.6 L1031.2,317.0 L1031.8,317.1 L1032.4,316.0 L1032.9,316.6 L1033.5,317.5 L1034.1,316.4 L1034.7,315.3 L1035.2,315.3 L1035.8,316.0 L1036.4,315.2 L1036.9,316.8 L1037.5,315.2 L1038.1,314.8 L1038.7,315.2 L1039.3,315.8 L1039.9,313.2 L1040.5,313.7 L1041.1,313.6 L1041.7,312.4 L1042.3,313.8 L1042.9,313.7 L1043.5,314.3 L1044.1,314.0 L1044.7,313.9 L1045.3,313.8 L1045.9,312.8 L1046.5,314.6 L1047.1,314.0 L1047.7,312.4 L1048.3,311.8 L1048.9,312.7 L1049.4,312.9 L1050.0,312.3 L1050.6,312.3 L1051.1,312.2 L1051.7,311.4 L1052.2,310.1 L1052.7,310.1 L1053.3,308.8 L1053.8,310.6 L1054.3,309.1 L1054.8,309.3 L1055.4,310.4 L1055.9,307.8 L1056.4,308.1 L1056.9,307.1 L1057.4,306.0 L1058.0,307.8 L1058.5,306.6 L1059.0,306.3 L1059.6,306.6 L1060.1,305.5 L1060.7,305.9 L1061.2,306.0 L1061.8,304.2 L1062.3,304.8 L1062.8,304.3 L1063.3,304.7 L1063.8,305.2 L1064.3,302.5 L1064.9,304.3 L1065.4,302.9 L1065.9,303.0 L1066.4,302.5 L1067.0,301.9 L1067.5,300.7 L1068.0,301.4 L1068.6,300.5 L1069.1,302.0 L1069.7,301.0 L1070.2,299.9 L1070.8,299.8 L1071.4,300.7 L1072.0,298.4 L1072.5,299.3 L1073.1,299.0 L1073.8,297.9 L1074.4,299.1 L1075.0,297.7 L1075.5,298.6 L1075.9,297.7 L1076.4,296.8 L1076.9,297.0 L1077.4,297.6 L1077.9,295.8 L1078.5,295.6 L1079.0,295.9 L1079.5,296.2 L1080.1,295.9 L1080.6,294.4 L1081.2,294.0 L1081.7,294.6 L1082.3,294.2 L1082.9,294.3 L1083.5,292.6 L1084.0,293.1 L1084.6,292.3 L1085.2,294.2 L1085.8,291.0 L1086.4,291.6 L1086.9,291.6 L1087.5,290.4 L1088.1,291.1 L1088.7,290.6 L1089.3,289.7 L1089.9,290.2 L1090.4,291.4 L1091.0,290.2 L1091.6,290.9 L1092.2,290.5 L1092.7,289.4 L1093.3,288.8 L1093.9,287.2 L1094.4,286.9 L1095.0,288.4 L1095.5,288.1 L1096.0,287.9 L1096.6,286.9 L1097.1,287.1 L1097.6,286.3 L1098.1,287.6 L1098.6,286.8 L1099.1,285.0 L1099.5,285.9 L1100.0,287.2 L1100.7,285.2 L1101.3,284.9 L1102.0,284.8 L1102.6,285.0 L1103.2,285.3 L1103.8,284.9 L1104.3,285.0 L1104.9,284.3 L1105.5,285.1 L1106.0,285.6 L1106.6,283.7 L1107.2,284.5 L1107.7,284.4 L1108.3,284.2 L1108.9,283.9 L1109.4,284.1 L1110.0,283.5 L1110.6,283.0 L1111.2,282.8 L1111.9,283.8 L1112.5,282.7 L1113.0,281.6 L1113.6,282.5 L1114.1,282.3 L1114.7,283.2 L1115.2,283.2 L1115.8,281.4 L1116.3,283.1 L1116.9,282.2 L1117.5,283.0 L1118.1,281.3 L1118.7,282.0 L1119.2,281.9 L1119.8,282.4 L1120.4,280.1 L1121.0,280.9 L1121.6,280.9 L1122.2,280.5 L1122.8,279.8 L1123.4,280.1 L1124.0,280.2 L1124.6,281.5 L1125.2,279.9 L1125.9,280.6 L1126.5,279.2 L1127.1,279.7 L1127.7,279.4 L1128.3,279.3 L1128.9,278.0 L1129.5,279.0 L1130.1,280.5 L1130.7,278.8 L1131.2,277.7 L1131.9,280.3 L1132.5,278.9 L1133.1,278.8 L1133.7,277.3 L1134.3,278.2 L1134.9,278.2 L1135.5,278.2 L1136.1,277.5 L1136.7,278.7 L1137.3,277.2 L1137.9,279.0 L1138.5,278.1 L1139.1,277.8 L1139.7,276.9 L1140.3,278.3 L1140.9,278.3 L1141.5,276.9 L1142.1,279.3 L1142.7,277.8 L1143.3,276.8 L1144.0,278.9 L1144.6,277.1 L1145.2,277.2 L1145.8,276.7 L1146.4,277.1 L1147.0,277.5 L1147.6,276.9 L1148.2,277.9 L1148.8,276.8 L1149.4,277.5 L1150.0,275.9 L1150.6,277.0 L1151.2,277.3 L1151.8,277.7 L1152.4,276.9 L1153.0,277.1 L1153.6,277.2 L1154.3,276.2 L1154.9,277.2 L1155.5,276.9 L1156.1,276.1 L1156.7,275.5 L1157.3,277.3 L1157.9,277.1 L1158.5,276.2 L1159.1,276.8 L1159.7,277.0 L1160.3,275.6 L1160.9,276.1 L1161.5,276.0 L1162.1,275.8 L1162.7,275.2 L1163.3,274.8 L1164.0,275.7 L1164.6,275.2 L1165.2,276.2 L1165.8,275.2 L1166.4,274.8 L1167.0,273.7 L1167.6,274.4 L1168.2,274.7 L1168.8,274.3 L1169.4,273.7 L1170.0,272.6 L1170.6,273.4 L1171.3,274.1 L1171.9,275.2 L1172.6,273.0 L1173.2,274.2 L1173.9,272.7 L1174.5,274.3 L1175.2,273.3 L1175.8,273.4 L1176.5,273.6 L1177.1,272.7 L1177.8,272.7 L1178.4,273.9 L1179.1,271.9 L1179.7,272.3 L1180.3,273.5 L1180.9,273.4 L1181.5,272.2 L1182.1,272.2 L1182.7,272.9 L1183.2,274.3 L1183.8,274.0 L1184.3,272.6 L1184.8,272.5 L1185.3,272.9 L1185.8,271.6 L1186.2,273.3 L1187.0,272.9 L1187.6,274.2 L1188.3,273.0 L1188.9,274.0 L1189.5,273.6 L1190.0,273.9 L1190.5,276.0 L1191.0,274.3 L1191.5,275.3 L1192.0,276.1 L1192.5,277.7 L1192.8,276.8 L1193.1,276.7 L1193.4,277.7 L1193.7,279.3 L1194.0,278.9 L1194.2,279.6 L1194.5,281.3 L1194.7,279.6 L1194.9,281.7 L1195.2,280.8 L1195.4,283.1 L1195.6,283.1 L1195.8,283.9 L1196.0,284.2 L1196.3,284.8 L1196.5,283.6 L1196.7,284.9 L1197.0,288.0 L1197.2,287.0 L1197.5,287.4 L1197.8,288.5 L1198.1,289.4 L1198.4,289.5 L1198.8,290.8 L1199.1,291.1 L1199.4,290.9 L1199.8,292.1 L1200.1,293.4 L1200.5,292.6 L1200.8,293.9 L1201.1,293.8 L1201.5,294.7 L1201.8,294.1 L1202.1,295.7 L1202.5,295.4 L1202.8,297.0 L1203.1,296.0 L1203.7,297.8 L1204.2,296.8 L1204.8,294.9 L1205.3,296.6 L1205.8,294.5 L1206.2,294.0 L1206.5,292.2 L1206.7,292.5 L1206.9,291.3 L1207.0,290.0 L1207.2,289.3 L1207.3,290.4 L1207.4,288.2 L1207.5,287.9 L1207.7,286.8 L1207.9,286.7 L1208.1,286.4 L1208.4,286.9 L1208.6,287.3 L1208.9,288.4 L1209.2,288.3 L1209.6,288.9 L1209.9,289.1 L1210.3,291.0 L1210.7,291.5 L1211.1,291.5 L1211.5,290.8 L1211.9,292.4 L1212.4,290.9 L1212.9,293.5 L1213.4,292.1 L1214.0,292.7 L1214.6,291.2 L1215.2,291.6 L1215.8,291.8 L1216.4,290.9 L1216.9,289.2 L1217.5,288.7 L1218.1,289.6 L1218.7,290.5 L1219.3,289.8 L1219.9,289.7 L1220.5,291.2 L1221.1,292.0 L1221.6,291.1 L1222.1,292.7 L1222.6,293.6 L1223.1,292.1 L1223.5,292.9 L1223.8,292.4 L1224.1,292.2 L1224.3,291.7 L1224.6,290.2 L1224.8,290.7 L1225.0,291.2 L1225.2,289.1 L1225.5,287.0 L1225.7,287.2 L1226.0,288.2 L1226.2,286.0 L1226.5,285.7 L1226.8,284.0 L1227.1,283.3 L1227.3,283.8 L1227.6,283.6 L1227.9,282.2 L1228.2,282.5 L1228.5,281.3 L1228.8,279.5 L1229.2,280.2 L1229.5,280.4 L1229.8,281.1 L1230.2,277.7 L1230.5,278.6 L1230.9,278.1 L1231.2,277.7 L1231.7,277.0 L1232.1,277.7 L1232.6,277.0 L1233.0,275.2 L1233.5,274.7 L1234.0,275.0 L1234.5,273.5 L1235.0,274.4 L1235.5,274.6 L1236.0,273.2 L1236.5,273.0 L1237.0,272.3 L1237.5,272.5 L1237.9,272.4 L1238.3,270.8 L1238.8,272.0 L1239.2,270.1 L1239.6,270.5 L1240.1,270.2 L1240.5,268.8 L1241.0,268.8 L1241.4,267.8 L1241.9,269.0 L1242.3,267.6 L1242.8,266.1 L1243.2,267.4 L1243.7,266.1 L1244.1,267.4 L1244.5,265.4 L1245.0,265.5 L1245.4,263.7 L1245.8,263.9 L1246.2,263.5 L1246.7,263.9 L1247.1,263.8 L1247.5,262.4 L1247.9,261.7 L1248.3,260.6 L1248.6,260.3 L1249.0,260.3 L1249.4,260.8 L1249.8,260.9 L1250.2,258.8 L1250.6,258.0 L1250.9,257.3 L1251.3,258.3 L1251.7,258.2 L1252.1,257.2 L1252.5,257.5 L1252.9,255.8 L1253.3,255.0 L1253.8,255.1 L1254.2,253.6 L1254.6,253.9 L1255.1,253.2 L1255.5,251.8 L1255.9,252.9 L1256.4,252.9 L1256.9,253.1 L1257.3,251.6 L1257.8,252.2 L1258.2,250.3 L1258.7,251.5 L1259.2,249.6 L1259.7,249.7 L1260.1,248.4 L1260.6,250.4 L1261.1,248.3 L1261.5,249.1 L1262.0,247.8 L1262.5,247.6 L1262.9,247.6 L1263.4,245.7 L1263.8,246.6 L1264.3,245.6 L1264.7,244.7 L1265.2,245.9 L1265.6,244.6 L1266.1,245.3 L1266.5,244.0 L1267.0,243.2 L1267.4,242.6 L1267.9,242.7 L1268.4,241.8 L1268.8,242.6 L1269.3,241.0 L1269.7,242.1 L1270.2,240.4 L1270.7,240.2 L1271.1,239.4 L1271.6,241.1 L1272.0,237.5 L1272.5,239.4 L1273.0,239.2 L1273.5,238.8 L1274.0,239.0 L1274.5,238.3 L1275.0,235.5 L1275.5,236.5 L1276.0,235.2 L1276.5,235.4 L1277.0,235.0 L1277.5,235.7 L1278.0,235.1 L1278.5,234.1 L1279.0,233.1 L1279.5,233.6 L1280.0,233.0 L1280.5,232.3 L1281.0,233.0 L1281.5,233.0 L1282.0,230.9 L1282.5,232.2 L1283.0,230.0 L1283.6,230.1 L1284.1,228.9 L1284.6,230.1 L1285.2,230.9 L1285.7,228.3 L1286.3,228.4 L1286.8,227.8 L1287.3,228.3 L1287.9,228.8 L1288.4,226.5 L1289.0,227.9 L1289.5,228.5 L1290.0,226.5 L1290.5,226.3 L1291.0,226.5 L1291.5,224.1 L1292.0,224.6 L1292.5,225.3 L1293.0,224.5 L1293.5,224.7 L1294.0,222.9 L1294.4,223.1 L1294.9,222.2 L1295.4,221.5 L1295.8,222.5 L1296.3,222.8 L1296.7,220.3 L1297.1,220.9 L1297.6,220.6 L1298.0,220.7 L1298.4,218.7 L1298.8,217.6 L1299.2,218.7 L1299.6,217.3 L1300.0,216.3 L1300.4,216.7 L1300.9,216.5 L1301.3,216.2 L1301.7,215.4 L1302.1,213.4 L1302.6,213.0 L1303.0,214.7 L1303.3,215.0 L1303.7,213.8 L1304.1,211.9 L1304.4,213.2 L1304.7,210.9 L1305.0,212.4 L1305.2,211.0 L1305.4,211.0 L1305.6,208.9 L1305.7,209.6 L1305.9,206.8 L1306.0,209.0 L1306.1,206.2 L1306.2,206.6 L1306.3,206.8 L1306.4,206.2 L1306.5,204.9 L1306.6,202.7 L1306.7,204.7 L1306.8,202.5 L1306.9,201.0 L1306.9,202.9 L1307.0,202.8 L1307.1,200.1 L1307.2,200.8 L1307.4,200.2 L1307.5,199.1 L1307.7,198.7 L1307.9,197.6 L1308.0,194.8 L1308.2,195.1 L1308.4,194.6 L1308.6,193.5 L1308.8,193.7 L1309.0,192.9 L1309.2,193.0 L1309.4,193.7 L1309.6,190.9 L1309.8,192.0 L1310.0,192.9 L1310.2,191.3 L1310.3,190.1 L1310.5,191.8 L1310.7,193.4 L1310.9,193.4 L1311.0,192.2 L1311.2,194.4 L1311.4,194.7 L1311.5,195.2 L1311.7,197.1 L1311.9,195.3 L1312.0,199.2 L1312.2,200.3 L1312.3,199.0 L1312.5,199.1 L1312.6,199.3 L1312.8,201.5 L1312.9,201.2 L1313.0,200.5 L1313.1,201.1 L1313.2,203.9 L1313.3,204.9 L1313.5,203.5 L1313.6,206.6 L1313.7,205.4 L1313.8,206.6 L1313.9,206.2 L1314.1,208.6 L1314.2,208.1 L1314.3,208.8 L1314.5,209.8 L1314.6,209.4 L1314.8,211.9 L1315.0,211.5 L1315.2,211.2 L1315.4,211.3 L1315.6,213.1 L1315.8,213.6 L1316.1,213.9 L1316.3,213.6 L1316.6,216.4 L1316.8,215.9 L1317.1,217.2 L1317.3,217.4 L1317.6,217.3 L1317.9,217.4 L1318.2,217.4 L1318.4,219.9 L1318.7,219.5 L1319.0,221.5 L1319.2,222.1 L1319.5,221.9 L1319.7,222.0 L1320.0,223.5 L1320.3,224.6 L1320.5,223.6 L1320.8,224.8 L1321.0,226.2 L1321.3,224.5 L1321.5,226.5 L1321.8,226.4 L1322.0,227.6 L1322.3,228.5 L1322.6,228.1 L1322.8,229.2 L1323.1,230.8 L1323.3,230.6 L1323.6,231.0 L1323.8,231.2 L1324.1,231.7 L1324.3,233.1 L1324.5,232.5 L1324.8,232.9 L1325.0,233.3 L1325.2,234.2 L1325.5,235.2 L1325.7,235.7 L1325.9,236.2 L1326.1,238.7 L1326.3,236.7 L1326.4,238.4 L1326.6,239.5 L1326.8,239.5 L1327.0,240.3 L1327.2,239.6 L1327.4,241.4 L1327.7,242.6 L1327.9,241.6 L1328.2,243.3 L1328.4,244.2 L1328.8,243.9 L1329.2,244.5 L1329.6,243.5 L1330.1,246.4 L1330.6,247.6 L1331.1,247.4 L1331.6,248.2 L1332.1,245.1 L1332.7,246.6 L1333.2,247.0 L1333.8,247.6 L1334.3,247.0 L1334.8,245.7 L1335.4,247.0 L1335.9,245.5 L1336.5,246.3 L1337.0,247.1 L1337.6,247.6 L1338.2,246.2 L1338.8,246.1 L1339.4,243.5 L1340.0,243.9 L1340.6,245.5 L1341.2,245.4 L1341.8,245.0 L1342.5,244.3 L1343.1,244.6 L1343.7,245.5 L1344.4,246.8 L1345.0,245.2 L1345.7,243.5 L1346.3,247.1 L1346.9,245.8 L1347.5,244.5 L1348.0,246.1 L1348.5,245.2 L1349.0,243.8 L1349.5,243.4 L1350.0,244.3 L1350.5,243.3 L1350.9,244.1 L1351.4,241.9 L1351.9,241.3 L1352.3,240.3 L1352.8,240.8 L1353.3,242.4 L1353.7,238.3 L1354.1,240.0 L1354.6,238.2 L1355.0,237.9 L1355.4,240.1 L1355.8,236.0 L1356.2,236.9 L1356.6,235.1 L1357.0,235.7 L1357.4,236.3 L1357.8,235.3 L1358.1,235.7 L1358.5,235.0 L1358.9,233.3 L1359.2,233.3 L1359.6,233.2 L1359.9,231.8 L1360.3,229.9 L1360.6,230.7 L1360.9,230.8 L1361.2,230.1 L1361.5,227.7 L1361.8,228.1 L1362.1,229.0 L1362.4,227.1 L1362.6,228.1 L1362.9,225.7 L1363.1,224.5 L1363.3,224.5 L1363.6,226.9 L1363.8,223.8 L1364.1,223.3 L1364.3,223.8 L1364.5,222.3 L1364.8,220.5 L1365.0,221.1 L1365.2,222.0 L1365.5,219.0 L1365.7,218.7 L1366.0,219.1 L1366.2,218.9 L1366.5,217.6 L1366.7,219.3 L1367.0,216.8 L1367.2,215.4 L1367.5,216.1 L1367.7,215.6 L1367.9,214.8 L1368.2,214.0 L1368.4,215.5 L1368.7,214.5 L1368.9,213.0 L1369.2,211.8 L1369.5,212.1 L1369.7,211.6 L1370.0,210.5 L1370.2,208.8 L1370.5,210.1 L1370.7,209.1 L1371.0,206.9 L1371.2,208.2 L1371.5,207.9 L1371.7,207.1 L1372.0,205.7 L1372.2,205.3 L1372.5,204.4 L1372.8,204.0 L1373.1,204.9 L1373.4,203.7 L1373.7,201.6 L1374.0,202.4 L1374.3,202.4 L1374.6,202.1 L1374.9,200.6 L1375.2,198.8 L1375.5,198.8 L1375.8,198.0 L1376.1,197.5 L1376.4,196.5 L1376.8,197.4 L1377.1,197.2 L1377.5,196.2 L1378.1,198.2 L1378.7,195.9 L1379.3,197.0 L1380.0,198.0 L1380.6,196.1 L1381.3,198.1 L1381.9,197.0 L1382.5,198.5 L1382.9,197.8 L1383.3,196.5 L1383.7,197.1 L1384.1,196.8 L1384.4,198.1 L1384.8,198.5 L1385.2,199.9 L1385.5,198.4 L1385.8,199.0 L1386.2,201.0 L1386.5,201.3 L1386.8,203.3 L1387.2,202.8 L1387.5,203.0 L1387.8,204.7 L1388.0,203.3 L1388.3,205.7 L1388.6,207.0 L1388.8,207.6 L1389.1,206.8 L1389.3,209.8 L1389.6,209.3 L1389.8,210.1 L1390.0,211.3 L1390.3,212.4 L1390.5,210.9 L1390.8,212.4 L1391.0,212.8 L1391.2,213.5 L1391.5,214.4 L1391.7,215.0 L1392.0,214.6 L1392.2,215.6 L1392.5,216.2 L1393.0,215.2 L1393.6,213.0 L1394.1,211.9 L1394.6,212.7 L1395.1,212.4 L1395.6,212.4 L1395.9,212.7 L1396.1,212.9 L1396.3,214.7 L1396.6,214.1 L1396.8,214.5 L1397.0,215.3 L1397.2,217.1 L1397.4,216.8 L1397.5,218.0 L1397.7,218.9 L1397.9,218.9 L1398.1,218.8 L1398.3,219.6 L1398.5,220.0 L1398.8,220.2 L1399.0,220.7 L1399.3,221.2 L1399.6,220.1 L1399.9,218.8 L1400.2,220.5 L1400.5,218.7 L1400.9,216.3 L1401.1,217.2 L1401.4,215.2 L1401.7,215.3 L1401.9,214.5 L1402.0,214.8 L1402.1,212.4 L1402.2,213.6 L1402.3,213.8 L1402.4,210.9 L1402.4,212.2 L1402.5,211.3 L1402.5,210.4 L1402.6,210.8 L1402.6,208.0 L1402.6,207.5 L1402.6,207.5 L1402.7,206.9 L1402.7,205.7 L1402.7,205.2 L1402.7,203.9 L1402.7,203.7 L1402.7,202.2 L1402.8,202.1 L1402.8,200.6 L1402.8,200.1 L1402.9,198.4 L1402.9,198.7 L1403.0,198.7 L1403.1,197.6 L1403.1,197.8 L1403.2,198.3 L1403.3,196.8 L1403.5,196.0 L1403.6,196.1 L1403.8,194.5 L1404.3,196.7 L1405.0,197.2 L1405.6,195.2 L1405.8,198.3 L1405.9,195.9 L1406.1,197.9 L1406.2,197.7 L1406.3,199.6 L1406.4,199.7 L1406.4,200.4 L1406.5,201.3 L1406.5,201.0 L1406.6,202.1 L1406.7,201.4 L1406.7,204.7 L1406.8,203.8 L1406.9,205.1 L1407.0,205.4 L1407.1,205.3 L1407.2,205.7 L1407.4,206.8 L1407.5,207.5 L1407.8,207.3 L1408.0,208.8 L1408.4,209.7 L1408.9,210.0 L1409.4,209.5 L1410.0,210.3 L1410.6,211.7 L1411.2,211.6 L1411.8,210.8 L1412.3,210.9 L1412.9,212.4 L1413.3,210.2 L1413.8,213.0 L1414.0,211.9 L1414.2,212.9 L1414.4,213.6 L1414.6,215.3 L1414.7,213.6 L1414.8,216.2 L1414.9,217.7 L1415.0,216.1 L1415.1,218.1 L1415.2,220.1 L1415.2,218.7 L1415.3,220.4 L1415.5,219.8 L1415.6,220.9 L1415.8,219.6 L1416.0,221.8 L1416.2,224.2 L1416.6,224.6 L1416.9,223.0 L1417.3,224.4 L1417.7,224.1 L1418.2,224.8 L1418.6,224.6 L1419.1,227.1 L1419.6,225.7 L1420.1,228.0 L1420.6,226.7 L1421.1,228.9 L1421.5,227.6 L1422.0,227.1 L1422.5,228.1 L1422.9,229.3 L1423.3,230.5 L1423.8,230.7 L1424.2,229.5 L1424.6,232.4 L1425.1,231.7 L1425.5,232.1 L1426.0,231.7 L1426.4,233.7 L1426.9,233.1 L1427.3,232.4 L1427.7,234.1 L1428.2,234.9 L1428.6,234.8 L1429.1,235.0 L1429.5,236.1 L1430.0,235.0 L1430.5,237.5 L1430.9,236.5 L1431.4,236.3 L1431.8,238.3 L1432.3,239.8 L1432.7,239.9 L1433.1,238.1 L1433.6,238.9 L1434.1,240.7 L1434.5,240.7 L1435.0,241.3 L1435.5,241.8 L1436.0,240.0 L1436.5,243.3 L1437.0,241.1 L1437.5,242.7 L1438.0,242.0 L1438.6,243.5 L1439.1,244.5 L1439.7,244.1 L1440.2,243.1 L1440.8,244.0 L1441.4,244.1 L1442.0,244.1 L1442.6,245.3 L1443.2,243.8 L1443.8,245.3 L1444.4,244.0 L1445.0,245.7 L1445.6,245.9 L1446.2,245.6 L1446.9,246.6 L1447.5,247.0 L1448.1,245.8 L1448.6,246.2 L1449.2,244.8 L1449.8,245.3 L1450.4,247.3 L1451.0,244.5 L1451.5,247.8 L1452.1,247.2 L1452.7,246.0 L1453.3,246.8 L1454.0,246.1 L1454.6,248.0 L1455.2,246.3 L1455.8,248.2 L1456.4,247.0 L1457.0,246.1 L1457.6,248.1 L1458.2,247.9 L1458.8,247.9 L1459.4,248.5 L1460.0,247.1 L1460.6,246.2 L1461.2,247.6 L1461.8,248.1 L1462.4,248.2 L1463.0,247.3 L1463.6,248.6 L1464.2,247.1 L1464.8,248.5 L1465.4,249.0 L1465.9,248.8 L1466.5,249.2 L1467.1,247.3 L1467.7,248.6 L1468.3,248.7 L1468.9,248.7 L1469.5,248.7 L1470.1,249.3 L1470.7,249.9 L1471.3,250.1 L1471.9,249.3 L1472.5,249.2 L1473.1,249.8 L1473.7,248.1 L1474.4,250.3 L1475.0,249.1 L1475.6,250.4 L1476.2,250.1 L1476.9,250.1 L1477.5,251.0 L1478.1,250.8 L1478.7,250.4 L1479.4,249.0 L1480.0,249.0 L1480.6,249.4 L1481.2,249.6 L1481.9,249.3 L1482.5,249.1 L1483.1,251.1 L1483.7,248.3 L1484.4,251.8 L1485.0,250.0 L1485.6,250.0 L1486.3,248.3 L1486.9,250.3 L1487.6,250.5 L1488.2,251.0 L1488.9,248.4 L1489.5,249.5 L1490.2,251.7 L1490.9,250.4 L1491.5,251.5 L1492.2,251.0 L1492.8,251.5 L1493.4,249.9 L1494.1,251.1 L1494.7,250.5 L1495.3,248.7 L1495.9,250.8 L1496.4,249.9 L1497.0,250.8 L1497.5,250.6 L1498.2,249.2 L1498.9,252.0 L1499.5,250.7 L1500.2,251.2 L1500.8,249.3 L1501.4,251.3 L1502.0,251.5 L1502.6,251.8 L1503.2,250.2 L1503.8,252.4 L1504.4,249.8 L1505.1,251.4 L1505.7,251.1 L1506.3,250.9 L1507.0,249.0 L1507.6,250.1 L1508.2,247.6 L1508.8,250.0 L1509.4,249.5 L1509.8,250.2 L1510.3,250.1 L1510.7,248.6 L1511.2,251.8 L1511.6,251.2 L1512.0,252.5 L1512.4,250.2 L1512.8,253.6 L1513.2,252.8 L1513.6,253.0 L1514.0,255.0 L1514.3,255.4 L1514.7,257.5 L1515.0,258.1 L1515.3,256.6 L1515.5,257.8 L1515.8,258.3 L1516.0,258.4 L1516.2,258.0 L1516.4,258.8 L1516.6,258.8 L1516.8,259.9 L1517.0,261.6 L1517.2,262.9 L1517.4,260.6 L1517.5,261.7 L1517.7,263.1 L1517.9,264.6 L1518.4,266.2 L1518.8,267.5 L1519.2,269.1 L1519.6,270.9 L1520.0,272.6 L1520.4,274.5 L1520.7,276.3 L1521.1,278.2 L1521.5,280.1 L1521.9,281.9 L1522.2,283.8 L1522.6,285.6 L1523.0,287.4 L1523.4,289.2 L1523.8,291.1 L1524.2,292.9 L1524.6,294.7 L1524.9,296.5 L1525.3,298.3 L1525.7,300.1 L1526.1,301.9 L1526.5,303.7 L1526.9,305.6 L1527.3,307.5 L1527.8,309.4 L1528.2,311.2 L1528.6,313.1 L1529.0,314.8 L1529.4,316.6 L1529.9,318.2 L1530.3,320.1 L1530.6,321.6 L1530.9,323.0 L1531.2,324.5 L1531.5,325.8 L1532.1,327.4 L1532.8,328.5 L1534.2,328.8 L1535.5,328.4 L1536.9,327.7 L1538.2,327.4 L1539.5,327.2 L1540.8,326.9 L1542.1,325.9 L1542.7,324.6 L1542.9,322.8 L1543.0,321.5 L1543.1,320.1 L1543.2,318.7 L1543.3,317.4 L1543.6,315.5 L1544.2,313.7 L1544.7,312.3 L1545.2,311.0 L1545.8,309.7 L1546.8,308.2 L1548.1,307.1 L1549.4,306.7 L1551.2,306.9 L1552.2,307.8 L1553.0,309.4 L1553.4,310.6 L1553.9,312.0 L1554.3,313.5 L1554.6,314.9 L1555.0,316.2 L1555.4,317.9 L1555.6,319.6 L1555.8,321.3 L1556.0,323.1 L1556.2,325.0 L1556.4,326.8 L1556.7,328.7 L1557.0,330.5 L1557.4,332.2 L1557.8,333.9 L1558.3,335.7 L1558.8,337.4 L1559.3,339.2 L1559.9,341.0 L1560.4,342.8 L1560.9,344.6 L1561.3,346.4 L1561.8,348.2 L1562.2,350.0 L1562.5,351.8 L1562.8,353.6 L1563.2,355.4 L1563.5,357.2 L1563.7,359.0 L1564.0,360.8 L1564.3,362.7 L1564.6,364.5 L1564.8,366.3 L1565.1,368.1 L1565.4,369.9 L1565.6,371.7 L1565.9,373.5 L1566.1,375.4 L1566.3,377.2 L1566.6,379.0 L1566.8,380.8 L1567.0,382.6 L1567.3,384.4 L1567.5,386.2 L1567.7,388.1 L1568.0,389.8 L1568.2,391.6 L1568.5,393.4 L1568.7,395.2 L1569.0,396.9 L1569.2,398.7 L1569.5,400.6 L1569.7,402.4 L1569.9,404.4 L1570.1,406.1 L1570.3,407.9 L1570.5,409.7 L1570.7,411.5 L1570.9,413.4 L1571.1,415.3 L1571.3,417.2 L1571.4,419.1 L1571.6,421.0 L1571.8,422.8 L1572.0,424.7 L1572.2,426.5 L1572.3,428.3 L1572.5,430.0 L1572.7,431.9 L1572.9,433.8 L1573.1,435.6 L1573.2,437.5 L1573.4,439.2 L1573.6,441.0 L1573.8,442.8 L1573.9,444.6 L1574.1,446.4 L1574.3,448.1 L1574.5,450.0 L1574.8,451.8 L1575.0,453.6 L1575.3,455.4 L1575.5,457.2 L1575.8,459.0 L1576.0,460.8 L1576.3,462.7 L1576.5,464.5 L1576.8,466.3 L1577.0,468.1 L1577.2,469.9 L1577.3,471.7 L1577.5,473.5 L1577.7,475.4 L1577.9,477.2 L1578.0,479.0 L1578.2,480.8 L1578.4,482.6 L1578.5,484.4 L1578.8,486.2 L1579.0,488.1 L1579.2,489.9 L1579.4,491.7 L1579.7,493.5 L1580.0,495.3 L1580.2,497.1 L1580.5,499.0 L1580.7,500.8 L1581.0,502.6 L1581.2,504.4 L1581.4,506.2 L1581.6,508.0 L1581.8,509.9 L1582.0,511.7 L1582.1,513.5 L1582.3,515.4 L1582.5,517.2 L1582.7,519.0 L1582.8,520.8 L1583.0,522.6 L1583.2,524.4 L1583.3,526.2 L1583.5,528.0 L1583.6,529.7 L1583.7,531.4 L1583.9,533.2 L1584.0,535.0 L1584.2,536.8 L1584.4,538.7 L1584.5,540.0 L1584.7,541.7 L1584.9,543.4 L1585.1,545.1 L1585.3,546.9 L1585.5,548.8 L1585.7,550.6 L1585.9,552.5 L1586.2,554.4 L1586.4,556.3 L1586.7,558.2 L1586.9,560.0 L1587.1,561.9 L1587.3,563.8 L1587.6,565.6 L1587.8,567.4 L1588.0,569.3 L1588.2,571.1 L1588.5,572.9 L1588.7,574.8 L1588.9,576.6 L1589.2,578.4 L1589.4,580.2 L1589.6,582.1 L1589.8,583.9 L1590.1,585.7 L1590.3,587.6 L1590.5,589.4 L1590.8,591.2 L1591.0,593.1 L1591.2,595.0 L1591.4,596.9 L1591.6,598.8 L1591.9,600.7 L1592.1,602.6 L1592.3,604.5 L1592.5,606.3 L1592.8,608.2 L1593.0,609.9 L1593.2,611.7 L1593.5,613.4 L1593.8,615.0 L1594.0,616.4 L1594.2,617.7 L1594.4,619.1 L1594.6,620.5 L1594.9,621.9 L1595.1,623.2 L1595.4,625.0 L1595.8,626.8 L1596.3,628.3 L1596.7,629.6 L1597.7,631.5 L1598.5,632.6 L1599.8,633.0 L1601.2,631.9 L1602.1,630.7 L1602.9,629.2 L1603.3,627.7 L1603.7,626.1 L1604.1,624.2 L1604.2,622.9 L1604.4,621.6 L1604.6,620.2 L1604.8,618.9 L1605.0,617.5 L1605.2,615.9 L1605.5,614.2 L1605.7,612.4 L1605.9,610.6 L1606.1,608.7 L1606.3,606.8 L1606.5,604.9 L1606.7,603.0 L1606.9,601.1 L1607.1,599.3 L1607.4,597.4 L1607.6,595.6 L1607.8,593.8 L1608.1,591.9 L1608.3,590.1 L1608.6,588.3 L1608.8,586.5 L1609.1,584.7 L1609.3,582.9 L1609.6,581.1 L1609.8,579.3 L1610.0,577.5 L1610.2,575.7 L1610.4,573.8 L1610.6,572.0 L1610.8,570.1 L1610.9,568.3 L1611.1,566.5 L1611.3,564.6 L1611.5,562.8 L1611.6,561.1 L1611.8,559.3 L1612.1,557.5 L1612.3,555.6 L1612.6,553.9 L1612.8,552.1 L1613.1,550.4 L1613.3,548.6 L1613.6,546.7 L1613.7,545.4 L1613.9,544.0 L1614.1,542.4 L1614.2,540.7 L1614.4,539.0 L1614.5,537.2 L1614.7,535.4 L1614.9,533.5 L1615.0,531.6 L1615.2,529.7 L1615.3,527.8 L1615.5,525.9 L1615.6,524.0 L1615.8,522.1 L1616.0,520.3 L1616.1,518.6 L1616.3,516.8 L1616.6,514.9 L1616.8,513.0 L1617.0,511.2 L1617.3,509.4 L1617.6,507.6 L1617.8,505.9 L1618.1,504.1 L1618.3,502.3 L1618.5,500.6 L1618.8,498.8 L1618.9,496.9 L1619.1,495.1 L1619.3,493.2 L1619.4,491.3 L1619.6,489.4 L1619.7,487.6 L1619.9,485.8 L1620.0,484.0 L1620.3,482.2 L1620.5,480.5 L1620.8,478.7 L1621.3,476.9 L1621.8,475.2 L1622.3,473.6 L1622.8,471.9 L1623.2,470.1 L1623.6,468.2 L1623.9,466.5 L1624.1,464.8 L1624.2,463.1 L1624.3,461.2 L1624.4,459.4 L1624.5,457.4 L1624.6,456.1 L1624.6,454.8 L1624.7,453.5 L1624.7,452.2 L1624.8,450.9 L1624.9,449.0 L1625.0,447.1 L1625.2,445.3 L1625.4,443.6 L1625.7,441.8 L1626.0,440.6 L1626.4,438.7 L1626.9,436.9 L1627.4,435.1 L1628.0,433.4 L1628.6,431.7 L1629.1,430.1 L1629.6,428.5 L1630.2,426.9 L1630.7,425.6 L1631.4,423.9 L1632.1,422.2 L1632.8,420.5 L1633.4,418.8 L1633.8,417.5 L1634.1,415.8 L1634.3,414.0 L1634.4,412.1 L1634.6,410.2 L1634.7,408.2 L1634.8,406.4 L1635.1,404.6 L1635.4,403.0 L1636.1,401.3 L1637.0,399.6 L1638.0,398.1 L1639.0,396.6 L1640.0,395.0 L1640.9,393.4 L1641.8,391.7 L1642.8,390.0 L1643.7,388.3 L1644.7,386.7 L1645.8,385.2 L1647.0,383.9 L1648.2,382.6 L1649.4,381.1 L1650.2,379.5 L1650.7,377.8 L1651.0,376.0 L1651.2,374.7 L1651.3,373.3 L1651.5,372.0 L1651.8,370.2 L1652.1,368.5 L1652.8,366.9 L1653.5,365.7 L1654.6,364.2 L1655.8,362.9 L1657.3,361.5 L1658.4,360.6 L1660.0,360.0 L1661.7,360.6 L1662.8,361.4 L1663.8,362.5 L1664.6,363.8 L1665.2,365.4 L1665.8,367.3 L1666.2,368.6 L1666.5,369.9 L1666.9,371.2 L1667.3,372.9 L1667.7,374.6 L1668.1,376.4 L1668.4,378.2 L1668.8,380.1 L1669.2,382.0 L1669.5,383.8 L1669.9,385.7 L1670.3,387.5 L1670.7,389.3 L1671.1,391.1 L1671.5,392.8 L1671.9,394.6 L1672.3,396.4 L1672.7,398.2 L1673.1,400.0 L1673.5,401.8 L1673.8,403.6 L1674.2,405.5 L1674.6,407.3 L1674.9,409.2 L1675.3,411.0 L1675.7,412.8 L1676.1,414.5 L1676.6,416.3 L1677.2,418.0 L1677.7,419.7 L1678.3,421.4 L1678.9,423.1 L1679.4,425.0 L1679.8,426.7 L1680.2,428.4 L1680.6,430.2 L1680.9,432.0 L1681.3,433.8 L1681.7,435.7 L1682.0,437.6 L1682.4,439.4 L1682.7,441.2 L1683.1,443.0 L1683.5,444.8 L1683.9,446.6 L1684.3,448.4 L1684.7,450.2 L1685.0,452.0 L1685.4,453.8 L1685.7,455.6 L1686.0,457.4 L1686.3,459.2 L1686.5,461.0 L1686.8,462.8 L1687.1,464.6 L1687.3,466.5 L1687.6,468.3 L1687.9,470.1 L1688.2,471.9 L1688.6,473.7 L1688.9,475.5 L1689.3,477.3 L1689.7,479.1 L1690.1,480.8 L1690.5,482.6 L1690.9,484.4 L1691.2,486.2 L1691.6,488.0 L1692.0,489.8 L1692.3,491.6 L1692.7,493.5 L1693.0,495.3 L1693.3,497.1 L1693.7,498.9 L1694.0,500.7 L1694.4,502.5 L1694.8,504.4 L1695.1,506.2 L1695.5,508.1 L1695.8,510.0 L1696.2,511.8 L1696.6,513.6 L1696.9,515.3 L1697.4,517.0 L1697.9,518.8 L1698.3,520.2 L1698.6,521.5 L1699.0,522.7 L1699.7,524.4 L1700.4,525.8 L1701.1,527.0 L1702.0,528.2 L1703.6,528.7 L1705.2,527.5 L1706.2,526.2 L1707.0,524.9 L1707.7,523.1 L1708.1,521.8 L1708.4,520.5 L1708.8,519.2 L1709.4,517.5 L1709.8,516.2 L1710.2,514.9 L1710.6,513.6 L1711.3,511.9 L1712.4,511.0 L1713.7,510.7 L1715.1,510.8 L1716.6,511.6 L1717.4,513.3 L1717.9,514.7 L1718.8,516.2 L1719.9,517.1 L1721.2,517.5 L1722.9,517.1 L1724.4,515.9 L1725.4,514.9 L1726.2,513.8 L1727.0,512.3 L1727.5,510.6 L1727.9,508.7 L1728.3,506.8 L1728.8,505.0 L1729.2,503.2 L1729.7,501.4 L1730.2,499.6 L1730.7,497.9 L1731.2,496.2 L1731.8,495.0 L1732.3,493.7 L1732.8,492.5 L1733.7,490.9 L1734.9,489.5 L1735.9,488.6 L1737.5,488.1 L1738.9,488.9 L1739.8,490.0 L1740.6,491.2 L1741.2,492.6 L1741.6,494.2 L1742.0,496.0 L1742.3,497.9 L1742.5,499.2 L1742.8,500.5 L1743.0,501.9 L1743.3,503.6 L1743.6,505.3 L1743.9,507.1 L1744.2,508.9 L1744.5,510.7 L1744.8,512.5 L1745.1,514.4 L1745.4,516.2 L1745.7,518.1 L1745.9,519.8 L1746.2,521.6 L1746.4,523.4 L1746.7,525.3 L1746.9,527.1 L1747.2,529.0 L1747.4,530.8 L1747.7,532.7 L1747.9,534.5 L1748.1,536.2 L1748.3,538.1 L1748.6,539.9 L1748.8,541.6 L1749.0,543.3 L1749.2,545.1 L1749.4,546.9 L1749.6,548.7 L1749.8,550.5 L1749.9,551.8 L1750.1,553.6 L1750.2,555.6 L1750.3,557.0 L1750.4,558.5 L1750.5,560.1 L1750.6,561.7 L1750.7,563.3 L1750.8,564.9 L1750.9,566.5 L1750.9,568.1 L1751.0,569.6 L1751.1,571.0 L1751.2,572.4 L1751.3,574.3 L1751.5,575.8 L1751.6,577.3 L1752.4,575.7 L1752.6,573.9 L1752.8,572.6 L1752.9,571.1 L1753.1,569.5 L1753.2,567.9 L1753.4,566.3 L1753.5,564.8 L1753.7,563.2 L1753.8,561.8 L1754.0,560.0 L1754.2,558.7 L1754.4,556.8 L1754.6,555.1 L1754.8,553.3 L1755.1,551.5 L1755.3,549.7 L1755.4,548.4 L1755.6,547.0 L1755.8,545.4 L1756.0,543.7 L1756.2,542.0 L1756.4,540.2 L1756.6,538.3 L1756.8,536.5 L1757.0,534.6 L1757.2,532.7 L1757.4,530.7 L1757.6,528.8 L1757.8,526.9 L1758.0,525.0 L1758.2,523.1 L1758.3,521.3 L1758.5,519.5 L1758.7,517.6 L1758.9,515.8 L1759.0,513.9 L1759.2,512.0 L1759.4,510.1 L1759.5,508.3 L1759.7,506.4 L1759.9,504.6 L1760.1,502.8 L1760.3,501.0 L1760.5,499.3 L1760.8,497.4 L1760.9,496.1 L1761.1,494.9 L1761.3,493.6 L1761.6,491.6 L1761.8,489.7 L1762.1,487.9 L1762.4,486.1 L1762.8,484.3 L1763.1,482.6 L1763.5,481.0 L1763.9,479.3 L1764.3,478.0 L1764.7,476.6 L1765.1,475.3 L1765.7,473.5 L1766.4,471.9 L1767.2,470.4 L1768.4,468.9 L1769.4,467.8 L1770.4,467.0 L1771.9,466.5 L1773.2,467.2 L1774.1,468.2 L1775.0,469.4 L1775.8,470.7 L1776.5,472.0 L1777.2,473.5 L1777.8,475.1 L1778.3,476.9 L1778.8,478.8 L1779.2,480.7 L1779.7,482.5 L1780.2,484.3 L1780.6,486.1 L1781.1,488.0 L1781.6,489.8 L1782.0,491.6 L1782.5,493.4 L1783.0,495.1 L1783.6,496.9 L1784.2,498.7 L1784.9,500.5 L1785.6,502.2 L1786.4,503.8 L1787.2,505.2 L1788.4,506.7 L1789.3,507.7 L1790.3,508.6 L1791.7,509.3 L1793.1,509.2 L1794.6,508.2 L1795.5,507.2 L1796.4,506.1 L1797.2,505.0 L1797.9,503.6 L1798.5,502.1 L1799.0,500.4 L1799.5,498.5 L1799.7,497.2 L1800.0,495.9 L1800.2,494.5 L1800.5,493.2 L1800.8,491.4 L1801.1,489.8 L1801.3,488.1 L1801.5,486.3 L1801.8,484.5 L1801.9,482.6 L1802.1,480.7 L1802.3,478.8 L1802.5,476.9 L1802.7,475.0 L1802.9,473.1 L1803.0,471.2 L1803.2,469.4 L1803.4,467.5 L1803.6,465.6 L1803.7,463.7 L1803.9,461.7 L1804.1,459.8 L1804.2,457.9 L1804.4,456.0 L1804.6,454.2 L1804.7,452.4 L1804.9,450.7 L1805.1,449.0 L1805.3,447.3 L1805.5,446.0 L1805.7,444.1 L1806.0,442.3 L1806.2,440.6 L1806.5,438.8 L1806.8,436.9 L1807.0,435.2 L1807.3,433.5 L1807.5,431.7 L1807.8,429.9 L1808.0,428.0 L1808.2,426.2 L1808.5,424.3 L1808.7,422.4 L1809.0,420.5 L1809.2,418.7 L1809.5,416.9 L1809.7,415.0 L1810.0,413.2 L1810.3,411.4 L1810.5,409.6 L1810.8,407.8 L1811.0,406.0 L1811.3,404.2 L1811.5,402.4 L1811.8,400.6 L1812.1,398.8 L1812.4,396.9 L1812.6,395.0 L1812.9,393.2 L1813.2,391.3 L1813.4,389.5 L1813.7,387.7 L1814.0,386.0 L1814.3,384.3 L1814.6,382.4 L1814.9,381.2 L1815.1,379.9 L1815.4,378.0 L1815.7,376.2 L1816.2,374.5 L1816.7,373.0 L1817.5,371.2 L1818.3,369.8 L1819.1,368.6 L1820.2,367.6 L1821.6,368.1 L1822.6,369.6 L1823.3,370.9 L1823.9,372.4 L1824.4,373.8 L1824.8,375.2 L1825.1,376.8 L1825.4,378.5 L1825.5,380.4 L1825.7,382.3 L1825.8,383.6 L1825.8,384.9 L1825.9,386.2 L1826.1,388.1 L1826.2,390.0 L1826.4,391.8 L1826.6,393.6 L1826.8,395.3 L1827.0,397.1 L1827.2,398.9 L1827.4,400.7 L1827.6,402.6 L1827.8,404.4 L1828.0,406.3 L1828.2,408.1 L1828.3,409.9 L1828.5,411.7 L1828.7,413.6 L1828.9,415.4 L1829.1,417.3 L1829.2,419.1 L1829.4,421.0 L1829.6,422.8 L1829.7,424.6 L1829.9,426.4 L1830.1,428.1 L1830.2,430.0 L1830.4,431.8 L1830.5,433.6 L1830.6,435.3 L1830.8,437.1 L1830.9,438.8 L1831.1,440.6 L1831.2,442.5 L1831.4,444.2 L1831.6,446.0 L1831.8,447.8 L1832.0,449.6 L1832.1,451.4 L1832.3,453.3 L1832.5,455.1 L1832.7,457.0 L1832.9,458.8 L1833.0,460.6 L1833.2,462.5 L1833.3,464.3 L1833.5,466.1 L1833.6,467.9 L1833.7,469.7 L1833.8,471.5 L1833.9,473.3 L1834.0,475.2 L1834.2,477.0 L1834.3,478.8 L1834.5,480.6 L1834.6,482.4 L1834.8,484.3 L1835.0,486.1 L1835.1,487.9 L1835.3,489.8 L1835.5,491.6 L1835.7,493.4 L1835.9,495.2 L1836.1,497.0 L1836.2,498.8 L1836.4,500.6 L1836.7,502.5 L1836.9,504.3 L1837.1,506.1 L1837.3,507.9 L1837.5,509.7 L1837.7,511.5 L1837.9,513.2 L1838.1,515.0 L1838.3,516.8 L1838.5,518.7 L1838.8,520.6 L1839.0,522.4 L1839.2,524.2 L1839.4,526.0 L1839.7,527.8 L1839.9,529.5 L1840.2,531.4 L1840.3,532.8 L1840.5,534.2 L1840.6,535.6 L1840.8,536.9 L1841.2,538.7 L1841.7,540.1 L1843.1,541.3 L1844.4,541.7 L1845.7,542.1 L1847.0,543.3 L1848.0,544.6 L1848.9,546.2 L1849.5,547.4 L1850.0,548.8 L1850.4,550.2 L1850.8,551.8 L1851.1,553.5 L1851.4,555.4 L1851.6,557.3 L1851.7,558.6 L1851.9,559.9 L1852.0,561.2 L1852.2,562.5 L1852.4,564.4 L1852.7,566.2 L1852.9,568.0 L1853.2,569.7 L1853.5,571.5 L1853.7,573.3 L1854.0,575.1 L1854.2,577.0 L1854.5,578.8 L1854.7,580.6 L1855.0,582.5 L1855.2,584.3 L1855.5,586.1 L1855.7,587.9 L1855.9,589.7 L1856.2,591.6 L1856.4,593.4 L1856.6,595.3 L1856.9,597.1 L1857.1,598.9 L1857.3,600.7 L1857.5,602.5 L1857.7,604.3 L1857.9,606.2 L1858.1,607.9 L1858.3,609.7 L1858.5,611.5 L1858.7,613.3 L1858.9,615.0 L1859.1,616.9 L1859.3,618.7 L1859.5,620.6 L1859.6,622.3 L1859.8,624.1 L1859.9,625.8 L1860.1,627.6 L1860.2,629.5 L1860.4,631.3 L1860.5,633.2 L1860.7,635.0 L1860.8,636.9 L1861.0,638.8 L1861.1,640.6 L1861.2,642.5 L1861.4,644.3 L1861.5,646.1 L1861.7,648.0 L1861.8,649.8 L1861.9,651.7 L1862.0,653.6 L1862.2,655.5 L1862.3,657.3 L1862.4,659.2 L1862.6,661.0 L1862.7,662.8 L1862.9,664.6 L1863.0,666.4 L1863.2,668.1 L1863.3,670.1 L1863.5,671.9 L1863.7,673.7 L1863.9,675.6 L1864.1,677.3 L1864.3,679.1 L1864.5,680.9 L1864.7,682.7 L1864.9,684.4 L1865.0,686.2 L1865.1,688.1 L1865.2,689.9 L1865.3,691.7 L1865.3,693.5 L1865.3,695.3 L1865.4,697.1 L1865.4,699.0 L1865.5,700.8 L1865.6,702.6 L1865.7,704.4 L1865.8,706.2 L1865.9,708.0 L1866.1,709.8 L1866.3,711.6 L1866.5,713.4 L1866.7,715.1 L1866.9,716.9 L1867.1,718.8 L1867.2,720.6 L1867.4,722.5 L1867.6,724.3 L1867.7,726.1 L1867.9,727.8 L1868.0,729.6 L1868.2,731.4 L1868.3,733.2 L1868.4,735.0 L1868.6,736.9 L1868.7,738.7 L1868.9,740.6 L1869.0,742.5 L1869.2,744.4 L1869.3,746.3 L1869.5,748.1 L1869.7,749.8 L1869.8,751.5 L1870.0,753.2 L1870.2,755.0 L1870.4,756.7 L1870.5,758.5 L1870.7,760.3 L1870.9,762.1 L1871.1,763.9 L1871.3,765.7 L1871.5,767.6 L1871.7,769.4 L1871.9,771.3 L1872.1,773.1 L1872.3,775.0 L1872.5,776.9 L1872.7,778.7 L1872.8,780.4 L1873.0,782.1 L1873.2,783.9 L1873.4,785.7 L1873.6,787.5 L1873.8,789.3 L1874.0,791.1 L1874.2,792.9 L1874.4,794.8 L1874.5,796.6 L1874.7,798.5 L1874.9,800.3 L1875.1,802.1 L1875.3,804.0 L1875.5,805.8 L1875.6,807.7 L1875.8,809.5 L1876.0,811.4 L1876.1,813.2 L1876.3,815.0 L1876.4,816.8 L1876.6,818.6 L1876.7,820.4 L1876.9,822.3 L1877.0,824.1 L1877.1,825.9 L1877.2,827.7 L1877.3,829.5 L1877.4,831.3 L1877.6,833.1 L1877.7,835.0 L1877.8,836.8 L1877.9,838.6 L1878.0,840.4 L1878.1,842.2 L1878.2,844.0 L1878.3,845.8 L1878.5,847.7 L1878.6,849.5 L1878.7,851.3 L1878.8,853.1 L1879.0,854.9 L1879.1,856.7 L1879.3,858.5 L1879.4,860.4 L1879.6,862.2 L1879.7,864.0 L1879.9,865.8 L1880.0,867.6 L1880.2,869.4 L1880.3,871.3 L1880.5,873.1 L1880.6,874.9 L1880.8,876.7 L1880.9,878.5 L1881.1,880.3 L1881.2,882.1 L1881.4,884.0 L1881.5,885.8 L1881.7,887.6 L1881.8,889.4 L1882.0,891.2 L1882.2,893.0 L1882.3,894.9 L1882.5,896.7 L1882.6,898.6 L1882.8,900.4 L1883.0,902.3 L1883.1,904.1 L1883.3,906.0 L1883.4,907.8 L1883.6,909.6 L1883.8,911.5 L1883.9,913.3 L1884.1,915.1 L1884.2,916.9 L1884.4,918.7 L1884.5,920.5 L1884.7,922.3 L1884.8,924.0 L1884.9,925.8 L1885.0,927.5 L1885.2,929.4 L1885.3,931.3 L1885.4,933.3 L1885.5,935.2 L1885.6,937.1 L1885.7,939.1 L1885.7,941.0 L1885.8,942.8 L1885.9,944.7 L1886.0,946.5 L1886.1,948.3 L1886.2,950.0 L1886.3,951.7 L1886.5,953.4 L1886.6,955.0 L1886.8,956.5 L1887.1,958.4 L1887.5,960.2 L1887.9,961.9 L1888.3,963.6 L1888.7,965.2 L1889.1,966.8 L1889.5,968.6 L1889.9,970.6 L1890.1,972.2 L1890.4,973.8 L1890.6,975.4 L1890.8,977.1 L1891.0,978.8 L1891.1,980.6 L1891.3,982.4 L1891.5,984.2 L1891.7,986.1 L1891.8,988.0 L1892.0,989.9 L1892.1,991.8 L1892.3,993.8 L1892.5,995.7 L1892.6,997.6 L1892.8,999.4 L1893.0,1001.3 L1893.2,1003.1 L1893.3,1004.9 L1893.5,1006.7 L1893.7,1008.6 L1893.9,1010.4 L1894.1,1012.2 L1894.2,1014.1 L1894.4,1015.9 L1894.6,1017.7 L1894.8,1019.6 L1894.9,1021.4 L1895.1,1023.2 L1895.3,1025.0 L1895.5,1026.8 L1895.7,1028.5 L1895.9,1030.3 L1896.1,1032.0 L1896.2,1033.8 L1896.5,1035.7 L1896.7,1037.6 L1896.9,1039.5 L1897.1,1041.5 L1897.4,1043.4 L1897.6,1045.3 L1897.8,1047.1 L1898.1,1049.0 L1898.3,1050.8 L1898.5,1052.6 L1898.8,1054.3 L1899.0,1056.0 L1899.2,1057.7 L1899.5,1059.4 L1899.7,1060.8 L1899.9,1062.1 L1900.0,1063.4 L1900.3,1065.3 L1900.5,1067.1 L1900.8,1068.9 L1901.1,1070.6 L1901.5,1072.2 L1901.9,1073.8 L1902.4,1075.1 L1902.9,1076.3 L1903.5,1077.5 L1904.4,1079.2 L1905.3,1080.7 L1905.9,1081.9 L1906.6,1083.2 L1907.3,1084.4 L1908.4,1085.9 L1910.0,1086.9 L1911.6,1086.7 L1912.4,1085.4 L1912.9,1084.1 L1913.3,1082.7 L1913.8,1081.2 L1914.1,1079.8 L1914.4,1078.2 L1914.6,1076.5 L1914.8,1074.7 L1915.0,1072.8 L1915.1,1071.5 L1915.2,1070.2 L1915.3,1068.9 L1915.4,1067.6 L1915.5,1065.6 L1915.7,1063.8 L1915.9,1062.1 L1916.0,1060.3 L1916.1,1058.6 L1916.2,1056.8 L1916.4,1055.0 L1916.5,1053.2 L1916.6,1051.3 L1916.7,1049.4 L1916.8,1047.5 L1916.9,1045.7 L1917.0,1044.0 L1917.1,1042.2 L1917.2,1040.4 L1917.3,1038.6 L1917.4,1036.8 L1917.4,1034.9 L1917.5,1033.0 L1917.6,1031.2 L1917.7,1029.3 L1917.8,1027.4 L1917.9,1025.6 L1918.0,1023.7 L1918.1,1021.9 L1918.2,1020.0 L1918.3,1018.2 L1918.4,1016.4 L1918.6,1014.5 L1918.7,1012.7 L1918.8,1010.9 L1919.0,1009.1 L1919.1,1007.2 L1919.3,1005.4 L1919.4,1003.6 L1919.6,1001.7 L1919.7,999.9 L1919.9,998.1 L1920.0,996.2 L1920.1,994.4 L1920.3,992.5 L1920.4,990.7 L1920.5,988.8 L1920.7,986.9 L1920.8,985.0 L1921.0,983.1 L1921.1,981.2 L1921.2,979.4 L1921.4,977.6 L1921.5,975.8 L1921.7,974.0 L1921.8,972.4 L1922.0,970.6 L1922.1,968.7 L1922.3,967.0 L1922.5,965.3 L1922.7,963.6 L1922.9,962.0 L1923.1,960.2 L1923.3,958.4 L1923.4,957.1 L1923.5,955.7 L1923.7,954.0 L1923.8,952.5 L1923.9,951.0 L1924.0,949.3 L1924.1,947.6 L1924.3,945.8 L1924.4,944.0 L1924.5,942.2 L1924.6,940.3 L1924.7,938.4 L1924.8,936.4 L1924.9,935.1 L1925.0,933.8 L1925.1,932.5 L1925.1,931.2 L1925.2,929.9 L1925.3,928.6 L1925.4,927.3 L1925.5,925.4 L1925.6,923.5 L1925.8,921.6 L1925.9,919.7 L1926.0,917.9 L1926.2,916.1 L1926.3,914.4 L1926.5,912.5 L1926.6,910.6 L1926.8,908.7 L1927.0,906.9 L1927.2,905.1 L1927.4,903.3 L1927.6,901.5 L1927.8,899.7 L1927.9,898.0 L1928.1,896.2 L1928.3,894.4 L1928.5,892.7 L1928.7,890.9 L1928.9,889.1 L1929.1,887.3 L1929.2,885.5 L1929.4,883.8 L1929.6,881.9 L1929.7,880.1 L1929.9,878.3 L1930.0,876.5 L1930.2,874.7 L1930.3,872.9 L1930.5,871.1 L1930.6,869.3 L1930.7,867.5 L1930.9,865.7 L1931.0,863.9 L1931.2,862.1 L1931.3,860.3 L1931.4,858.5 L1931.6,856.7 L1931.7,854.9 L1931.9,853.1 L1932.0,851.3 L1932.1,849.5 L1932.3,847.7 L1932.4,845.8 L1932.5,844.0 L1932.7,842.2 L1932.8,840.3 L1933.0,838.5 L1933.1,836.7 L1933.2,834.8 L1933.4,833.0 L1933.5,831.2 L1933.7,829.4 L1933.8,827.6 L1934.0,825.9 L1934.1,824.1 L1934.3,822.4 L1934.5,820.6 L1934.7,818.7 L1934.9,816.8 L1935.1,815.0 L1935.3,813.1 L1935.6,811.3 L1935.8,809.5 L1936.0,807.7 L1936.3,805.9 L1936.5,804.1 L1936.7,802.3 L1937.0,800.5 L1937.2,798.7 L1937.4,796.9 L1937.7,795.0 L1937.9,793.2 L1938.1,791.3 L1938.3,789.4 L1938.5,787.6 L1938.8,785.7 L1939.0,783.8 L1939.2,782.0 L1939.4,780.1 L1939.7,778.3 L1939.9,776.5 L1940.1,774.7 L1940.4,773.0 L1940.6,771.2 L1940.9,769.4 L1941.2,767.5 L1941.5,765.8 L1941.8,764.1 L1942.1,762.4 L1942.4,760.6 L1942.7,758.9 L1943.0,757.1 L1943.3,755.2 L1943.5,753.9 L1943.8,752.5 L1944.0,750.9 L1944.2,749.3 L1944.4,747.6 L1944.7,745.9 L1944.9,744.1 L1945.2,742.3 L1945.4,740.4 L1945.7,738.5 L1945.9,736.6 L1946.1,734.7 L1946.4,732.8 L1946.6,730.8 L1946.8,728.9 L1947.1,727.0 L1947.3,725.2 L1947.5,723.3 L1947.7,721.5 L1947.9,719.8 L1948.0,718.1 L1948.2,716.2 L1948.4,714.3 L1948.6,712.4 L1948.7,710.5 L1948.9,708.7 L1949.0,706.8 L1949.1,705.0 L1949.3,703.3 L1949.4,701.5 L1949.5,699.7 L1949.6,697.9 L1949.7,696.1 L1949.9,694.3 L1950.0,692.5 L1950.1,690.7 L1950.3,688.8 L1950.4,686.9 L1950.5,685.1 L1950.7,683.2 L1950.8,681.3 L1951.0,679.5 L1951.1,677.6 L1951.2,675.8 L1951.4,673.9 L1951.5,672.1 L1951.7,670.4 L1951.8,668.6 L1952.0,666.9 L1952.1,664.9 L1952.3,663.0 L1952.4,661.1 L1952.6,659.2 L1952.7,657.4 L1952.9,655.6 L1953.1,653.8 L1953.3,652.1 L1953.5,650.4 L1953.8,648.8 L1954.0,647.4 L1954.2,646.1 L1954.7,644.3 L1955.1,642.4 L1955.6,640.6 L1956.1,638.9 L1956.6,637.3 L1957.1,635.6 L1957.6,634.4 L1958.3,632.7 L1959.0,631.0 L1959.7,629.3 L1960.5,627.6 L1961.0,626.4 L1961.4,625.1 L1961.9,623.8 L1962.4,622.6 L1963.2,621.0 L1964.1,619.4 L1964.9,618.1 L1965.7,617.0 L1966.9,616.2 L1968.1,617.0 L1968.9,618.1 L1969.7,619.4 L1970.4,620.9 L1971.0,622.6 L1971.5,624.4 L1971.9,625.6 L1972.2,626.9 L1972.5,628.2 L1973.1,630.0 L1973.5,631.3 L1974.0,632.8 L1974.4,634.3 L1974.9,635.8 L1975.4,637.2 L1976.1,638.7 L1977.7,639.1 L1978.5,638.0 L1979.3,636.6 L1980.0,635.0 L1980.5,633.7 L1980.9,632.2 L1981.2,630.5 L1981.5,628.7 L1981.8,626.7 L1982.0,625.4 L1982.2,624.1 L1982.4,622.7 L1982.6,621.4 L1982.7,620.0 L1982.9,618.8 L1983.2,616.9 L1983.5,615.1 L1983.7,613.3 L1984.0,611.5 L1984.2,609.7 L1984.4,607.9 L1984.7,606.0 L1984.9,604.2 L1985.1,602.4 L1985.4,600.6 L1985.6,598.8 L1985.8,596.9 L1986.1,595.1 L1986.3,593.3 L1986.6,591.4 L1986.8,589.6 L1987.0,587.8 L1987.3,585.9 L1987.5,584.1 L1987.8,582.4 L1988.0,580.6 L1988.3,578.7 L1988.5,576.8 L1988.6,575.5 L1988.7,574.2 L1988.9,572.9 L1989.1,571.0 L1989.3,569.1 L1989.6,567.3 L1990.0,565.7 L1990.4,564.2 L1991.2,562.5 L1991.9,561.3 L1993.0,559.8 L1994.2,558.4 L1995.5,557.0 L1996.4,555.9 L1997.3,555.0 L1998.8,553.8 L1999.8,552.8 L2000.9,551.8 L2002.5,551.2 L2003.7,552.0 L2004.9,553.6 L2005.6,554.9 L2006.2,556.2 L2006.9,557.7 L2007.5,559.4 L2008.0,561.3 L2008.3,562.5 L2008.6,563.8 L2009.0,565.7 L2009.4,567.5 L2009.7,568.8 L2009.9,570.1 L2010.0,571.5 L2010.2,572.8 L2010.3,574.1 L2010.7,575.9 L2011.2,577.5 L2011.9,578.7 L2012.7,579.8 L2014.0,581.2 L2015.5,582.1 L2017.4,582.4 L2018.8,582.4 L2020.1,582.4 L2022.0,582.5 L2023.4,582.5 L2024.9,583.3 L2025.6,584.6 L2026.0,586.4 L2026.3,587.7 L2026.5,589.1 L2026.8,590.6 L2027.1,592.3 L2027.4,593.9 L2027.6,595.6 L2027.8,597.3 L2028.0,599.1 L2028.2,601.0 L2028.4,602.9 L2028.6,604.2 L2028.7,605.6 L2028.9,607.3 L2029.0,609.0 L2029.2,610.7 L2029.3,612.5 L2029.4,614.3 L2029.6,616.2 L2029.7,618.0 L2029.9,619.9 L2030.0,621.8 L2030.1,623.7 L2030.2,625.6 L2030.4,627.5 L2030.5,629.4 L2030.6,631.2 L2030.7,633.1 L2030.8,634.9 L2030.9,636.7 L2031.0,638.5 L2031.1,640.3 L2031.2,642.1 L2031.3,643.9 L2031.4,645.7 L2031.5,647.5 L2031.6,649.3 L2031.7,651.2 L2031.8,653.1 L2031.8,655.0 L2031.9,656.8 L2032.0,658.6 L2032.1,660.4 L2032.1,662.2 L2032.2,664.1 L2032.3,666.0 L2032.4,667.9 L2032.4,669.8 L2032.5,671.7 L2032.6,673.6 L2032.6,675.5 L2032.7,677.4 L2032.8,679.2 L2032.8,681.0 L2032.9,682.7 L2033.0,684.4 L2033.0,686.0 L2033.1,687.5 L2033.2,689.0 L2033.2,690.5 L2033.3,692.1 L2033.3,693.7 L2033.3,695.3 L2033.4,696.8 L2033.4,698.2 L2033.5,700.1 L2033.7,701.5 L2035.0,700.3 L2035.4,698.9 L2035.8,697.3 L2036.1,695.7 L2036.4,694.0 L2036.6,692.4 L2036.8,690.6 L2037.0,688.7 L2037.1,687.3 L2037.1,686.0 L2037.2,684.6 L2037.3,683.3 L2037.4,681.9 L2037.5,680.6 L2037.6,678.7 L2037.8,677.0 L2038.0,675.5 L2038.4,673.3 L2038.7,671.7 L2039.0,670.1 L2039.6,668.5 L2040.9,669.1 L2041.5,670.6 L2042.2,672.0 L2043.0,673.2 L2044.0,674.4 L2045.4,674.9 L2046.5,673.4 L2047.2,672.0 L2047.8,670.3 L2048.1,668.4 L2048.2,667.0 L2048.3,665.5 L2048.4,664.1 L2048.5,662.8 L2048.9,661.1 L2050.0,659.6 L2051.3,659.3 L2052.6,659.9 L2053.6,661.5 L2054.3,662.8 L2055.0,664.1 L2055.6,665.3 L2056.8,666.8 L2057.9,667.7 L2058.8,668.8 L2059.1,670.4 L2059.2,671.9 L2059.3,673.4 L2059.3,674.9 L2059.5,676.2 L2060.0,677.5 L2061.9,677.4 L2063.3,677.7 L2063.9,679.2 L2064.2,680.8 L2064.4,682.8 L2064.5,684.2 L2064.5,685.6 L2064.6,687.1 L2064.7,688.6 L2064.8,690.0 L2064.9,691.4 L2065.2,693.2 L2065.4,694.9 L2065.7,696.7 L2066.0,698.4 L2066.3,700.2 L2066.5,702.0 L2066.8,703.9 L2067.1,705.7 L2067.3,707.5 L2067.6,709.3 L2067.8,711.1 L2068.0,712.9 L2068.1,714.7 L2068.3,716.5 L2068.5,718.4 L2068.7,720.2 L2068.8,722.0 L2069.0,723.9 L2069.2,725.7 L2069.4,727.5 L2069.6,729.3 L2069.8,731.1 L2070.1,732.9 L2070.3,734.8 L2070.5,736.6 L2070.8,738.4 L2071.0,740.2 L2071.3,742.0 L2071.5,743.8 L2071.8,745.6 L2072.1,747.5 L2072.4,749.3 L2072.7,751.0 L2072.9,752.8 L2073.2,754.6 L2073.5,756.4 L2073.9,758.2 L2074.2,760.0 L2074.5,761.9 L2074.8,763.7 L2075.1,765.6 L2075.4,767.4 L2075.6,769.2 L2075.8,770.5 L2076.0,771.9 L2076.2,773.2 L2076.4,774.5 L2076.6,775.8 L2076.7,777.2 L2076.9,778.5 L2077.2,780.3 L2077.5,782.1 L2077.8,783.8 L2078.2,785.3 L2078.5,786.7 L2079.0,788.3 L2079.5,789.6 L2080.2,791.3 L2081.2,792.5 L2083.1,793.0 L2084.5,793.1 L2085.8,794.0 L2086.4,795.7 L2086.6,797.4 L2086.8,799.3 L2086.8,800.7 L2086.8,802.1 L2086.8,803.5 L2086.8,804.9 L2086.8,806.3 L2086.9,808.2 L2087.0,810.1 L2087.1,811.5 L2087.1,813.0 L2087.1,814.5 L2087.2,815.9 L2087.2,817.3 L2087.4,819.1 L2087.8,820.5 L2088.7,821.7 L2090.0,822.0 L2090.9,823.1 L2091.3,824.8 L2091.5,826.4 L2091.6,828.3 L2091.7,829.6 L2091.7,831.0 L2091.7,832.4 L2091.7,833.8 L2091.8,835.3 L2091.8,836.7 L2091.8,838.1 L2091.9,839.4 L2092.0,841.2 L2092.1,843.1 L2092.2,844.9 L2092.3,846.8 L2092.4,848.8 L2092.5,850.6 L2092.6,852.5 L2092.7,854.3 L2092.9,856.1 L2093.0,857.7 L2093.2,859.5 L2093.3,860.9 L2093.4,862.4 L2093.5,863.8 L2093.6,865.1 L2093.8,866.9 L2094.2,868.3 L2095.2,869.7 L2096.5,871.0 L2096.8,872.3 L2096.9,874.2 L2096.9,875.7 L2096.9,877.3 L2096.9,878.9 L2096.8,880.5 L2096.8,882.1 L2096.8,883.4 L2097.0,885.1 L2098.0,886.2 L2099.3,885.5 L2100.4,884.6"/>
</g>
<g stroke="#000" stroke-width="6" fill="none" stroke-linecap="butt">
<path d="M342,46.5 V1585.5"/>
<path d="M2180.5,46.5 V1585.5"/>
<path d="M339,76 H2183.5"/>
<path d="M312.5,1556 H2210"/>
<path d="M473.32,1556 v15 M473.32,76 v-15 M604.64,1556 v29.5 M604.64,76 v-29.5 M735.96,1556 v15 M735.96,76 v-15 M867.29,1556 v29.5 M867.29,76 v-29.5 M998.61,1556 v15 M998.61,76 v-15 M1129.93,1556 v29.5 M1129.93,76 v-29.5 M1261.25,1556 v15 M1261.25,76 v-15 M1392.57,1556 v29.5 M1392.57,76 v-29.5 M1523.89,1556 v15 M1523.89,76 v-15 M1655.21,1556 v29.5 M1655.21,76 v-29.5 M1786.54,1556 v15 M1786.54,76 v-15 M1917.86,1556 v29.5 M1917.86,76 v-29.5 M2049.18,1556 v15 M2049.18,76 v-15 M342,1379.75 h-15 M2180.5,1379.75 h15 M342,1203.50 h-29.5 M2180.5,1203.50 h29.5 M342,1027.25 h-15 M2180.5,1027.25 h15 M342,851.00 h-29.5 M2180.5,851.00 h29.5 M342,674.75 h-15 M2180.5,674.75 h15 M342,498.50 h-29.5 M2180.5,498.50 h29.5 M342,322.25 h-15 M2180.5,322.25 h15 M342,146.00 h-29.5 M2180.5,146.00 h29.5"/>
</g>
<text transform="translate(342.00,1655.60) scale(1,1.041)" font-size="62.2" text-anchor="middle">4000</text>
<text transform="translate(604.64,1655.60) scale(1,1.041)" font-size="62.2" text-anchor="middle">3500</text>
<text transform="translate(867.29,1655.60) scale(1,1.041)" font-size="62.2" text-anchor="middle">3000</text>
<text transform="translate(1129.93,1655.60) scale(1,1.041)" font-size="62.2" text-anchor="middle">2500</text>
<text transform="translate(1392.57,1655.60) scale(1,1.041)" font-size="62.2" text-anchor="middle">2000</text>
<text transform="translate(1655.21,1655.60) scale(1,1.041)" font-size="62.2" text-anchor="middle">1500</text>
<text transform="translate(1917.86,1655.60) scale(1,1.041)" font-size="62.2" text-anchor="middle">1000</text>
<text transform="translate(2180.50,1655.60) scale(1,1.041)" font-size="62.2" text-anchor="middle">500</text>
<text transform="translate(293.00,1576.60) scale(1,1.041)" font-size="62.2" text-anchor="end">80</text>
<text transform="translate(293.00,1224.10) scale(1,1.041)" font-size="62.2" text-anchor="end">85</text>
<text transform="translate(293.00,871.60) scale(1,1.041)" font-size="62.2" text-anchor="end">90</text>
<text transform="translate(293.00,519.10) scale(1,1.041)" font-size="62.2" text-anchor="end">95</text>
<text transform="translate(293.00,166.60) scale(1,1.041)" font-size="62.2" text-anchor="end">100</text>
<text transform="translate(924.00,1782.00) scale(1,1.015)" font-size="77.2" text-anchor="start" dx="0 -3.3">Wavenumber (cm<tspan font-size="51.4" dy="-30.5">-1</tspan><tspan dy="30.5">)</tspan></text>
<text transform="translate(102.30,1098.20) rotate(-90) scale(1,1.015)" font-size="76.8" text-anchor="start">Transmittance (%)</text>
<rect x="511.5" y="1159.2" width="403.4" height="201.6" fill="#fff" stroke="#000" stroke-width="2.8"/>
<g stroke-width="6.3" stroke-linecap="round"><path stroke="#B23CFF" d="M522,1212.8 H695"/><path stroke="#FF8000" d="M522,1307.3 H695"/></g>
<text transform="translate(715.30,1239.70) scale(1,1.041)" font-size="77.2" text-anchor="start">DEP</text>
<text transform="translate(715.30,1334.00) scale(1,1.041)" font-size="77.2" text-anchor="start">PP01</text>
<text transform="translate(661.50,672.00) scale(1,1.041)" font-size="69.9" text-anchor="start">O-H</text>
<text transform="translate(907.50,552.00) scale(1,1.041)" font-size="69.9" text-anchor="start">C-H</text>
<text transform="translate(1440.00,434.00) scale(1,1.041)" font-size="69.9" text-anchor="start">C=O</text>
<text transform="translate(1525.00,894.00) scale(1,1.041)" font-size="69.9" text-anchor="start">COO-</text>
<text transform="translate(1525.00,980.00) scale(1,1.041)" font-size="69.9" text-anchor="start">C=C</text>
<text transform="translate(1722.70,736.80) scale(1,1.041)" font-size="69.9" text-anchor="start">C-O</text>
<text transform="translate(1776.00,679.00) scale(1,1.041)" font-size="69.9" text-anchor="start">C-O-C</text>
<text transform="translate(1959.00,789.30) scale(1,1.041)" font-size="69.9" text-anchor="start">N-H</text>
<text transform="translate(1812.50,1384.50) scale(1,1.041)" font-size="69.9" text-anchor="start">C-O-C</text>
<text transform="translate(1655.50,793.80) scale(1,1.041)" font-size="69.9" text-anchor="start">-CH<tspan font-size="44.7" dy="17.3">3</tspan></text>
</svg></body></html>
